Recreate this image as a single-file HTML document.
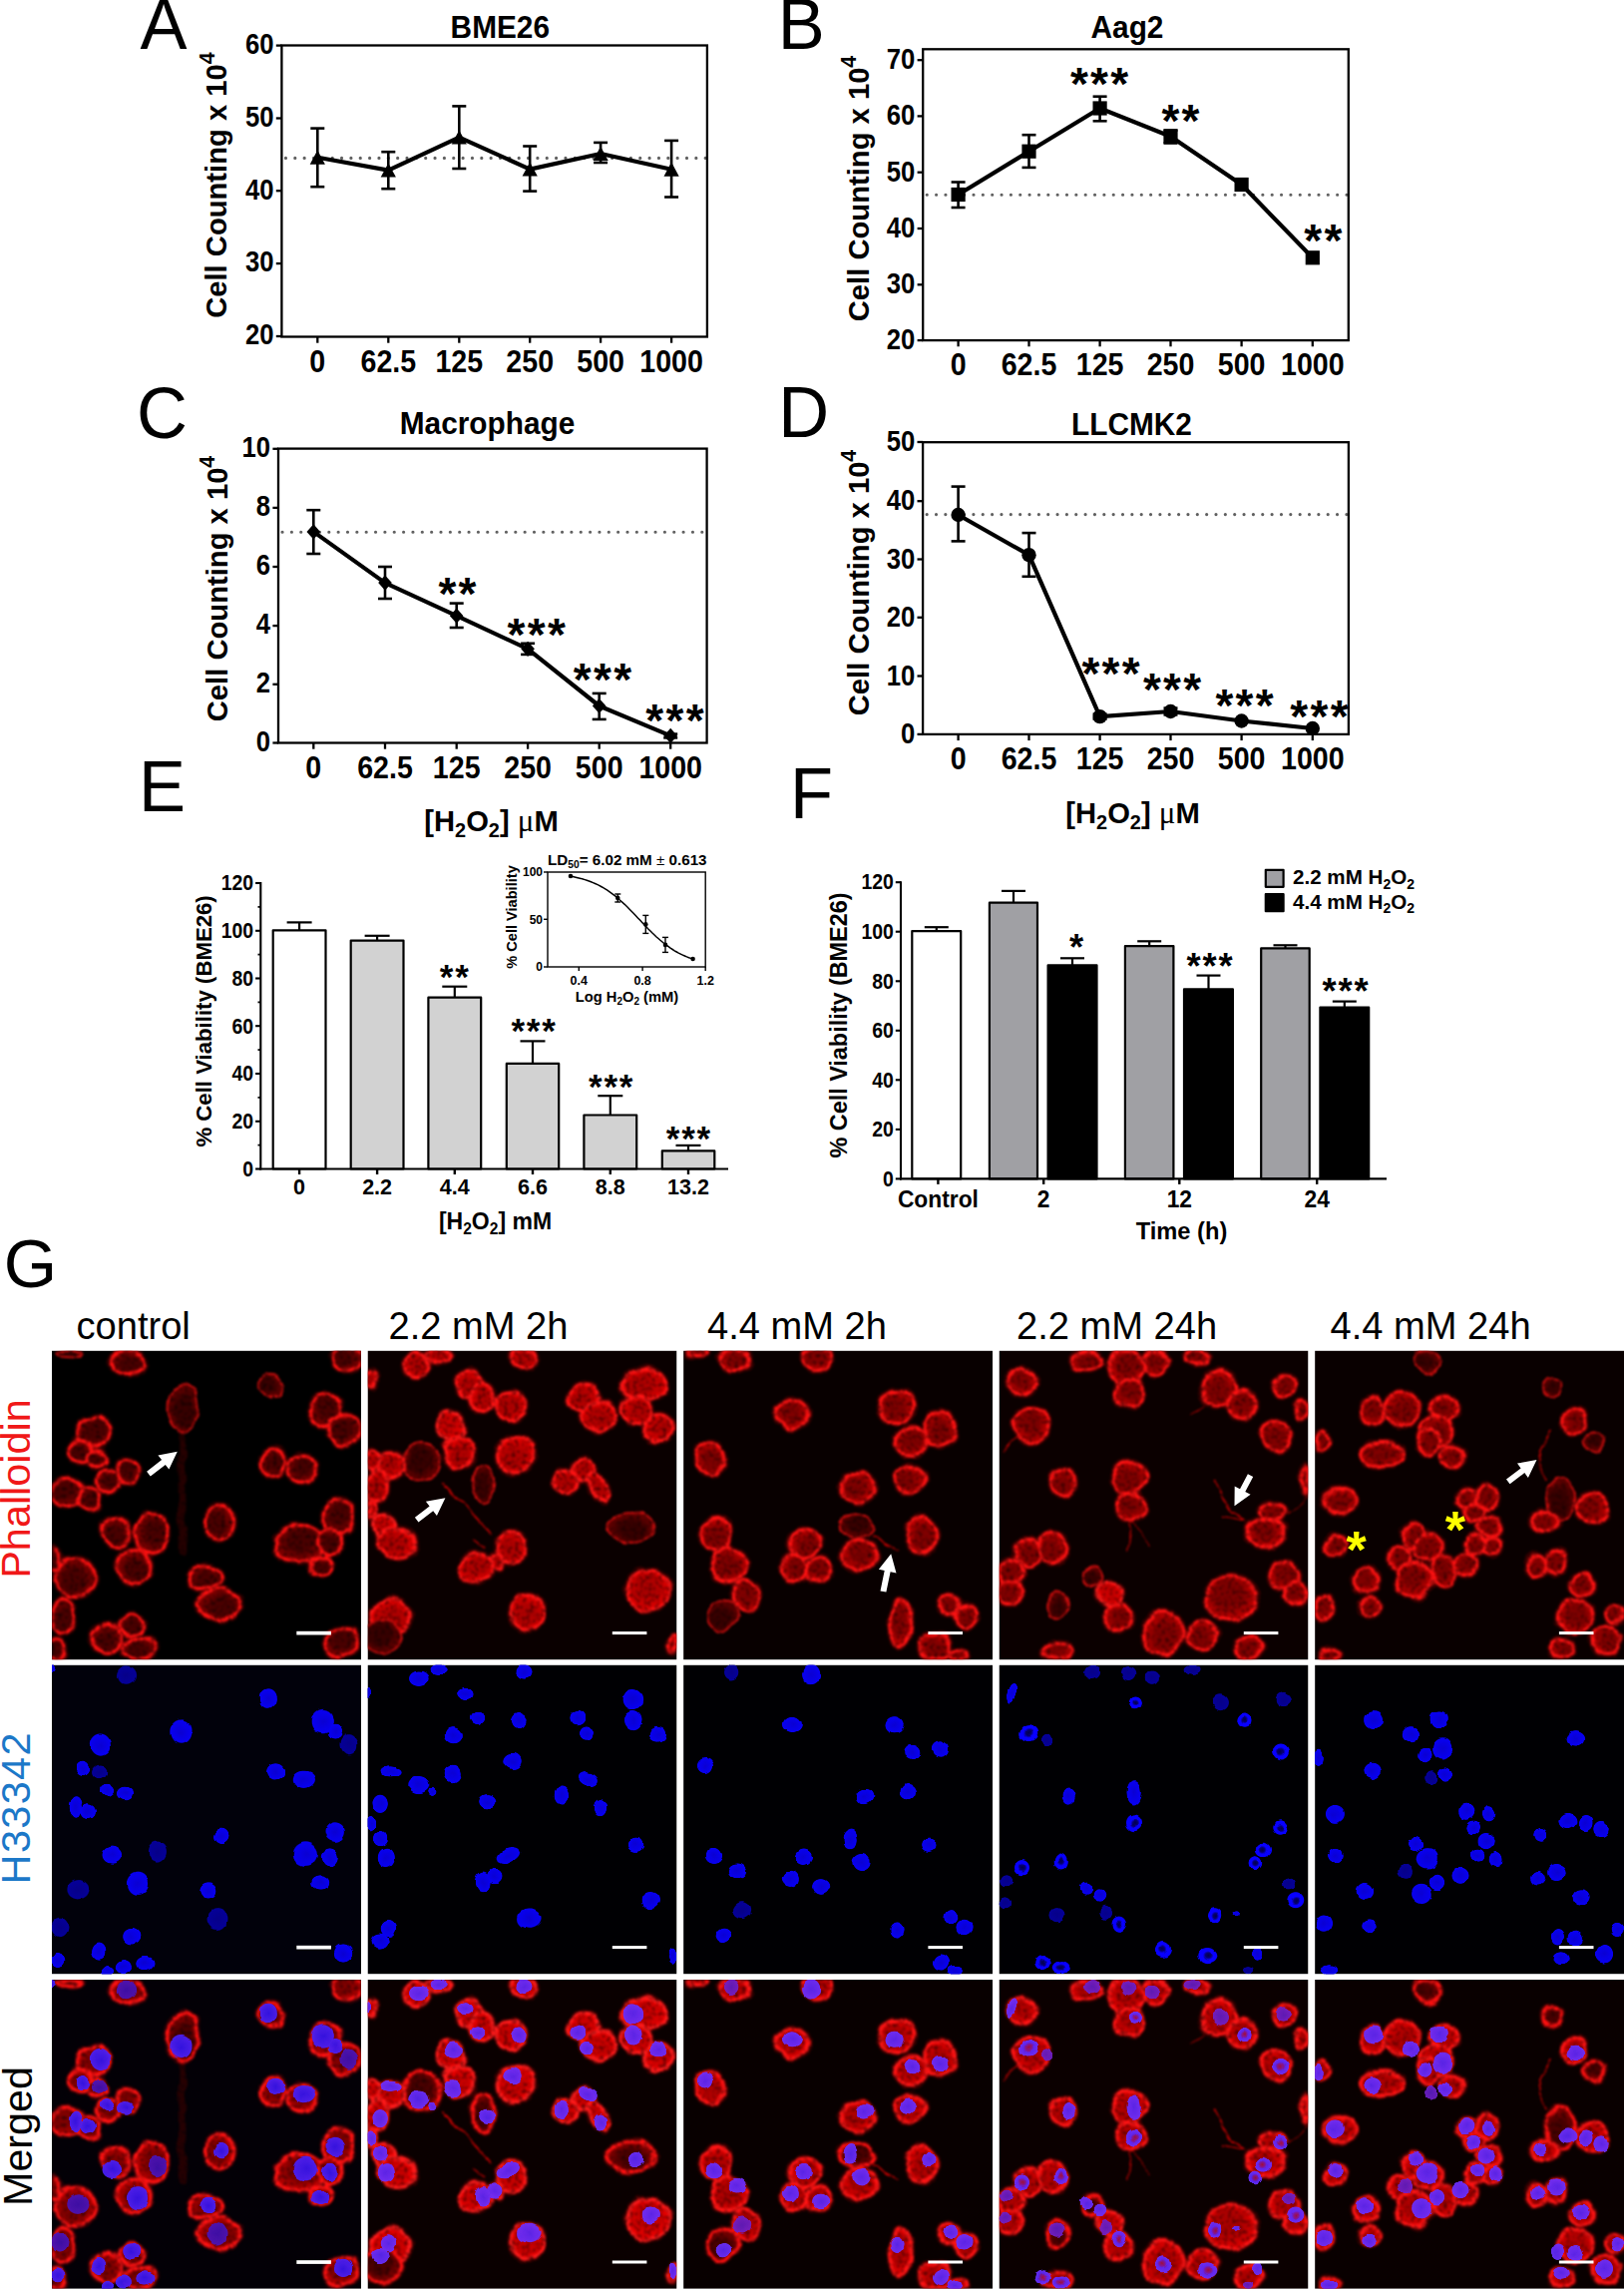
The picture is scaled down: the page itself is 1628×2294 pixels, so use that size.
<!DOCTYPE html>
<html lang="en"><head><meta charset="utf-8"><title>Figure</title>
<style>html,body{margin:0;padding:0;background:#fff}svg{display:block}text{font-family:"Liberation Sans", sans-serif}</style></head><body>
<svg width="1628" height="2294" viewBox="0 0 1628 2294">
<rect width="1628" height="2294" fill="#fff"/>
<defs>
<radialGradient id="gn00" cx="0.5" cy="0.5" r="0.5" fx="0.72" fy="0.50"><stop offset="0" stop-color="#4a0000"/><stop offset="0.55" stop-color="#4a0000"/><stop offset="1" stop-color="#900000"/></radialGradient>
<radialGradient id="gn01" cx="0.5" cy="0.5" r="0.5" fx="0.61" fy="0.69"><stop offset="0" stop-color="#4a0000"/><stop offset="0.55" stop-color="#4a0000"/><stop offset="1" stop-color="#900000"/></radialGradient>
<radialGradient id="gn02" cx="0.5" cy="0.5" r="0.5" fx="0.39" fy="0.69"><stop offset="0" stop-color="#4a0000"/><stop offset="0.55" stop-color="#4a0000"/><stop offset="1" stop-color="#900000"/></radialGradient>
<radialGradient id="gn03" cx="0.5" cy="0.5" r="0.5" fx="0.28" fy="0.50"><stop offset="0" stop-color="#4a0000"/><stop offset="0.55" stop-color="#4a0000"/><stop offset="1" stop-color="#900000"/></radialGradient>
<radialGradient id="gn04" cx="0.5" cy="0.5" r="0.5" fx="0.39" fy="0.31"><stop offset="0" stop-color="#4a0000"/><stop offset="0.55" stop-color="#4a0000"/><stop offset="1" stop-color="#900000"/></radialGradient>
<radialGradient id="gn05" cx="0.5" cy="0.5" r="0.5" fx="0.61" fy="0.31"><stop offset="0" stop-color="#4a0000"/><stop offset="0.55" stop-color="#4a0000"/><stop offset="1" stop-color="#900000"/></radialGradient>
<radialGradient id="gn10" cx="0.5" cy="0.5" r="0.5" fx="0.72" fy="0.50"><stop offset="0" stop-color="#b00000"/><stop offset="0.55" stop-color="#b00000"/><stop offset="1" stop-color="#e60000"/></radialGradient>
<radialGradient id="gn11" cx="0.5" cy="0.5" r="0.5" fx="0.61" fy="0.69"><stop offset="0" stop-color="#b00000"/><stop offset="0.55" stop-color="#b00000"/><stop offset="1" stop-color="#e60000"/></radialGradient>
<radialGradient id="gn12" cx="0.5" cy="0.5" r="0.5" fx="0.39" fy="0.69"><stop offset="0" stop-color="#b00000"/><stop offset="0.55" stop-color="#b00000"/><stop offset="1" stop-color="#e60000"/></radialGradient>
<radialGradient id="gn13" cx="0.5" cy="0.5" r="0.5" fx="0.28" fy="0.50"><stop offset="0" stop-color="#b00000"/><stop offset="0.55" stop-color="#b00000"/><stop offset="1" stop-color="#e60000"/></radialGradient>
<radialGradient id="gn14" cx="0.5" cy="0.5" r="0.5" fx="0.39" fy="0.31"><stop offset="0" stop-color="#b00000"/><stop offset="0.55" stop-color="#b00000"/><stop offset="1" stop-color="#e60000"/></radialGradient>
<radialGradient id="gn15" cx="0.5" cy="0.5" r="0.5" fx="0.61" fy="0.31"><stop offset="0" stop-color="#b00000"/><stop offset="0.55" stop-color="#b00000"/><stop offset="1" stop-color="#e60000"/></radialGradient>
<radialGradient id="gn20" cx="0.5" cy="0.5" r="0.5" fx="0.72" fy="0.50"><stop offset="0" stop-color="#800000"/><stop offset="0.55" stop-color="#800000"/><stop offset="1" stop-color="#c40000"/></radialGradient>
<radialGradient id="gn21" cx="0.5" cy="0.5" r="0.5" fx="0.61" fy="0.69"><stop offset="0" stop-color="#800000"/><stop offset="0.55" stop-color="#800000"/><stop offset="1" stop-color="#c40000"/></radialGradient>
<radialGradient id="gn22" cx="0.5" cy="0.5" r="0.5" fx="0.39" fy="0.69"><stop offset="0" stop-color="#800000"/><stop offset="0.55" stop-color="#800000"/><stop offset="1" stop-color="#c40000"/></radialGradient>
<radialGradient id="gn23" cx="0.5" cy="0.5" r="0.5" fx="0.28" fy="0.50"><stop offset="0" stop-color="#800000"/><stop offset="0.55" stop-color="#800000"/><stop offset="1" stop-color="#c40000"/></radialGradient>
<radialGradient id="gn24" cx="0.5" cy="0.5" r="0.5" fx="0.39" fy="0.31"><stop offset="0" stop-color="#800000"/><stop offset="0.55" stop-color="#800000"/><stop offset="1" stop-color="#c40000"/></radialGradient>
<radialGradient id="gn25" cx="0.5" cy="0.5" r="0.5" fx="0.61" fy="0.31"><stop offset="0" stop-color="#800000"/><stop offset="0.55" stop-color="#800000"/><stop offset="1" stop-color="#c40000"/></radialGradient>
<radialGradient id="gd0" cx="0.5" cy="0.5" r="0.5" fx="0.72" fy="0.50"><stop offset="0" stop-color="#380000"/><stop offset="0.55" stop-color="#380000"/><stop offset="1" stop-color="#6c0000"/></radialGradient>
<radialGradient id="gd1" cx="0.5" cy="0.5" r="0.5" fx="0.61" fy="0.69"><stop offset="0" stop-color="#380000"/><stop offset="0.55" stop-color="#380000"/><stop offset="1" stop-color="#6c0000"/></radialGradient>
<radialGradient id="gd2" cx="0.5" cy="0.5" r="0.5" fx="0.39" fy="0.69"><stop offset="0" stop-color="#380000"/><stop offset="0.55" stop-color="#380000"/><stop offset="1" stop-color="#6c0000"/></radialGradient>
<radialGradient id="gd3" cx="0.5" cy="0.5" r="0.5" fx="0.28" fy="0.50"><stop offset="0" stop-color="#380000"/><stop offset="0.55" stop-color="#380000"/><stop offset="1" stop-color="#6c0000"/></radialGradient>
<radialGradient id="gd4" cx="0.5" cy="0.5" r="0.5" fx="0.39" fy="0.31"><stop offset="0" stop-color="#380000"/><stop offset="0.55" stop-color="#380000"/><stop offset="1" stop-color="#6c0000"/></radialGradient>
<radialGradient id="gd5" cx="0.5" cy="0.5" r="0.5" fx="0.61" fy="0.31"><stop offset="0" stop-color="#380000"/><stop offset="0.55" stop-color="#380000"/><stop offset="1" stop-color="#6c0000"/></radialGradient>
<radialGradient id="gb0" cx="0.5" cy="0.5" r="0.5" fx="0.72" fy="0.50"><stop offset="0" stop-color="#c80000"/><stop offset="0.55" stop-color="#c80000"/><stop offset="1" stop-color="#f00000"/></radialGradient>
<radialGradient id="gb1" cx="0.5" cy="0.5" r="0.5" fx="0.61" fy="0.69"><stop offset="0" stop-color="#c80000"/><stop offset="0.55" stop-color="#c80000"/><stop offset="1" stop-color="#f00000"/></radialGradient>
<radialGradient id="gb2" cx="0.5" cy="0.5" r="0.5" fx="0.39" fy="0.69"><stop offset="0" stop-color="#c80000"/><stop offset="0.55" stop-color="#c80000"/><stop offset="1" stop-color="#f00000"/></radialGradient>
<radialGradient id="gb3" cx="0.5" cy="0.5" r="0.5" fx="0.28" fy="0.50"><stop offset="0" stop-color="#c80000"/><stop offset="0.55" stop-color="#c80000"/><stop offset="1" stop-color="#f00000"/></radialGradient>
<radialGradient id="gb4" cx="0.5" cy="0.5" r="0.5" fx="0.39" fy="0.31"><stop offset="0" stop-color="#c80000"/><stop offset="0.55" stop-color="#c80000"/><stop offset="1" stop-color="#f00000"/></radialGradient>
<radialGradient id="gb5" cx="0.5" cy="0.5" r="0.5" fx="0.61" fy="0.31"><stop offset="0" stop-color="#c80000"/><stop offset="0.55" stop-color="#c80000"/><stop offset="1" stop-color="#f00000"/></radialGradient>
<radialGradient id="gb" cx="50%" cy="50%" r="50%"><stop offset="0" stop-color="#0a00d2"/><stop offset="0.9" stop-color="#0800f0"/><stop offset="1" stop-color="#0000ff" stop-opacity="0"/></radialGradient>
<radialGradient id="gbd" cx="50%" cy="50%" r="50%"><stop offset="0" stop-color="#060088"/><stop offset="0.88" stop-color="#050098"/><stop offset="1" stop-color="#0000a0" stop-opacity="0"/></radialGradient>
<radialGradient id="gbr" cx="50%" cy="50%" r="50%"><stop offset="0" stop-color="#02004a"/><stop offset="0.3" stop-color="#050070"/><stop offset="0.55" stop-color="#0800ff"/><stop offset="0.88" stop-color="#0800ff"/><stop offset="1" stop-color="#0000ff" stop-opacity="0"/></radialGradient>
<radialGradient id="gm" cx="50%" cy="50%" r="50%"><stop offset="0" stop-color="#5626f6"/><stop offset="0.9" stop-color="#6a30ff"/><stop offset="1" stop-color="#6a30ff" stop-opacity="0"/></radialGradient>
<radialGradient id="gm0" cx="50%" cy="50%" r="50%"><stop offset="0" stop-color="#3214ee"/><stop offset="0.9" stop-color="#4a20f8"/><stop offset="1" stop-color="#4a20f8" stop-opacity="0"/></radialGradient>
<radialGradient id="gmd" cx="50%" cy="50%" r="50%"><stop offset="0" stop-color="#5a1cc0"/><stop offset="0.9" stop-color="#7020c8"/><stop offset="1" stop-color="#7020c8" stop-opacity="0"/></radialGradient>
<radialGradient id="gm0d" cx="50%" cy="50%" r="50%"><stop offset="0" stop-color="#3a10b0"/><stop offset="0.9" stop-color="#4a14b8"/><stop offset="1" stop-color="#4a14b8" stop-opacity="0"/></radialGradient>
<radialGradient id="gmr" cx="50%" cy="50%" r="50%"><stop offset="0" stop-color="#a01040"/><stop offset="0.35" stop-color="#8018a0"/><stop offset="0.55" stop-color="#5a28ff"/><stop offset="0.9" stop-color="#6a30ff"/><stop offset="1" stop-color="#6a30ff" stop-opacity="0"/></radialGradient>
<filter id="fr0" filterUnits="userSpaceOnUse" x="0" y="0" width="310.0" height="309.8" color-interpolation-filters="sRGB"><feTurbulence type="fractalNoise" baseFrequency="0.045" numOctaves="2" seed="3" result="n"/><feDisplacementMap in="SourceGraphic" in2="n" scale="9" xChannelSelector="R" yChannelSelector="G" result="d"/><feTurbulence type="fractalNoise" baseFrequency="0.27" numOctaves="2" seed="11" result="n2"/><feColorMatrix in="n2" type="matrix" values="0 0 0 0 1  0 0 0 0 1  0 0 0 0 1  1.7 0 0 0 0.08" result="a"/><feComposite in="d" in2="a" operator="in" result="t"/><feGaussianBlur in="t" stdDeviation="0.95"/></filter>
<filter id="fb0" filterUnits="userSpaceOnUse" x="0" y="0" width="310.0" height="309.8" color-interpolation-filters="sRGB"><feTurbulence type="fractalNoise" baseFrequency="0.07" numOctaves="2" seed="5" result="n"/><feDisplacementMap in="SourceGraphic" in2="n" scale="5" xChannelSelector="R" yChannelSelector="G" result="d"/><feGaussianBlur in="d" stdDeviation="0.5"/></filter>
<clipPath id="clip0"><rect x="0" y="0" width="310.0" height="309.8"/></clipPath>
<filter id="fr1" filterUnits="userSpaceOnUse" x="0" y="0" width="310.0" height="309.8" color-interpolation-filters="sRGB"><feTurbulence type="fractalNoise" baseFrequency="0.045" numOctaves="2" seed="10" result="n"/><feDisplacementMap in="SourceGraphic" in2="n" scale="9" xChannelSelector="R" yChannelSelector="G" result="d"/><feTurbulence type="fractalNoise" baseFrequency="0.27" numOctaves="2" seed="16" result="n2"/><feColorMatrix in="n2" type="matrix" values="0 0 0 0 1  0 0 0 0 1  0 0 0 0 1  1.7 0 0 0 0.08" result="a"/><feComposite in="d" in2="a" operator="in" result="t"/><feGaussianBlur in="t" stdDeviation="0.95"/></filter>
<filter id="fb1" filterUnits="userSpaceOnUse" x="0" y="0" width="310.0" height="309.8" color-interpolation-filters="sRGB"><feTurbulence type="fractalNoise" baseFrequency="0.07" numOctaves="2" seed="8" result="n"/><feDisplacementMap in="SourceGraphic" in2="n" scale="5" xChannelSelector="R" yChannelSelector="G" result="d"/><feGaussianBlur in="d" stdDeviation="0.5"/></filter>
<clipPath id="clip1"><rect x="0" y="0" width="310.0" height="309.8"/></clipPath>
<filter id="fr2" filterUnits="userSpaceOnUse" x="0" y="0" width="310.0" height="309.8" color-interpolation-filters="sRGB"><feTurbulence type="fractalNoise" baseFrequency="0.045" numOctaves="2" seed="17" result="n"/><feDisplacementMap in="SourceGraphic" in2="n" scale="9" xChannelSelector="R" yChannelSelector="G" result="d"/><feTurbulence type="fractalNoise" baseFrequency="0.27" numOctaves="2" seed="21" result="n2"/><feColorMatrix in="n2" type="matrix" values="0 0 0 0 1  0 0 0 0 1  0 0 0 0 1  1.7 0 0 0 0.08" result="a"/><feComposite in="d" in2="a" operator="in" result="t"/><feGaussianBlur in="t" stdDeviation="0.95"/></filter>
<filter id="fb2" filterUnits="userSpaceOnUse" x="0" y="0" width="310.0" height="309.8" color-interpolation-filters="sRGB"><feTurbulence type="fractalNoise" baseFrequency="0.07" numOctaves="2" seed="11" result="n"/><feDisplacementMap in="SourceGraphic" in2="n" scale="5" xChannelSelector="R" yChannelSelector="G" result="d"/><feGaussianBlur in="d" stdDeviation="0.5"/></filter>
<clipPath id="clip2"><rect x="0" y="0" width="310.0" height="309.8"/></clipPath>
<filter id="fr3" filterUnits="userSpaceOnUse" x="0" y="0" width="310.0" height="309.8" color-interpolation-filters="sRGB"><feTurbulence type="fractalNoise" baseFrequency="0.045" numOctaves="2" seed="24" result="n"/><feDisplacementMap in="SourceGraphic" in2="n" scale="9" xChannelSelector="R" yChannelSelector="G" result="d"/><feTurbulence type="fractalNoise" baseFrequency="0.27" numOctaves="2" seed="26" result="n2"/><feColorMatrix in="n2" type="matrix" values="0 0 0 0 1  0 0 0 0 1  0 0 0 0 1  1.7 0 0 0 0.08" result="a"/><feComposite in="d" in2="a" operator="in" result="t"/><feGaussianBlur in="t" stdDeviation="0.95"/></filter>
<filter id="fb3" filterUnits="userSpaceOnUse" x="0" y="0" width="310.0" height="309.8" color-interpolation-filters="sRGB"><feTurbulence type="fractalNoise" baseFrequency="0.07" numOctaves="2" seed="14" result="n"/><feDisplacementMap in="SourceGraphic" in2="n" scale="5" xChannelSelector="R" yChannelSelector="G" result="d"/><feGaussianBlur in="d" stdDeviation="0.5"/></filter>
<clipPath id="clip3"><rect x="0" y="0" width="310.0" height="309.8"/></clipPath>
<filter id="fr4" filterUnits="userSpaceOnUse" x="0" y="0" width="310.0" height="309.8" color-interpolation-filters="sRGB"><feTurbulence type="fractalNoise" baseFrequency="0.045" numOctaves="2" seed="31" result="n"/><feDisplacementMap in="SourceGraphic" in2="n" scale="9" xChannelSelector="R" yChannelSelector="G" result="d"/><feTurbulence type="fractalNoise" baseFrequency="0.27" numOctaves="2" seed="31" result="n2"/><feColorMatrix in="n2" type="matrix" values="0 0 0 0 1  0 0 0 0 1  0 0 0 0 1  1.7 0 0 0 0.08" result="a"/><feComposite in="d" in2="a" operator="in" result="t"/><feGaussianBlur in="t" stdDeviation="0.95"/></filter>
<filter id="fb4" filterUnits="userSpaceOnUse" x="0" y="0" width="310.0" height="309.8" color-interpolation-filters="sRGB"><feTurbulence type="fractalNoise" baseFrequency="0.07" numOctaves="2" seed="17" result="n"/><feDisplacementMap in="SourceGraphic" in2="n" scale="5" xChannelSelector="R" yChannelSelector="G" result="d"/><feGaussianBlur in="d" stdDeviation="0.5"/></filter>
<clipPath id="clip4"><rect x="0" y="0" width="310.0" height="309.8"/></clipPath>
</defs>
<text transform="translate(140.5 49) scale(1 1.025)" font-size="70.5" fill="#000">A</text>
<text transform="translate(779.8 48.5) scale(1 1.025)" font-size="70.5" fill="#000">B</text>
<text transform="translate(137 439.2) scale(1 1.025)" font-size="70.5" fill="#000">C</text>
<text transform="translate(780.2 437.5) scale(1 1.025)" font-size="70.5" fill="#000">D</text>
<text transform="translate(139.1 812.6) scale(1 1.025)" font-size="70.5" fill="#000">E</text>
<text transform="translate(792 819.9) scale(1 1.025)" font-size="70.5" fill="#000">F</text>
<text transform="translate(3.7 1290.4) scale(1 1.0)" font-size="68.6" fill="#000">G</text>
<line x1="286.4" y1="158.4" x2="707.9" y2="158.4" stroke="#606060" stroke-width="3.1" stroke-linecap="round" stroke-dasharray="0.1 9.25"/>
<rect x="282.4" y="45.5" width="426.5" height="292.0" fill="none" stroke="#000" stroke-width="2.3"/>
<line x1="276.8" y1="45.6" x2="282.4" y2="45.6" stroke="#000" stroke-width="2.3"/>
<text transform="translate(274.5 53.9) scale(0.95 1.06)" font-size="27" font-weight="bold" text-anchor="end" fill="#000">60</text>
<line x1="276.8" y1="118.5" x2="282.4" y2="118.5" stroke="#000" stroke-width="2.3"/>
<text transform="translate(274.5 126.8) scale(0.95 1.06)" font-size="27" font-weight="bold" text-anchor="end" fill="#000">50</text>
<line x1="276.8" y1="191.2" x2="282.4" y2="191.2" stroke="#000" stroke-width="2.3"/>
<text transform="translate(274.5 199.5) scale(0.95 1.06)" font-size="27" font-weight="bold" text-anchor="end" fill="#000">40</text>
<line x1="276.8" y1="264.1" x2="282.4" y2="264.1" stroke="#000" stroke-width="2.3"/>
<text transform="translate(274.5 272.4) scale(0.95 1.06)" font-size="27" font-weight="bold" text-anchor="end" fill="#000">30</text>
<line x1="276.8" y1="337.0" x2="282.4" y2="337.0" stroke="#000" stroke-width="2.3"/>
<text transform="translate(274.5 345.3) scale(0.95 1.06)" font-size="27" font-weight="bold" text-anchor="end" fill="#000">20</text>
<line x1="318.3" y1="337.5" x2="318.3" y2="343.7" stroke="#000" stroke-width="2.3"/>
<text transform="translate(318.3 372.5) scale(1 1.08)" font-size="28.6" font-weight="bold" text-anchor="middle" fill="#000">0</text>
<line x1="389.3" y1="337.5" x2="389.3" y2="343.7" stroke="#000" stroke-width="2.3"/>
<text transform="translate(389.3 372.5) scale(1 1.08)" font-size="28.6" font-weight="bold" text-anchor="middle" fill="#000">62.5</text>
<line x1="460.3" y1="337.5" x2="460.3" y2="343.7" stroke="#000" stroke-width="2.3"/>
<text transform="translate(460.3 372.5) scale(1 1.08)" font-size="28.6" font-weight="bold" text-anchor="middle" fill="#000">125</text>
<line x1="531.2" y1="337.5" x2="531.2" y2="343.7" stroke="#000" stroke-width="2.3"/>
<text transform="translate(531.2 372.5) scale(1 1.08)" font-size="28.6" font-weight="bold" text-anchor="middle" fill="#000">250</text>
<line x1="602.1" y1="337.5" x2="602.1" y2="343.7" stroke="#000" stroke-width="2.3"/>
<text transform="translate(602.1 372.5) scale(1 1.08)" font-size="28.6" font-weight="bold" text-anchor="middle" fill="#000">500</text>
<line x1="673.1" y1="337.5" x2="673.1" y2="343.7" stroke="#000" stroke-width="2.3"/>
<text transform="translate(673.1 372.5) scale(1 1.08)" font-size="28.6" font-weight="bold" text-anchor="middle" fill="#000">1000</text>
<line x1="318.3" y1="128.6" x2="318.3" y2="187.2" stroke="#000" stroke-width="2.6"/>
<line x1="311.3" y1="128.6" x2="325.3" y2="128.6" stroke="#000" stroke-width="2.6"/>
<line x1="311.3" y1="187.2" x2="325.3" y2="187.2" stroke="#000" stroke-width="2.6"/>
<line x1="389.3" y1="152.2" x2="389.3" y2="189.2" stroke="#000" stroke-width="2.6"/>
<line x1="382.3" y1="152.2" x2="396.3" y2="152.2" stroke="#000" stroke-width="2.6"/>
<line x1="382.3" y1="189.2" x2="396.3" y2="189.2" stroke="#000" stroke-width="2.6"/>
<line x1="460.3" y1="106.4" x2="460.3" y2="169.0" stroke="#000" stroke-width="2.6"/>
<line x1="453.3" y1="106.4" x2="467.3" y2="106.4" stroke="#000" stroke-width="2.6"/>
<line x1="453.3" y1="169.0" x2="467.3" y2="169.0" stroke="#000" stroke-width="2.6"/>
<line x1="531.2" y1="146.5" x2="531.2" y2="191.6" stroke="#000" stroke-width="2.6"/>
<line x1="524.2" y1="146.5" x2="538.2" y2="146.5" stroke="#000" stroke-width="2.6"/>
<line x1="524.2" y1="191.6" x2="538.2" y2="191.6" stroke="#000" stroke-width="2.6"/>
<line x1="602.1" y1="142.9" x2="602.1" y2="163.0" stroke="#000" stroke-width="2.6"/>
<line x1="595.1" y1="142.9" x2="609.1" y2="142.9" stroke="#000" stroke-width="2.6"/>
<line x1="595.1" y1="163.0" x2="609.1" y2="163.0" stroke="#000" stroke-width="2.6"/>
<line x1="673.1" y1="140.9" x2="673.1" y2="197.5" stroke="#000" stroke-width="2.6"/>
<line x1="666.1" y1="140.9" x2="680.1" y2="140.9" stroke="#000" stroke-width="2.6"/>
<line x1="666.1" y1="197.5" x2="680.1" y2="197.5" stroke="#000" stroke-width="2.6"/>
<polyline points="318.3,157.8 389.3,170.6 460.3,137.6 531.2,169.6 602.1,154.0 673.1,169.8" fill="none" stroke="#000" stroke-width="4.2" stroke-linejoin="round"/>
<polygon points="318.3,150.6 310.7,164.7 325.9,164.7" fill="#000"/>
<polygon points="389.3,163.4 381.7,177.5 396.9,177.5" fill="#000"/>
<polygon points="460.3,130.4 452.7,144.5 467.9,144.5" fill="#000"/>
<polygon points="531.2,162.4 523.6,176.5 538.8,176.5" fill="#000"/>
<polygon points="602.1,146.8 594.5,160.9 609.7,160.9" fill="#000"/>
<polygon points="673.1,162.6 665.5,176.7 680.7,176.7" fill="#000"/>
<text transform="translate(501.3 37.9) scale(1 1.03)" font-size="29.8" font-weight="bold" text-anchor="middle" fill="#000">BME26</text>
<text x="227.5" y="185.6" font-size="29.2" font-weight="bold" text-anchor="middle" fill="#000" transform="rotate(-90 227.5 185.6)">Cell Counting x 10<tspan font-size="21.3" dy="-12.8">4</tspan></text>
<line x1="929.2" y1="195.2" x2="1350.8" y2="195.2" stroke="#606060" stroke-width="3.1" stroke-linecap="round" stroke-dasharray="0.1 9.25"/>
<rect x="925.2" y="49.3" width="426.6" height="291.8" fill="none" stroke="#000" stroke-width="2.3"/>
<line x1="919.6" y1="60.2" x2="925.2" y2="60.2" stroke="#000" stroke-width="2.3"/>
<text transform="translate(917.3 69.0) scale(0.95 1.06)" font-size="27" font-weight="bold" text-anchor="end" fill="#000">70</text>
<line x1="919.6" y1="116.4" x2="925.2" y2="116.4" stroke="#000" stroke-width="2.3"/>
<text transform="translate(917.3 125.2) scale(0.95 1.06)" font-size="27" font-weight="bold" text-anchor="end" fill="#000">60</text>
<line x1="919.6" y1="172.7" x2="925.2" y2="172.7" stroke="#000" stroke-width="2.3"/>
<text transform="translate(917.3 181.5) scale(0.95 1.06)" font-size="27" font-weight="bold" text-anchor="end" fill="#000">50</text>
<line x1="919.6" y1="229.0" x2="925.2" y2="229.0" stroke="#000" stroke-width="2.3"/>
<text transform="translate(917.3 237.8) scale(0.95 1.06)" font-size="27" font-weight="bold" text-anchor="end" fill="#000">40</text>
<line x1="919.6" y1="285.3" x2="925.2" y2="285.3" stroke="#000" stroke-width="2.3"/>
<text transform="translate(917.3 294.1) scale(0.95 1.06)" font-size="27" font-weight="bold" text-anchor="end" fill="#000">30</text>
<line x1="919.6" y1="341.1" x2="925.2" y2="341.1" stroke="#000" stroke-width="2.3"/>
<text transform="translate(917.3 349.9) scale(0.95 1.06)" font-size="27" font-weight="bold" text-anchor="end" fill="#000">20</text>
<line x1="960.6" y1="341.1" x2="960.6" y2="347.3" stroke="#000" stroke-width="2.3"/>
<text transform="translate(960.6 376.1) scale(1 1.08)" font-size="28.6" font-weight="bold" text-anchor="middle" fill="#000">0</text>
<line x1="1031.5" y1="341.1" x2="1031.5" y2="347.3" stroke="#000" stroke-width="2.3"/>
<text transform="translate(1031.5 376.1) scale(1 1.08)" font-size="28.6" font-weight="bold" text-anchor="middle" fill="#000">62.5</text>
<line x1="1102.6" y1="341.1" x2="1102.6" y2="347.3" stroke="#000" stroke-width="2.3"/>
<text transform="translate(1102.6 376.1) scale(1 1.08)" font-size="28.6" font-weight="bold" text-anchor="middle" fill="#000">125</text>
<line x1="1173.5" y1="341.1" x2="1173.5" y2="347.3" stroke="#000" stroke-width="2.3"/>
<text transform="translate(1173.5 376.1) scale(1 1.08)" font-size="28.6" font-weight="bold" text-anchor="middle" fill="#000">250</text>
<line x1="1244.6" y1="341.1" x2="1244.6" y2="347.3" stroke="#000" stroke-width="2.3"/>
<text transform="translate(1244.6 376.1) scale(1 1.08)" font-size="28.6" font-weight="bold" text-anchor="middle" fill="#000">500</text>
<line x1="1315.8" y1="341.1" x2="1315.8" y2="347.3" stroke="#000" stroke-width="2.3"/>
<text transform="translate(1315.8 376.1) scale(1 1.08)" font-size="28.6" font-weight="bold" text-anchor="middle" fill="#000">1000</text>
<line x1="960.6" y1="182.5" x2="960.6" y2="208.0" stroke="#000" stroke-width="2.6"/>
<line x1="953.6" y1="182.5" x2="967.6" y2="182.5" stroke="#000" stroke-width="2.6"/>
<line x1="953.6" y1="208.0" x2="967.6" y2="208.0" stroke="#000" stroke-width="2.6"/>
<line x1="1031.5" y1="135.2" x2="1031.5" y2="167.9" stroke="#000" stroke-width="2.6"/>
<line x1="1024.5" y1="135.2" x2="1038.5" y2="135.2" stroke="#000" stroke-width="2.6"/>
<line x1="1024.5" y1="167.9" x2="1038.5" y2="167.9" stroke="#000" stroke-width="2.6"/>
<line x1="1102.6" y1="96.7" x2="1102.6" y2="121.3" stroke="#000" stroke-width="2.6"/>
<line x1="1095.6" y1="96.7" x2="1109.6" y2="96.7" stroke="#000" stroke-width="2.6"/>
<line x1="1095.6" y1="121.3" x2="1109.6" y2="121.3" stroke="#000" stroke-width="2.6"/>
<line x1="1173.5" y1="130.5" x2="1173.5" y2="143.5" stroke="#000" stroke-width="2.6"/>
<line x1="1166.5" y1="130.5" x2="1180.5" y2="130.5" stroke="#000" stroke-width="2.6"/>
<line x1="1166.5" y1="143.5" x2="1180.5" y2="143.5" stroke="#000" stroke-width="2.6"/>
<polyline points="960.6,195.0 1031.5,151.7 1102.6,108.5 1173.5,136.7 1244.6,185.0 1315.8,258.3" fill="none" stroke="#000" stroke-width="4.2" stroke-linejoin="round"/>
<rect x="953.5" y="187.9" width="14.2" height="14.2" fill="#000"/>
<rect x="1024.4" y="144.6" width="14.2" height="14.2" fill="#000"/>
<rect x="1095.5" y="101.4" width="14.2" height="14.2" fill="#000"/>
<rect x="1166.4" y="129.6" width="14.2" height="14.2" fill="#000"/>
<rect x="1237.5" y="177.9" width="14.2" height="14.2" fill="#000"/>
<rect x="1308.7" y="251.2" width="14.2" height="14.2" fill="#000"/>
<text transform="translate(1130.0 37.8) scale(1 1.03)" font-size="29.8" font-weight="bold" text-anchor="middle" fill="#000">Aag2</text>
<text x="870.5" y="189.0" font-size="29.2" font-weight="bold" text-anchor="middle" fill="#000" transform="rotate(-90 870.5 189.0)">Cell Counting x 10<tspan font-size="21.3" dy="-12.8">4</tspan></text>
<text x="1103.2" y="100.3" font-size="46" font-weight="bold" text-anchor="middle" fill="#000" letter-spacing="2.3">***</text>
<text x="1184.6" y="137.3" font-size="46" font-weight="bold" text-anchor="middle" fill="#000" letter-spacing="2.3">**</text>
<text x="1327.4" y="257.0" font-size="46" font-weight="bold" text-anchor="middle" fill="#000" letter-spacing="2.3">**</text>
<line x1="283.0" y1="533.3" x2="707.6" y2="533.3" stroke="#606060" stroke-width="3.1" stroke-linecap="round" stroke-dasharray="0.1 9.25"/>
<rect x="279.0" y="449.6" width="429.6" height="294.9" fill="none" stroke="#000" stroke-width="2.3"/>
<line x1="273.4" y1="449.8" x2="279.0" y2="449.8" stroke="#000" stroke-width="2.3"/>
<text transform="translate(271.1 458.1) scale(0.95 1.06)" font-size="27" font-weight="bold" text-anchor="end" fill="#000">10</text>
<line x1="273.4" y1="508.9" x2="279.0" y2="508.9" stroke="#000" stroke-width="2.3"/>
<text transform="translate(271.1 517.2) scale(0.95 1.06)" font-size="27" font-weight="bold" text-anchor="end" fill="#000">8</text>
<line x1="273.4" y1="568.0" x2="279.0" y2="568.0" stroke="#000" stroke-width="2.3"/>
<text transform="translate(271.1 576.3) scale(0.95 1.06)" font-size="27" font-weight="bold" text-anchor="end" fill="#000">6</text>
<line x1="273.4" y1="627.1" x2="279.0" y2="627.1" stroke="#000" stroke-width="2.3"/>
<text transform="translate(271.1 635.4) scale(0.95 1.06)" font-size="27" font-weight="bold" text-anchor="end" fill="#000">4</text>
<line x1="273.4" y1="685.8" x2="279.0" y2="685.8" stroke="#000" stroke-width="2.3"/>
<text transform="translate(271.1 694.1) scale(0.95 1.06)" font-size="27" font-weight="bold" text-anchor="end" fill="#000">2</text>
<line x1="273.4" y1="744.5" x2="279.0" y2="744.5" stroke="#000" stroke-width="2.3"/>
<text transform="translate(271.1 752.8) scale(0.95 1.06)" font-size="27" font-weight="bold" text-anchor="end" fill="#000">0</text>
<line x1="314.3" y1="744.5" x2="314.3" y2="750.7" stroke="#000" stroke-width="2.3"/>
<text transform="translate(314.3 779.5) scale(1 1.08)" font-size="28.6" font-weight="bold" text-anchor="middle" fill="#000">0</text>
<line x1="386.0" y1="744.5" x2="386.0" y2="750.7" stroke="#000" stroke-width="2.3"/>
<text transform="translate(386.0 779.5) scale(1 1.08)" font-size="28.6" font-weight="bold" text-anchor="middle" fill="#000">62.5</text>
<line x1="457.7" y1="744.5" x2="457.7" y2="750.7" stroke="#000" stroke-width="2.3"/>
<text transform="translate(457.7 779.5) scale(1 1.08)" font-size="28.6" font-weight="bold" text-anchor="middle" fill="#000">125</text>
<line x1="529.1" y1="744.5" x2="529.1" y2="750.7" stroke="#000" stroke-width="2.3"/>
<text transform="translate(529.1 779.5) scale(1 1.08)" font-size="28.6" font-weight="bold" text-anchor="middle" fill="#000">250</text>
<line x1="600.7" y1="744.5" x2="600.7" y2="750.7" stroke="#000" stroke-width="2.3"/>
<text transform="translate(600.7 779.5) scale(1 1.08)" font-size="28.6" font-weight="bold" text-anchor="middle" fill="#000">500</text>
<line x1="672.2" y1="744.5" x2="672.2" y2="750.7" stroke="#000" stroke-width="2.3"/>
<text transform="translate(672.2 779.5) scale(1 1.08)" font-size="28.6" font-weight="bold" text-anchor="middle" fill="#000">1000</text>
<line x1="314.3" y1="511.2" x2="314.3" y2="555.0" stroke="#000" stroke-width="2.6"/>
<line x1="307.3" y1="511.2" x2="321.3" y2="511.2" stroke="#000" stroke-width="2.6"/>
<line x1="307.3" y1="555.0" x2="321.3" y2="555.0" stroke="#000" stroke-width="2.6"/>
<line x1="386.0" y1="568.0" x2="386.0" y2="600.0" stroke="#000" stroke-width="2.6"/>
<line x1="379.0" y1="568.0" x2="393.0" y2="568.0" stroke="#000" stroke-width="2.6"/>
<line x1="379.0" y1="600.0" x2="393.0" y2="600.0" stroke="#000" stroke-width="2.6"/>
<line x1="457.7" y1="604.6" x2="457.7" y2="629.0" stroke="#000" stroke-width="2.6"/>
<line x1="450.7" y1="604.6" x2="464.7" y2="604.6" stroke="#000" stroke-width="2.6"/>
<line x1="450.7" y1="629.0" x2="464.7" y2="629.0" stroke="#000" stroke-width="2.6"/>
<line x1="529.1" y1="644.8" x2="529.1" y2="655.9" stroke="#000" stroke-width="2.6"/>
<line x1="522.1" y1="644.8" x2="536.1" y2="644.8" stroke="#000" stroke-width="2.6"/>
<line x1="522.1" y1="655.9" x2="536.1" y2="655.9" stroke="#000" stroke-width="2.6"/>
<line x1="600.7" y1="694.9" x2="600.7" y2="720.9" stroke="#000" stroke-width="2.6"/>
<line x1="593.7" y1="694.9" x2="607.7" y2="694.9" stroke="#000" stroke-width="2.6"/>
<line x1="593.7" y1="720.9" x2="607.7" y2="720.9" stroke="#000" stroke-width="2.6"/>
<line x1="672.2" y1="735.6" x2="672.2" y2="739.4" stroke="#000" stroke-width="2.6"/>
<line x1="665.2" y1="735.6" x2="679.2" y2="735.6" stroke="#000" stroke-width="2.6"/>
<line x1="665.2" y1="739.4" x2="679.2" y2="739.4" stroke="#000" stroke-width="2.6"/>
<polyline points="314.3,532.9 386.0,584.1 457.7,617.2 529.1,650.3 600.7,707.5 672.2,737.4" fill="none" stroke="#000" stroke-width="4.2" stroke-linejoin="round"/>
<polygon points="314.3,525.3 307.5,532.9 314.3,540.5 321.1,532.9" fill="#000"/>
<polygon points="386.0,576.5 379.2,584.1 386.0,591.7 392.8,584.1" fill="#000"/>
<polygon points="457.7,609.6 450.9,617.2 457.7,624.8 464.5,617.2" fill="#000"/>
<polygon points="529.1,642.7 522.3,650.3 529.1,657.9 535.9,650.3" fill="#000"/>
<polygon points="600.7,699.9 593.9,707.5 600.7,715.1 607.5,707.5" fill="#000"/>
<polygon points="672.2,729.8 665.4,737.4 672.2,745.0 679.0,737.4" fill="#000"/>
<text transform="translate(488.5 434.5) scale(1 1.03)" font-size="29.8" font-weight="bold" text-anchor="middle" fill="#000">Macrophage</text>
<text x="227.5" y="590.0" font-size="29.2" font-weight="bold" text-anchor="middle" fill="#000" transform="rotate(-90 227.5 590.0)">Cell Counting x 10<tspan font-size="21.3" dy="-12.8">4</tspan></text>
<text x="459.6" y="611.3" font-size="46" font-weight="bold" text-anchor="middle" fill="#000" letter-spacing="2.3">**</text>
<text x="538.9" y="651.5" font-size="46" font-weight="bold" text-anchor="middle" fill="#000" letter-spacing="2.3">***</text>
<text x="605.1" y="696.9" font-size="46" font-weight="bold" text-anchor="middle" fill="#000" letter-spacing="2.3">***</text>
<text x="677.6" y="737.5" font-size="46" font-weight="bold" text-anchor="middle" fill="#000" letter-spacing="2.3">***</text>
<text x="492.5" y="832.5" font-size="29.2" font-weight="bold" text-anchor="middle" fill="#000">[H<tspan font-size="19.9" dy="6.4">2</tspan><tspan dy="-6.4">O</tspan><tspan font-size="19.9" dy="6.4">2</tspan><tspan dy="-6.4" font-size="29.2">]</tspan> <tspan font-family="Liberation Serif, DejaVu Serif, serif" font-weight="normal" font-size="31">μ</tspan>M</text>
<line x1="929.1" y1="515.6" x2="1350.9" y2="515.6" stroke="#606060" stroke-width="3.1" stroke-linecap="round" stroke-dasharray="0.1 9.25"/>
<rect x="925.1" y="443.2" width="426.8" height="292.7" fill="none" stroke="#000" stroke-width="2.3"/>
<line x1="919.5" y1="443.0" x2="925.1" y2="443.0" stroke="#000" stroke-width="2.3"/>
<text transform="translate(917.2 452.1) scale(0.95 1.06)" font-size="27" font-weight="bold" text-anchor="end" fill="#000">50</text>
<line x1="919.5" y1="502.2" x2="925.1" y2="502.2" stroke="#000" stroke-width="2.3"/>
<text transform="translate(917.2 511.3) scale(0.95 1.06)" font-size="27" font-weight="bold" text-anchor="end" fill="#000">40</text>
<line x1="919.5" y1="560.5" x2="925.1" y2="560.5" stroke="#000" stroke-width="2.3"/>
<text transform="translate(917.2 569.6) scale(0.95 1.06)" font-size="27" font-weight="bold" text-anchor="end" fill="#000">30</text>
<line x1="919.5" y1="618.8" x2="925.1" y2="618.8" stroke="#000" stroke-width="2.3"/>
<text transform="translate(917.2 627.9) scale(0.95 1.06)" font-size="27" font-weight="bold" text-anchor="end" fill="#000">20</text>
<line x1="919.5" y1="677.5" x2="925.1" y2="677.5" stroke="#000" stroke-width="2.3"/>
<text transform="translate(917.2 686.6) scale(0.95 1.06)" font-size="27" font-weight="bold" text-anchor="end" fill="#000">10</text>
<line x1="919.5" y1="735.9" x2="925.1" y2="735.9" stroke="#000" stroke-width="2.3"/>
<text transform="translate(917.2 745.0) scale(0.95 1.06)" font-size="27" font-weight="bold" text-anchor="end" fill="#000">0</text>
<line x1="960.6" y1="735.9" x2="960.6" y2="742.1" stroke="#000" stroke-width="2.3"/>
<text transform="translate(960.6 770.9) scale(1 1.08)" font-size="28.6" font-weight="bold" text-anchor="middle" fill="#000">0</text>
<line x1="1031.5" y1="735.9" x2="1031.5" y2="742.1" stroke="#000" stroke-width="2.3"/>
<text transform="translate(1031.5 770.9) scale(1 1.08)" font-size="28.6" font-weight="bold" text-anchor="middle" fill="#000">62.5</text>
<line x1="1102.6" y1="735.9" x2="1102.6" y2="742.1" stroke="#000" stroke-width="2.3"/>
<text transform="translate(1102.6 770.9) scale(1 1.08)" font-size="28.6" font-weight="bold" text-anchor="middle" fill="#000">125</text>
<line x1="1173.5" y1="735.9" x2="1173.5" y2="742.1" stroke="#000" stroke-width="2.3"/>
<text transform="translate(1173.5 770.9) scale(1 1.08)" font-size="28.6" font-weight="bold" text-anchor="middle" fill="#000">250</text>
<line x1="1244.6" y1="735.9" x2="1244.6" y2="742.1" stroke="#000" stroke-width="2.3"/>
<text transform="translate(1244.6 770.9) scale(1 1.08)" font-size="28.6" font-weight="bold" text-anchor="middle" fill="#000">500</text>
<line x1="1315.8" y1="735.9" x2="1315.8" y2="742.1" stroke="#000" stroke-width="2.3"/>
<text transform="translate(1315.8 770.9) scale(1 1.08)" font-size="28.6" font-weight="bold" text-anchor="middle" fill="#000">1000</text>
<line x1="960.6" y1="487.6" x2="960.6" y2="542.4" stroke="#000" stroke-width="2.6"/>
<line x1="953.6" y1="487.6" x2="967.6" y2="487.6" stroke="#000" stroke-width="2.6"/>
<line x1="953.6" y1="542.4" x2="967.6" y2="542.4" stroke="#000" stroke-width="2.6"/>
<line x1="1031.5" y1="534.1" x2="1031.5" y2="577.8" stroke="#000" stroke-width="2.6"/>
<line x1="1024.5" y1="534.1" x2="1038.5" y2="534.1" stroke="#000" stroke-width="2.6"/>
<line x1="1024.5" y1="577.8" x2="1038.5" y2="577.8" stroke="#000" stroke-width="2.6"/>
<line x1="1102.6" y1="715.6" x2="1102.6" y2="720.6" stroke="#000" stroke-width="2.6"/>
<line x1="1095.6" y1="715.6" x2="1109.6" y2="715.6" stroke="#000" stroke-width="2.6"/>
<line x1="1095.6" y1="720.6" x2="1109.6" y2="720.6" stroke="#000" stroke-width="2.6"/>
<line x1="1173.5" y1="709.6" x2="1173.5" y2="716.4" stroke="#000" stroke-width="2.6"/>
<line x1="1166.5" y1="709.6" x2="1180.5" y2="709.6" stroke="#000" stroke-width="2.6"/>
<line x1="1166.5" y1="716.4" x2="1180.5" y2="716.4" stroke="#000" stroke-width="2.6"/>
<polyline points="960.6,516.0 1031.5,556.2 1102.6,718.1 1173.5,713.0 1244.6,722.5 1315.8,730.0" fill="none" stroke="#000" stroke-width="4.2" stroke-linejoin="round"/>
<circle cx="960.6" cy="516.0" r="7.2" fill="#000"/>
<circle cx="1031.5" cy="556.2" r="7.2" fill="#000"/>
<circle cx="1102.6" cy="718.1" r="7.2" fill="#000"/>
<circle cx="1173.5" cy="713.0" r="7.2" fill="#000"/>
<circle cx="1244.6" cy="722.5" r="7.2" fill="#000"/>
<circle cx="1315.8" cy="730.0" r="7.2" fill="#000"/>
<text transform="translate(1134.5 436.0) scale(1 1.03)" font-size="29.8" font-weight="bold" text-anchor="middle" fill="#000">LLCMK2</text>
<text x="870.5" y="584.0" font-size="29.2" font-weight="bold" text-anchor="middle" fill="#000" transform="rotate(-90 870.5 584.0)">Cell Counting x 10<tspan font-size="21.3" dy="-12.8">4</tspan></text>
<text x="1114.7" y="691.0" font-size="46" font-weight="bold" text-anchor="middle" fill="#000" letter-spacing="2.3">***</text>
<text x="1176.2" y="706.7" font-size="46" font-weight="bold" text-anchor="middle" fill="#000" letter-spacing="2.3">***</text>
<text x="1248.7" y="722.5" font-size="46" font-weight="bold" text-anchor="middle" fill="#000" letter-spacing="2.3">***</text>
<text x="1323.6" y="734.3" font-size="46" font-weight="bold" text-anchor="middle" fill="#000" letter-spacing="2.3">***</text>
<text x="1135.5" y="824.5" font-size="29.2" font-weight="bold" text-anchor="middle" fill="#000">[H<tspan font-size="19.9" dy="6.4">2</tspan><tspan dy="-6.4">O</tspan><tspan font-size="19.9" dy="6.4">2</tspan><tspan dy="-6.4" font-size="29.2">]</tspan> <tspan font-family="Liberation Serif, DejaVu Serif, serif" font-weight="normal" font-size="31">μ</tspan>M</text>
<line x1="300.1" y1="924.4" x2="300.1" y2="932.3" stroke="#000" stroke-width="2.2"/>
<line x1="287.6" y1="924.4" x2="312.6" y2="924.4" stroke="#000" stroke-width="2.2"/>
<rect x="273.7" y="932.3" width="52.8" height="239.2" fill="#fff" stroke="#000" stroke-width="2.2" stroke-linejoin="round"/>
<line x1="378.1" y1="937.8" x2="378.1" y2="942.6" stroke="#000" stroke-width="2.2"/>
<line x1="365.6" y1="937.8" x2="390.6" y2="937.8" stroke="#000" stroke-width="2.2"/>
<rect x="351.7" y="942.6" width="52.8" height="228.9" fill="#d2d2d2" stroke="#000" stroke-width="2.2" stroke-linejoin="round"/>
<line x1="455.8" y1="988.7" x2="455.8" y2="999.7" stroke="#000" stroke-width="2.2"/>
<line x1="443.3" y1="988.7" x2="468.3" y2="988.7" stroke="#000" stroke-width="2.2"/>
<rect x="429.4" y="999.7" width="52.8" height="171.8" fill="#d2d2d2" stroke="#000" stroke-width="2.2" stroke-linejoin="round"/>
<line x1="534.0" y1="1043.4" x2="534.0" y2="1065.9" stroke="#000" stroke-width="2.2"/>
<line x1="521.5" y1="1043.4" x2="546.5" y2="1043.4" stroke="#000" stroke-width="2.2"/>
<rect x="507.8" y="1065.9" width="52.4" height="105.6" fill="#d2d2d2" stroke="#000" stroke-width="2.2" stroke-linejoin="round"/>
<line x1="611.8" y1="1098.2" x2="611.8" y2="1117.5" stroke="#000" stroke-width="2.2"/>
<line x1="599.3" y1="1098.2" x2="624.3" y2="1098.2" stroke="#000" stroke-width="2.2"/>
<rect x="585.4" y="1117.5" width="52.8" height="54.0" fill="#d2d2d2" stroke="#000" stroke-width="2.2" stroke-linejoin="round"/>
<line x1="690.0" y1="1147.9" x2="690.0" y2="1153.4" stroke="#000" stroke-width="2.2"/>
<line x1="677.5" y1="1147.9" x2="702.5" y2="1147.9" stroke="#000" stroke-width="2.2"/>
<rect x="663.8" y="1153.4" width="52.5" height="18.1" fill="#d2d2d2" stroke="#000" stroke-width="2.2" stroke-linejoin="round"/>
<line x1="261.3" y1="884.0" x2="261.3" y2="1172.5" stroke="#000" stroke-width="2.1"/>
<line x1="260.3" y1="1171.5" x2="730.0" y2="1171.5" stroke="#000" stroke-width="2.1"/>
<line x1="256.1" y1="1171.5" x2="261.3" y2="1171.5" stroke="#000" stroke-width="2.1"/>
<text transform="translate(254.1 1178.7) scale(1 1.1)" font-size="19.4" font-weight="bold" text-anchor="end" fill="#000">0</text>
<line x1="258.5" y1="1147.6" x2="261.3" y2="1147.6" stroke="#000" stroke-width="1.8"/>
<line x1="256.1" y1="1123.8" x2="261.3" y2="1123.8" stroke="#000" stroke-width="2.1"/>
<text transform="translate(254.1 1131.0) scale(1 1.1)" font-size="19.4" font-weight="bold" text-anchor="end" fill="#000">20</text>
<line x1="258.5" y1="1099.9" x2="261.3" y2="1099.9" stroke="#000" stroke-width="1.8"/>
<line x1="256.1" y1="1076.0" x2="261.3" y2="1076.0" stroke="#000" stroke-width="2.1"/>
<text transform="translate(254.1 1083.2) scale(1 1.1)" font-size="19.4" font-weight="bold" text-anchor="end" fill="#000">40</text>
<line x1="258.5" y1="1052.1" x2="261.3" y2="1052.1" stroke="#000" stroke-width="1.8"/>
<line x1="256.1" y1="1028.2" x2="261.3" y2="1028.2" stroke="#000" stroke-width="2.1"/>
<text transform="translate(254.1 1035.5) scale(1 1.1)" font-size="19.4" font-weight="bold" text-anchor="end" fill="#000">60</text>
<line x1="258.5" y1="1004.4" x2="261.3" y2="1004.4" stroke="#000" stroke-width="1.8"/>
<line x1="256.1" y1="980.5" x2="261.3" y2="980.5" stroke="#000" stroke-width="2.1"/>
<text transform="translate(254.1 987.7) scale(1 1.1)" font-size="19.4" font-weight="bold" text-anchor="end" fill="#000">80</text>
<line x1="258.5" y1="956.6" x2="261.3" y2="956.6" stroke="#000" stroke-width="1.8"/>
<line x1="256.1" y1="932.8" x2="261.3" y2="932.8" stroke="#000" stroke-width="2.1"/>
<text transform="translate(254.1 940.0) scale(1 1.1)" font-size="19.4" font-weight="bold" text-anchor="end" fill="#000">100</text>
<line x1="258.5" y1="908.9" x2="261.3" y2="908.9" stroke="#000" stroke-width="1.8"/>
<line x1="256.1" y1="885.0" x2="261.3" y2="885.0" stroke="#000" stroke-width="2.1"/>
<text transform="translate(254.1 892.2) scale(1 1.1)" font-size="19.4" font-weight="bold" text-anchor="end" fill="#000">120</text>
<line x1="300.1" y1="1171.5" x2="300.1" y2="1177.0" stroke="#000" stroke-width="2.4"/>
<text x="300.1" y="1196.8" font-size="21.5" font-weight="bold" text-anchor="middle" fill="#000">0</text>
<line x1="378.1" y1="1171.5" x2="378.1" y2="1177.0" stroke="#000" stroke-width="2.4"/>
<text x="378.1" y="1196.8" font-size="21.5" font-weight="bold" text-anchor="middle" fill="#000">2.2</text>
<line x1="455.8" y1="1171.5" x2="455.8" y2="1177.0" stroke="#000" stroke-width="2.4"/>
<text x="455.8" y="1196.8" font-size="21.5" font-weight="bold" text-anchor="middle" fill="#000">4.4</text>
<line x1="534.0" y1="1171.5" x2="534.0" y2="1177.0" stroke="#000" stroke-width="2.4"/>
<text x="534.0" y="1196.8" font-size="21.5" font-weight="bold" text-anchor="middle" fill="#000">6.6</text>
<line x1="611.8" y1="1171.5" x2="611.8" y2="1177.0" stroke="#000" stroke-width="2.4"/>
<text x="611.8" y="1196.8" font-size="21.5" font-weight="bold" text-anchor="middle" fill="#000">8.8</text>
<line x1="690.0" y1="1171.5" x2="690.0" y2="1177.0" stroke="#000" stroke-width="2.4"/>
<text x="690.0" y="1196.8" font-size="21.5" font-weight="bold" text-anchor="middle" fill="#000">13.2</text>
<text x="496.5" y="1232.0" font-size="23" font-weight="bold" text-anchor="middle" fill="#000">[H<tspan font-size="15.6" dy="5.1">2</tspan><tspan dy="-5.1">O</tspan><tspan font-size="15.6" dy="5.1">2</tspan><tspan dy="-5.1" font-size="23">]</tspan> mM</text>
<text x="211.8" y="1023.4" font-size="22.2" font-weight="bold" text-anchor="middle" fill="#000" transform="rotate(-90 211.8 1023.4)">% Cell Viability (BME26)</text>
<text x="456.2" y="991.1" font-size="35" font-weight="bold" text-anchor="middle" fill="#000" letter-spacing="1.7">**</text>
<text x="535.5" y="1045.4" font-size="35" font-weight="bold" text-anchor="middle" fill="#000" letter-spacing="1.7">***</text>
<text x="613.1" y="1100.7" font-size="35" font-weight="bold" text-anchor="middle" fill="#000" letter-spacing="1.7">***</text>
<text x="690.8" y="1152.7" font-size="35" font-weight="bold" text-anchor="middle" fill="#000" letter-spacing="1.7">***</text>
<rect x="549.0" y="874" width="158.2" height="95.0" fill="none" stroke="#000" stroke-width="1.4"/>
<line x1="545.0" y1="874.0" x2="549.0" y2="874.0" stroke="#000" stroke-width="1.4"/>
<text x="544.0" y="878.4" font-size="12.0" font-weight="bold" text-anchor="end" fill="#000">100</text>
<line x1="545.0" y1="921.3" x2="549.0" y2="921.3" stroke="#000" stroke-width="1.4"/>
<text x="544.0" y="925.7" font-size="12.0" font-weight="bold" text-anchor="end" fill="#000">50</text>
<line x1="545.0" y1="969.0" x2="549.0" y2="969.0" stroke="#000" stroke-width="1.4"/>
<text x="544.0" y="973.4" font-size="12.0" font-weight="bold" text-anchor="end" fill="#000">0</text>
<line x1="580.3" y1="969.0" x2="580.3" y2="973.0" stroke="#000" stroke-width="1.4"/>
<text x="580.3" y="986.5" font-size="12.5" font-weight="bold" text-anchor="middle" fill="#000">0.4</text>
<line x1="644.1" y1="969.0" x2="644.1" y2="973.0" stroke="#000" stroke-width="1.4"/>
<text x="644.1" y="986.5" font-size="12.5" font-weight="bold" text-anchor="middle" fill="#000">0.8</text>
<line x1="707.2" y1="969.0" x2="707.2" y2="973.0" stroke="#000" stroke-width="1.4"/>
<text x="707.2" y="986.5" font-size="12.5" font-weight="bold" text-anchor="middle" fill="#000">1.2</text>
<text x="628.8" y="866.5" font-size="15.2" font-weight="bold" text-anchor="middle" fill="#000">LD<tspan font-size="10.3" dy="3">50</tspan><tspan dy="-3">= 6.02 mM </tspan><tspan font-weight="normal">±</tspan> 0.613</text>
<text x="628.5" y="1003.5" font-size="14.7" font-weight="bold" text-anchor="middle" fill="#000">Log H<tspan font-size="10.0" dy="3.2">2</tspan><tspan dy="-3.2">O</tspan><tspan font-size="10.0" dy="3.2">2</tspan><tspan dy="-3.2" font-size="14.7"> (mM)</tspan></text>
<text x="517.5" y="919.0" font-size="14.6" font-weight="bold" text-anchor="middle" fill="#000" transform="rotate(-90 517.5 919.0)">% Cell Viability</text>
<polyline points="572.0,878.2 574.0,878.5 576.1,878.9 578.1,879.4 580.2,879.9 582.2,880.4 584.3,881.0 586.3,881.6 588.3,882.3 590.4,883.0 592.4,883.7 594.5,884.6 596.5,885.5 598.6,886.4 600.6,887.4 602.6,888.5 604.7,889.7 606.7,890.9 608.8,892.2 610.8,893.6 612.9,895.1 614.9,896.6 617.0,898.2 619.0,899.9 621.0,901.7 623.1,903.5 625.1,905.4 627.2,907.3 629.2,909.3 631.3,911.4 633.3,913.5 635.3,915.6 637.4,917.8 639.4,919.9 641.5,922.1 643.5,924.3 645.6,926.4 647.6,928.6 649.6,930.7 651.7,932.7 653.7,934.8 655.8,936.7 657.8,938.7 659.9,940.5 661.9,942.3 664.0,944.0 666.0,945.7 668.0,947.2 670.1,948.7 672.1,950.2 674.2,951.5 676.2,952.8 678.3,954.0 680.3,955.1 682.3,956.1 684.4,957.1 686.4,958.0 688.5,958.9 690.5,959.7 692.6,960.4 694.6,961.1" fill="none" stroke="#000" stroke-width="1.5"/>
<circle cx="572" cy="878" r="2.3" fill="#000"/>
<line x1="619.3" y1="896.0" x2="619.3" y2="904.0" stroke="#000" stroke-width="1.4"/>
<line x1="616.3" y1="896.0" x2="622.3" y2="896.0" stroke="#000" stroke-width="1.4"/>
<line x1="616.3" y1="904.0" x2="622.3" y2="904.0" stroke="#000" stroke-width="1.4"/>
<circle cx="619.3" cy="900" r="2.3" fill="#000"/>
<line x1="647.3" y1="917.4" x2="647.3" y2="935.4" stroke="#000" stroke-width="1.4"/>
<line x1="644.3" y1="917.4" x2="650.3" y2="917.4" stroke="#000" stroke-width="1.4"/>
<line x1="644.3" y1="935.4" x2="650.3" y2="935.4" stroke="#000" stroke-width="1.4"/>
<circle cx="647.3" cy="926.4" r="2.3" fill="#000"/>
<line x1="667.0" y1="939.4" x2="667.0" y2="954.4" stroke="#000" stroke-width="1.4"/>
<line x1="664.0" y1="939.4" x2="670.0" y2="939.4" stroke="#000" stroke-width="1.4"/>
<line x1="664.0" y1="954.4" x2="670.0" y2="954.4" stroke="#000" stroke-width="1.4"/>
<circle cx="667" cy="946.9" r="2.3" fill="#000"/>
<circle cx="694.6" cy="961" r="2.3" fill="#000"/>
<line x1="938.8" y1="929.2" x2="938.8" y2="933.1" stroke="#000" stroke-width="2.2"/>
<line x1="926.8" y1="929.2" x2="950.8" y2="929.2" stroke="#000" stroke-width="2.2"/>
<rect x="914.3" y="933.1" width="48.9" height="248.3" fill="#fff" stroke="#000" stroke-width="2.2" stroke-linejoin="round"/>
<line x1="1016.0" y1="892.9" x2="1016.0" y2="904.7" stroke="#000" stroke-width="2.2"/>
<line x1="1004.0" y1="892.9" x2="1028.0" y2="892.9" stroke="#000" stroke-width="2.2"/>
<rect x="991.9" y="904.7" width="48.1" height="276.7" fill="#a0a0a4" stroke="#000" stroke-width="2.2" stroke-linejoin="round"/>
<line x1="1075.0" y1="960.3" x2="1075.0" y2="967.4" stroke="#000" stroke-width="2.2"/>
<line x1="1063.0" y1="960.3" x2="1087.0" y2="960.3" stroke="#000" stroke-width="2.2"/>
<rect x="1050.6" y="967.4" width="48.9" height="214.0" fill="#000" stroke="#000" stroke-width="2.2" stroke-linejoin="round"/>
<line x1="1152.2" y1="943.3" x2="1152.2" y2="948.1" stroke="#000" stroke-width="2.2"/>
<line x1="1140.2" y1="943.3" x2="1164.2" y2="943.3" stroke="#000" stroke-width="2.2"/>
<rect x="1127.9" y="948.1" width="48.5" height="233.3" fill="#a0a0a4" stroke="#000" stroke-width="2.2" stroke-linejoin="round"/>
<line x1="1211.5" y1="977.6" x2="1211.5" y2="991.4" stroke="#000" stroke-width="2.2"/>
<line x1="1199.5" y1="977.6" x2="1223.5" y2="977.6" stroke="#000" stroke-width="2.2"/>
<rect x="1187.0" y="991.4" width="48.9" height="190.0" fill="#000" stroke="#000" stroke-width="2.2" stroke-linejoin="round"/>
<line x1="1288.5" y1="947.3" x2="1288.5" y2="950.4" stroke="#000" stroke-width="2.2"/>
<line x1="1276.5" y1="947.3" x2="1300.5" y2="947.3" stroke="#000" stroke-width="2.2"/>
<rect x="1264.2" y="950.4" width="48.5" height="231.0" fill="#a0a0a4" stroke="#000" stroke-width="2.2" stroke-linejoin="round"/>
<line x1="1347.8" y1="1003.6" x2="1347.8" y2="1009.6" stroke="#000" stroke-width="2.2"/>
<line x1="1335.8" y1="1003.6" x2="1359.8" y2="1003.6" stroke="#000" stroke-width="2.2"/>
<rect x="1323.4" y="1009.6" width="48.8" height="171.8" fill="#000" stroke="#000" stroke-width="2.2" stroke-linejoin="round"/>
<line x1="903.0" y1="883.2" x2="903.0" y2="1182.4" stroke="#000" stroke-width="2.1"/>
<line x1="902.0" y1="1181.4" x2="1390.0" y2="1181.4" stroke="#000" stroke-width="2.1"/>
<line x1="897.8" y1="1181.4" x2="903.0" y2="1181.4" stroke="#000" stroke-width="2.1"/>
<text transform="translate(895.8 1188.6) scale(1 1.1)" font-size="19.4" font-weight="bold" text-anchor="end" fill="#000">0</text>
<line x1="897.8" y1="1131.9" x2="903.0" y2="1131.9" stroke="#000" stroke-width="2.1"/>
<text transform="translate(895.8 1139.1) scale(1 1.1)" font-size="19.4" font-weight="bold" text-anchor="end" fill="#000">20</text>
<line x1="897.8" y1="1082.3" x2="903.0" y2="1082.3" stroke="#000" stroke-width="2.1"/>
<text transform="translate(895.8 1089.5) scale(1 1.1)" font-size="19.4" font-weight="bold" text-anchor="end" fill="#000">40</text>
<line x1="897.8" y1="1032.8" x2="903.0" y2="1032.8" stroke="#000" stroke-width="2.1"/>
<text transform="translate(895.8 1040.0) scale(1 1.1)" font-size="19.4" font-weight="bold" text-anchor="end" fill="#000">60</text>
<line x1="897.8" y1="983.3" x2="903.0" y2="983.3" stroke="#000" stroke-width="2.1"/>
<text transform="translate(895.8 990.5) scale(1 1.1)" font-size="19.4" font-weight="bold" text-anchor="end" fill="#000">80</text>
<line x1="897.8" y1="933.7" x2="903.0" y2="933.7" stroke="#000" stroke-width="2.1"/>
<text transform="translate(895.8 940.9) scale(1 1.1)" font-size="19.4" font-weight="bold" text-anchor="end" fill="#000">100</text>
<line x1="897.8" y1="884.2" x2="903.0" y2="884.2" stroke="#000" stroke-width="2.1"/>
<text transform="translate(895.8 891.4) scale(1 1.1)" font-size="19.4" font-weight="bold" text-anchor="end" fill="#000">120</text>
<line x1="940.4" y1="1181.4" x2="940.4" y2="1186.9" stroke="#000" stroke-width="2.4"/>
<text transform="translate(940.4 1209.8) scale(1 1.05)" font-size="22.8" font-weight="bold" text-anchor="middle" fill="#000">Control</text>
<line x1="1046.2" y1="1181.4" x2="1046.2" y2="1186.9" stroke="#000" stroke-width="2.4"/>
<text transform="translate(1046.2 1209.8) scale(1 1.05)" font-size="22.8" font-weight="bold" text-anchor="middle" fill="#000">2</text>
<line x1="1182.3" y1="1181.4" x2="1182.3" y2="1186.9" stroke="#000" stroke-width="2.4"/>
<text transform="translate(1182.3 1209.8) scale(1 1.05)" font-size="22.8" font-weight="bold" text-anchor="middle" fill="#000">12</text>
<line x1="1320.2" y1="1181.4" x2="1320.2" y2="1186.9" stroke="#000" stroke-width="2.4"/>
<text transform="translate(1320.2 1209.8) scale(1 1.05)" font-size="22.8" font-weight="bold" text-anchor="middle" fill="#000">24</text>
<text x="1184.5" y="1241.7" font-size="23.7" font-weight="bold" text-anchor="middle" fill="#000">Time (h)</text>
<text x="849.2" y="1027.5" font-size="23.4" font-weight="bold" text-anchor="middle" fill="#000" transform="rotate(-90 849.2 1027.5)">% Cell Viability (BME26)</text>
<text x="1079.9" y="962.1" font-size="36.3" font-weight="bold" text-anchor="middle" fill="#000" letter-spacing="1.8">*</text>
<text x="1213.5" y="981.0" font-size="36.3" font-weight="bold" text-anchor="middle" fill="#000" letter-spacing="1.8">***</text>
<text x="1349.5" y="1006.3" font-size="36.3" font-weight="bold" text-anchor="middle" fill="#000" letter-spacing="1.8">***</text>
<rect x="1268.8" y="871.8" width="17.8" height="17" fill="#a0a0a4" stroke="#000" stroke-width="2.2" stroke-linejoin="round"/>
<rect x="1268.8" y="896.2" width="17.8" height="17" fill="#000" stroke="#000" stroke-width="2.2" stroke-linejoin="round"/>
<text x="1296.0" y="886.2" font-size="20.6" font-weight="bold" text-anchor="start" fill="#000">2.2 mM H<tspan font-size="14.0" dy="4.5">2</tspan><tspan dy="-4.5">O</tspan><tspan font-size="14.0" dy="4.5">2</tspan><tspan dy="-4.5" font-size="20.6"></tspan></text>
<text x="1296.0" y="910.6" font-size="20.6" font-weight="bold" text-anchor="start" fill="#000">4.4 mM H<tspan font-size="14.0" dy="4.5">2</tspan><tspan dy="-4.5">O</tspan><tspan font-size="14.0" dy="4.5">2</tspan><tspan dy="-4.5" font-size="20.6"></tspan></text>
<g transform="translate(52.0,1353.6)" clip-path="url(#clip0)">
<rect x="0" y="0" width="310.0" height="309.8" fill="#000000"/>
<g filter="url(#fr0)">
<polyline points="130.0,82.7 130.4,133.0 131.5,202.1" fill="none" stroke="#360000" stroke-width="7.5" stroke-linecap="round" opacity="0.7"/>
<g fill="none" stroke="#ff0000" stroke-opacity="0.2" stroke-width="2.4"><ellipse cx="76.0" cy="11.5" rx="19.3" ry="15.1"/><ellipse cx="295.9" cy="7.3" rx="18.3" ry="15.1"/><ellipse cx="273.9" cy="59.7" rx="18.3" ry="19.3"/><ellipse cx="292.7" cy="79.6" rx="19.3" ry="17.2"/><ellipse cx="42.5" cy="81.7" rx="19.3" ry="17.2"/><ellipse cx="28.9" cy="100.5" rx="14.1" ry="14.1"/><ellipse cx="44.6" cy="108.9" rx="12.0" ry="10.9"/><ellipse cx="75.0" cy="120.4" rx="13.0" ry="14.1"/><ellipse cx="56.1" cy="131.9" rx="14.1" ry="14.1"/><ellipse cx="15.3" cy="142.4" rx="17.2" ry="16.2"/><ellipse cx="37.3" cy="149.7" rx="14.1" ry="13.0"/><ellipse cx="221.5" cy="112.0" rx="14.1" ry="16.2"/><ellipse cx="250.8" cy="118.3" rx="17.2" ry="16.2"/><ellipse cx="168.1" cy="172.7" rx="17.2" ry="20.3"/><ellipse cx="63.4" cy="182.2" rx="16.2" ry="18.3"/><ellipse cx="100.1" cy="183.2" rx="20.3" ry="22.4"/><ellipse cx="287.5" cy="166.5" rx="17.2" ry="20.3"/><ellipse cx="247.7" cy="193.7" rx="26.6" ry="21.4"/><ellipse cx="279.1" cy="191.6" rx="14.1" ry="16.2"/><ellipse cx="269.7" cy="215.7" rx="13.0" ry="12.0"/><ellipse cx="83.3" cy="216.7" rx="20.3" ry="20.3"/><ellipse cx="23.7" cy="227.2" rx="22.4" ry="22.4"/><ellipse cx="153.5" cy="227.2" rx="18.3" ry="14.1"/><ellipse cx="168.1" cy="254.4" rx="23.5" ry="17.2"/><ellipse cx="11.1" cy="264.9" rx="13.0" ry="19.3"/><ellipse cx="80.2" cy="275.3" rx="13.0" ry="13.0"/><ellipse cx="55.1" cy="287.9" rx="17.2" ry="16.2"/><ellipse cx="88.6" cy="298.4" rx="20.3" ry="12.0"/><ellipse cx="290.6" cy="292.1" rx="18.3" ry="17.2"/><ellipse cx="5.9" cy="298.4" rx="10.9" ry="14.1"/><ellipse cx="0.6" cy="208.3" rx="9.9" ry="14.1"/></g><ellipse cx="76.0" cy="11.5" rx="16.7" ry="12.5" fill="url(#gn01)" stroke="#ff1010" stroke-width="3.2"/><ellipse cx="295.9" cy="7.3" rx="15.7" ry="12.5" fill="url(#gn03)" stroke="#ff1010" stroke-width="3.2"/><ellipse cx="219.4" cy="34.5" rx="12.5" ry="11.5" fill="url(#gd3)" stroke="#dc0e0e" stroke-width="1.7"/><ellipse cx="131.5" cy="57.6" rx="16.1" ry="24.4" fill="url(#gd1)" stroke="#dc0e0e" stroke-width="1.7"/><ellipse cx="273.9" cy="59.7" rx="15.7" ry="16.7" fill="url(#gn05)" stroke="#ff1010" stroke-width="3.2"/><ellipse cx="292.7" cy="79.6" rx="16.7" ry="14.6" fill="url(#gn03)" stroke="#ff1010" stroke-width="3.2"/><ellipse cx="42.5" cy="81.7" rx="16.7" ry="14.6" fill="url(#gn05)" stroke="#ff1010" stroke-width="3.2"/><ellipse cx="28.9" cy="100.5" rx="11.5" ry="11.5" fill="url(#gn02)" stroke="#ff1010" stroke-width="3.2"/><ellipse cx="44.6" cy="108.9" rx="9.4" ry="8.3" fill="url(#gn03)" stroke="#ff1010" stroke-width="3.2"/><ellipse cx="75.0" cy="120.4" rx="10.4" ry="11.5" fill="url(#gn04)" stroke="#ff1010" stroke-width="3.2"/><ellipse cx="56.1" cy="131.9" rx="11.5" ry="11.5" fill="url(#gn00)" stroke="#ff1010" stroke-width="3.2"/><ellipse cx="15.3" cy="142.4" rx="14.6" ry="13.6" fill="url(#gn04)" stroke="#ff1010" stroke-width="3.2"/><ellipse cx="37.3" cy="149.7" rx="11.5" ry="10.4" fill="url(#gn00)" stroke="#ff1010" stroke-width="3.2"/><ellipse cx="221.5" cy="112.0" rx="11.5" ry="13.6" fill="url(#gn00)" stroke="#ff1010" stroke-width="3.2"/><ellipse cx="250.8" cy="118.3" rx="14.6" ry="13.6" fill="url(#gn05)" stroke="#ff1010" stroke-width="3.2"/><ellipse cx="168.1" cy="172.7" rx="14.6" ry="17.7" fill="url(#gn03)" stroke="#ff1010" stroke-width="3.2"/><ellipse cx="63.4" cy="182.2" rx="13.6" ry="15.7" fill="url(#gn02)" stroke="#ff1010" stroke-width="3.2"/><ellipse cx="100.1" cy="183.2" rx="17.7" ry="19.8" fill="url(#gn00)" stroke="#ff1010" stroke-width="3.2"/><ellipse cx="287.5" cy="166.5" rx="14.6" ry="17.7" fill="url(#gn05)" stroke="#ff1010" stroke-width="3.2"/><ellipse cx="247.7" cy="193.7" rx="24.0" ry="18.8" fill="url(#gn05)" stroke="#ff1010" stroke-width="3.2"/><ellipse cx="279.1" cy="191.6" rx="11.5" ry="13.6" fill="url(#gn01)" stroke="#ff1010" stroke-width="3.2"/><ellipse cx="269.7" cy="215.7" rx="10.4" ry="9.4" fill="url(#gn02)" stroke="#ff1010" stroke-width="3.2"/><ellipse cx="83.3" cy="216.7" rx="17.7" ry="17.7" fill="url(#gn01)" stroke="#ff1010" stroke-width="3.2"/><ellipse cx="23.7" cy="227.2" rx="19.8" ry="19.8" fill="url(#gn02)" stroke="#ff1010" stroke-width="3.2"/><ellipse cx="153.5" cy="227.2" rx="15.7" ry="11.5" fill="url(#gn01)" stroke="#ff1010" stroke-width="3.2"/><ellipse cx="168.1" cy="254.4" rx="20.9" ry="14.6" fill="url(#gn01)" stroke="#ff1010" stroke-width="3.2"/><ellipse cx="11.1" cy="264.9" rx="10.4" ry="16.7" fill="url(#gn01)" stroke="#ff1010" stroke-width="3.2"/><ellipse cx="80.2" cy="275.3" rx="10.4" ry="10.4" fill="url(#gn01)" stroke="#ff1010" stroke-width="3.2"/><ellipse cx="55.1" cy="287.9" rx="14.6" ry="13.6" fill="url(#gn02)" stroke="#ff1010" stroke-width="3.2"/><ellipse cx="88.6" cy="298.4" rx="17.7" ry="9.4" fill="url(#gn02)" stroke="#ff1010" stroke-width="3.2"/><ellipse cx="290.6" cy="292.1" rx="15.7" ry="14.6" fill="url(#gn05)" stroke="#ff1010" stroke-width="3.2"/><ellipse cx="5.9" cy="298.4" rx="8.3" ry="11.5" fill="url(#gn03)" stroke="#ff1010" stroke-width="3.2"/><ellipse cx="0.6" cy="208.3" rx="7.3" ry="11.5" fill="url(#gn01)" stroke="#ff1010" stroke-width="3.2"/><ellipse cx="17.4" cy="2.1" rx="13.6" ry="2.7" fill="url(#gd3)" stroke="#dc0e0e" stroke-width="1.7"/>
</g>
<rect x="245.3" y="281.2" width="34.6" height="3.7" fill="#fff"/>
<polygon points="98.8,125.9 113.8,114.3 117.4,119.0 125.8,101.1 106.4,104.8 110.1,109.5 95.1,121.2" fill="#fff"/>
</g>
<g transform="translate(368.5,1353.6)" clip-path="url(#clip1)">
<rect x="0" y="0" width="310.0" height="309.8" fill="#0a0000"/>
<g filter="url(#fr1)">
<polyline points="73.3,130.9 96.3,153.9 123.5,183.2" fill="none" stroke="#e00000" stroke-width="1.6" stroke-linecap="round" opacity="1"/>
<polyline points="106.8,190.5 117.3,197.9" fill="none" stroke="#d00000" stroke-width="1.2" stroke-linecap="round" opacity="1"/>
<g fill="none" stroke="#ff0000" stroke-opacity="0.2" stroke-width="2.4"><ellipse cx="49.2" cy="14.7" rx="14.1" ry="15.1"/><ellipse cx="71.2" cy="4.2" rx="14.1" ry="8.8"/><ellipse cx="156.0" cy="7.3" rx="15.1" ry="12.0"/><ellipse cx="101.5" cy="33.5" rx="15.1" ry="16.2"/><ellipse cx="115.2" cy="47.1" rx="14.1" ry="17.2"/><ellipse cx="143.4" cy="55.5" rx="18.3" ry="16.2"/><ellipse cx="83.8" cy="75.4" rx="15.7" ry="15.7"/><ellipse cx="216.7" cy="47.1" rx="17.2" ry="16.2"/><ellipse cx="231.4" cy="64.9" rx="20.3" ry="17.2"/><ellipse cx="277.4" cy="34.5" rx="23.5" ry="18.3"/><ellipse cx="270.1" cy="59.7" rx="17.2" ry="16.2"/><ellipse cx="292.1" cy="77.5" rx="17.2" ry="16.2"/><ellipse cx="148.7" cy="104.7" rx="21.4" ry="21.4"/><ellipse cx="92.1" cy="103.6" rx="17.8" ry="18.3"/><ellipse cx="23.0" cy="115.2" rx="16.2" ry="16.2"/><ellipse cx="5.2" cy="109.9" rx="9.9" ry="12.0"/><ellipse cx="9.4" cy="136.1" rx="13.0" ry="18.3"/><ellipse cx="217.8" cy="119.3" rx="14.1" ry="13.0"/><ellipse cx="198.9" cy="130.9" rx="14.1" ry="13.0"/><ellipse cx="231.4" cy="137.1" rx="9.9" ry="17.2" transform="rotate(-25 231.4 137.1)"/><ellipse cx="16.8" cy="175.9" rx="13.0" ry="13.0"/><ellipse cx="29.3" cy="192.6" rx="21.4" ry="18.3"/><ellipse cx="144.5" cy="196.8" rx="17.2" ry="16.2"/><ellipse cx="108.9" cy="217.8" rx="19.3" ry="17.2"/><ellipse cx="129.8" cy="211.5" rx="8.8" ry="10.9"/><ellipse cx="281.6" cy="239.7" rx="24.5" ry="22.4"/><ellipse cx="160.2" cy="262.8" rx="19.3" ry="21.4"/><ellipse cx="23.0" cy="264.9" rx="22.4" ry="19.3"/><ellipse cx="306.7" cy="294.2" rx="6.7" ry="13.0"/><ellipse cx="3.1" cy="28.3" rx="7.8" ry="9.9"/><ellipse cx="4.2" cy="160.2" rx="5.7" ry="12.0"/></g><ellipse cx="49.2" cy="14.7" rx="11.5" ry="12.5" fill="url(#gn10)" stroke="#ff1414" stroke-width="3.2"/><ellipse cx="71.2" cy="4.2" rx="11.5" ry="6.2" fill="url(#gn15)" stroke="#ff1414" stroke-width="3.2"/><ellipse cx="156.0" cy="7.3" rx="12.5" ry="9.4" fill="url(#gn15)" stroke="#ff1414" stroke-width="3.2"/><ellipse cx="101.5" cy="33.5" rx="12.5" ry="13.6" fill="url(#gn12)" stroke="#ff1414" stroke-width="3.2"/><ellipse cx="115.2" cy="47.1" rx="11.5" ry="14.6" fill="url(#gn10)" stroke="#ff1414" stroke-width="3.2"/><ellipse cx="143.4" cy="55.5" rx="15.7" ry="13.6" fill="url(#gn13)" stroke="#ff1414" stroke-width="3.2"/><ellipse cx="83.8" cy="75.4" rx="13.1" ry="13.1" fill="url(#gb4)" stroke="#ff1a1a" stroke-width="3.2"/><ellipse cx="216.7" cy="47.1" rx="14.6" ry="13.6" fill="url(#gn12)" stroke="#ff1414" stroke-width="3.2"/><ellipse cx="231.4" cy="64.9" rx="17.7" ry="14.6" fill="url(#gn11)" stroke="#ff1414" stroke-width="3.2"/><ellipse cx="277.4" cy="34.5" rx="20.9" ry="15.7" fill="url(#gn13)" stroke="#ff1414" stroke-width="3.2"/><ellipse cx="270.1" cy="59.7" rx="14.6" ry="13.6" fill="url(#gn10)" stroke="#ff1414" stroke-width="3.2"/><ellipse cx="292.1" cy="77.5" rx="14.6" ry="13.6" fill="url(#gn10)" stroke="#ff1414" stroke-width="3.2"/><ellipse cx="148.7" cy="104.7" rx="18.8" ry="18.8" fill="url(#gn12)" stroke="#ff1414" stroke-width="3.2"/><ellipse cx="92.1" cy="103.6" rx="15.2" ry="15.7" fill="url(#gn11)" stroke="#ff1414" stroke-width="3.2"/><ellipse cx="54.4" cy="112.0" rx="17.7" ry="19.8" fill="url(#gd4)" stroke="#dc0e0e" stroke-width="1.7"/><ellipse cx="116.2" cy="133.0" rx="11.5" ry="18.8" fill="url(#gd2)" stroke="#dc0e0e" stroke-width="1.7"/><ellipse cx="23.0" cy="115.2" rx="13.6" ry="13.6" fill="url(#gn13)" stroke="#ff1414" stroke-width="3.2"/><ellipse cx="5.2" cy="109.9" rx="7.3" ry="9.4" fill="url(#gn12)" stroke="#ff1414" stroke-width="3.2"/><ellipse cx="9.4" cy="136.1" rx="10.4" ry="15.7" fill="url(#gn12)" stroke="#ff1414" stroke-width="3.2"/><ellipse cx="217.8" cy="119.3" rx="11.5" ry="10.4" fill="url(#gn13)" stroke="#ff1414" stroke-width="3.2"/><ellipse cx="198.9" cy="130.9" rx="11.5" ry="10.4" fill="url(#gn12)" stroke="#ff1414" stroke-width="3.2"/><ellipse cx="231.4" cy="137.1" rx="7.3" ry="14.6" fill="url(#gn13)" stroke="#ff1414" stroke-width="3.2" transform="rotate(-25 231.4 137.1)"/><ellipse cx="263.8" cy="176.9" rx="24.0" ry="15.7" fill="url(#gd1)" stroke="#dc0e0e" stroke-width="1.7"/><ellipse cx="16.8" cy="175.9" rx="10.4" ry="10.4" fill="url(#gb3)" stroke="#ff1a1a" stroke-width="3.2"/><ellipse cx="29.3" cy="192.6" rx="18.8" ry="15.7" fill="url(#gn13)" stroke="#ff1414" stroke-width="3.2"/><ellipse cx="144.5" cy="196.8" rx="14.6" ry="13.6" fill="url(#gn12)" stroke="#ff1414" stroke-width="3.2"/><ellipse cx="108.9" cy="217.8" rx="16.7" ry="14.6" fill="url(#gn15)" stroke="#ff1414" stroke-width="3.2"/><ellipse cx="129.8" cy="211.5" rx="6.2" ry="8.3" fill="url(#gn10)" stroke="#ff1414" stroke-width="3.2"/><ellipse cx="281.6" cy="239.7" rx="21.9" ry="19.8" fill="url(#gn14)" stroke="#ff1414" stroke-width="3.2"/><ellipse cx="160.2" cy="262.8" rx="16.7" ry="18.8" fill="url(#gn12)" stroke="#ff1414" stroke-width="3.2"/><ellipse cx="23.0" cy="264.9" rx="19.8" ry="16.7" fill="url(#gn11)" stroke="#ff1414" stroke-width="3.2"/><ellipse cx="14.7" cy="287.9" rx="17.7" ry="17.7" fill="url(#gd4)" stroke="#dc0e0e" stroke-width="1.7"/><ellipse cx="306.7" cy="294.2" rx="4.1" ry="10.4" fill="url(#gn11)" stroke="#ff1414" stroke-width="3.2"/><ellipse cx="3.1" cy="28.3" rx="5.2" ry="7.3" fill="url(#gn14)" stroke="#ff1414" stroke-width="3.2"/><ellipse cx="4.2" cy="160.2" rx="3.1" ry="9.4" fill="url(#gn12)" stroke="#ff1414" stroke-width="3.2"/>
</g>
<rect x="245.3" y="281.5" width="34.6" height="3.0" fill="#fff"/>
<polygon points="51.0,172.0 65.7,160.7 69.4,165.5 77.9,147.6 58.4,151.2 62.1,155.9 47.4,167.2" fill="#fff"/>
</g>
<g transform="translate(685.1,1353.6)" clip-path="url(#clip2)">
<rect x="0" y="0" width="310.0" height="309.8" fill="#080000"/>
<g filter="url(#fr2)">
<polyline points="188.9,185.3 203.5,194.7 216.1,201.0" fill="none" stroke="#d00000" stroke-width="1.5" stroke-linecap="round" opacity="1"/>
<g fill="none" stroke="#ff0000" stroke-opacity="0.2" stroke-width="2.4"><ellipse cx="15.1" cy="2.1" rx="13.0" ry="6.7"/><ellipse cx="51.7" cy="9.4" rx="18.3" ry="14.1"/><ellipse cx="133.4" cy="8.4" rx="17.2" ry="14.1"/><ellipse cx="109.3" cy="63.9" rx="19.3" ry="17.2"/><ellipse cx="214.0" cy="56.5" rx="20.3" ry="19.3"/><ellipse cx="256.9" cy="78.5" rx="18.3" ry="20.3"/><ellipse cx="228.6" cy="92.1" rx="18.3" ry="17.2"/><ellipse cx="27.6" cy="107.8" rx="16.6" ry="17.8"/><ellipse cx="226.5" cy="128.8" rx="18.7" ry="15.7"/><ellipse cx="175.3" cy="137.1" rx="19.9" ry="18.7"/><ellipse cx="32.9" cy="183.2" rx="18.3" ry="18.7"/><ellipse cx="239.1" cy="184.3" rx="18.3" ry="19.9"/><ellipse cx="121.9" cy="193.7" rx="17.2" ry="16.2"/><ellipse cx="176.3" cy="204.1" rx="19.3" ry="18.3"/><ellipse cx="46.1" cy="214.2" rx="19.3" ry="19.9"/><ellipse cx="111.4" cy="217.8" rx="14.1" ry="14.1"/><ellipse cx="135.5" cy="219.8" rx="15.1" ry="14.5"/><ellipse cx="62.2" cy="245.6" rx="15.1" ry="17.2" transform="rotate(-25 62.2 245.6)"/><ellipse cx="217.1" cy="273.2" rx="12.0" ry="24.5"/><ellipse cx="265.3" cy="254.4" rx="12.4" ry="12.4"/><ellipse cx="283.1" cy="267.0" rx="14.1" ry="14.1"/><ellipse cx="251.7" cy="296.3" rx="18.3" ry="16.2"/><ellipse cx="276.8" cy="304.6" rx="12.0" ry="7.8"/></g><ellipse cx="15.1" cy="2.1" rx="10.4" ry="4.1" fill="url(#gn24)" stroke="#ff1212" stroke-width="3.2"/><ellipse cx="51.7" cy="9.4" rx="15.7" ry="11.5" fill="url(#gn20)" stroke="#ff1212" stroke-width="3.2"/><ellipse cx="133.4" cy="8.4" rx="14.6" ry="11.5" fill="url(#gn24)" stroke="#ff1212" stroke-width="3.2"/><ellipse cx="109.3" cy="63.9" rx="16.7" ry="14.6" fill="url(#gn24)" stroke="#ff1212" stroke-width="3.2"/><ellipse cx="214.0" cy="56.5" rx="17.7" ry="16.7" fill="url(#gn23)" stroke="#ff1212" stroke-width="3.2"/><ellipse cx="256.9" cy="78.5" rx="15.7" ry="17.7" fill="url(#gn21)" stroke="#ff1212" stroke-width="3.2"/><ellipse cx="228.6" cy="92.1" rx="15.7" ry="14.6" fill="url(#gn25)" stroke="#ff1212" stroke-width="3.2"/><ellipse cx="27.6" cy="107.8" rx="14.0" ry="15.2" fill="url(#gn21)" stroke="#ff1212" stroke-width="3.2"/><ellipse cx="226.5" cy="128.8" rx="16.1" ry="13.1" fill="url(#gn23)" stroke="#ff1212" stroke-width="3.2"/><ellipse cx="175.3" cy="137.1" rx="17.3" ry="16.1" fill="url(#gn23)" stroke="#ff1212" stroke-width="3.2"/><ellipse cx="32.9" cy="183.2" rx="15.7" ry="16.1" fill="url(#gn21)" stroke="#ff1212" stroke-width="3.2"/><ellipse cx="239.1" cy="184.3" rx="15.7" ry="17.3" fill="url(#gn21)" stroke="#ff1212" stroke-width="3.2"/><ellipse cx="173.2" cy="175.9" rx="16.7" ry="10.4" fill="url(#gd5)" stroke="#dc0e0e" stroke-width="1.7"/><ellipse cx="121.9" cy="193.7" rx="14.6" ry="13.6" fill="url(#gn21)" stroke="#ff1212" stroke-width="3.2"/><ellipse cx="176.3" cy="204.1" rx="16.7" ry="15.7" fill="url(#gn25)" stroke="#ff1212" stroke-width="3.2"/><ellipse cx="46.1" cy="214.2" rx="16.7" ry="17.3" fill="url(#gn23)" stroke="#ff1212" stroke-width="3.2"/><ellipse cx="111.4" cy="217.8" rx="11.5" ry="11.5" fill="url(#gn20)" stroke="#ff1212" stroke-width="3.2"/><ellipse cx="135.5" cy="219.8" rx="12.5" ry="11.9" fill="url(#gn25)" stroke="#ff1212" stroke-width="3.2"/><ellipse cx="62.2" cy="245.6" rx="12.5" ry="14.6" fill="url(#gn25)" stroke="#ff1212" stroke-width="3.2" transform="rotate(-25 62.2 245.6)"/><ellipse cx="39.2" cy="264.9" rx="14.6" ry="15.2" fill="url(#gd2)" stroke="#dc0e0e" stroke-width="1.7"/><ellipse cx="217.1" cy="273.2" rx="9.4" ry="21.9" fill="url(#gn24)" stroke="#ff1212" stroke-width="3.2"/><ellipse cx="265.3" cy="254.4" rx="9.8" ry="9.8" fill="url(#gn21)" stroke="#ff1212" stroke-width="3.2"/><ellipse cx="283.1" cy="267.0" rx="11.5" ry="11.5" fill="url(#gn22)" stroke="#ff1212" stroke-width="3.2"/><ellipse cx="251.7" cy="296.3" rx="15.7" ry="13.6" fill="url(#gn21)" stroke="#ff1212" stroke-width="3.2"/><ellipse cx="276.8" cy="304.6" rx="9.4" ry="5.2" fill="url(#gn23)" stroke="#ff1212" stroke-width="3.2"/>
</g>
<rect x="245.3" y="281.5" width="34.6" height="3.0" fill="#fff"/>
<polygon points="203.3,242.0 207.5,221.6 213.4,222.8 208.1,203.7 195.8,219.2 201.6,220.4 197.4,240.8" fill="#fff"/>
</g>
<g transform="translate(1001.5,1353.6)" clip-path="url(#clip3)">
<rect x="0" y="0" width="310.0" height="309.8" fill="#0b0000"/>
<g filter="url(#fr3)">
<polyline points="216.1,133.0 228.6,156.0 246.4,170.6" fill="none" stroke="#e00000" stroke-width="1.6" stroke-linecap="round" opacity="1"/>
<polyline points="224.5,165.4 246.4,170.6" fill="none" stroke="#d00000" stroke-width="1.2" stroke-linecap="round" opacity="1"/>
<polyline points="289.4,164.4 309.3,145.5" fill="none" stroke="#c00000" stroke-width="1.0" stroke-linecap="round" opacity="1"/>
<polyline points="132.3,170.6 128.1,200.0" fill="none" stroke="#d00000" stroke-width="1.2" stroke-linecap="round" opacity="1"/>
<polyline points="134.4,170.6 151.2,195.8" fill="none" stroke="#c00000" stroke-width="1.0" stroke-linecap="round" opacity="1"/>
<polyline points="17.2,86.9 6.7,101.5" fill="none" stroke="#d00000" stroke-width="1.2" stroke-linecap="round" opacity="1"/>
<polyline points="207.7,55.5 194.1,62.8" fill="none" stroke="#c00000" stroke-width="1.0" stroke-linecap="round" opacity="1"/>
<g fill="none" stroke="#ff0000" stroke-opacity="0.2" stroke-width="2.4"><ellipse cx="87.3" cy="9.4" rx="19.3" ry="12.0"/><ellipse cx="127.1" cy="15.7" rx="19.3" ry="19.3"/><ellipse cx="156.4" cy="12.6" rx="15.1" ry="15.1"/><ellipse cx="199.3" cy="6.3" rx="16.2" ry="9.9"/><ellipse cx="22.4" cy="31.4" rx="18.3" ry="15.1" transform="rotate(15 22.4 31.4)"/><ellipse cx="130.2" cy="42.9" rx="15.1" ry="17.2"/><ellipse cx="220.3" cy="37.7" rx="20.3" ry="20.3"/><ellipse cx="243.3" cy="54.4" rx="17.2" ry="16.2"/><ellipse cx="286.2" cy="35.6" rx="13.6" ry="13.0"/><ellipse cx="304.0" cy="59.7" rx="7.8" ry="12.0"/><ellipse cx="32.9" cy="74.3" rx="21.4" ry="19.3"/><ellipse cx="277.8" cy="84.8" rx="17.2" ry="16.6"/><ellipse cx="64.3" cy="133.0" rx="14.5" ry="15.7"/><ellipse cx="130.2" cy="127.7" rx="18.7" ry="18.3"/><ellipse cx="132.3" cy="157.0" rx="16.2" ry="16.2"/><ellipse cx="273.7" cy="161.2" rx="16.2" ry="10.3"/><ellipse cx="267.4" cy="182.2" rx="22.4" ry="17.2"/><ellipse cx="53.8" cy="198.9" rx="17.2" ry="17.8"/><ellipse cx="28.7" cy="202.1" rx="15.1" ry="15.7"/><ellipse cx="11.9" cy="223.0" rx="15.1" ry="15.7"/><ellipse cx="10.9" cy="242.9" rx="15.1" ry="13.6"/><ellipse cx="286.2" cy="225.1" rx="17.2" ry="15.1"/><ellipse cx="297.7" cy="242.9" rx="14.1" ry="15.7"/><ellipse cx="111.4" cy="243.9" rx="14.1" ry="14.1"/><ellipse cx="119.8" cy="267.0" rx="16.2" ry="17.2"/><ellipse cx="232.8" cy="248.1" rx="28.7" ry="24.5"/><ellipse cx="164.8" cy="283.7" rx="22.4" ry="23.5"/><ellipse cx="203.5" cy="285.8" rx="17.2" ry="16.6"/><ellipse cx="59.0" cy="301.5" rx="18.3" ry="10.9"/><ellipse cx="250.6" cy="298.4" rx="16.2" ry="14.1"/><ellipse cx="307.2" cy="128.8" rx="5.7" ry="16.2"/></g><ellipse cx="87.3" cy="9.4" rx="16.7" ry="9.4" fill="url(#gn20)" stroke="#ff1212" stroke-width="3.2"/><ellipse cx="127.1" cy="15.7" rx="16.7" ry="16.7" fill="url(#gn25)" stroke="#ff1212" stroke-width="3.2"/><ellipse cx="156.4" cy="12.6" rx="12.5" ry="12.5" fill="url(#gn24)" stroke="#ff1212" stroke-width="3.2"/><ellipse cx="199.3" cy="6.3" rx="13.6" ry="7.3" fill="url(#gn24)" stroke="#ff1212" stroke-width="3.2"/><ellipse cx="22.4" cy="31.4" rx="15.7" ry="12.5" fill="url(#gn24)" stroke="#ff1212" stroke-width="3.2" transform="rotate(15 22.4 31.4)"/><ellipse cx="130.2" cy="42.9" rx="12.5" ry="14.6" fill="url(#gn25)" stroke="#ff1212" stroke-width="3.2"/><ellipse cx="220.3" cy="37.7" rx="17.7" ry="17.7" fill="url(#gn22)" stroke="#ff1212" stroke-width="3.2"/><ellipse cx="243.3" cy="54.4" rx="14.6" ry="13.6" fill="url(#gn25)" stroke="#ff1212" stroke-width="3.2"/><ellipse cx="286.2" cy="35.6" rx="11.0" ry="10.4" fill="url(#gn24)" stroke="#ff1212" stroke-width="3.2"/><ellipse cx="304.0" cy="59.7" rx="5.2" ry="9.4" fill="url(#gn20)" stroke="#ff1212" stroke-width="3.2"/><ellipse cx="32.9" cy="74.3" rx="18.8" ry="16.7" fill="url(#gn24)" stroke="#ff1212" stroke-width="3.2"/><ellipse cx="277.8" cy="84.8" rx="14.6" ry="14.0" fill="url(#gn22)" stroke="#ff1212" stroke-width="3.2"/><ellipse cx="64.3" cy="133.0" rx="11.9" ry="13.1" fill="url(#gn22)" stroke="#ff1212" stroke-width="3.2"/><ellipse cx="130.2" cy="127.7" rx="16.1" ry="15.7" fill="url(#gn22)" stroke="#ff1212" stroke-width="3.2"/><ellipse cx="132.3" cy="157.0" rx="13.6" ry="13.6" fill="url(#gn24)" stroke="#ff1212" stroke-width="3.2"/><ellipse cx="273.7" cy="161.2" rx="13.6" ry="7.7" fill="url(#gn21)" stroke="#ff1212" stroke-width="3.2"/><ellipse cx="267.4" cy="182.2" rx="19.8" ry="14.6" fill="url(#gn24)" stroke="#ff1212" stroke-width="3.2"/><ellipse cx="53.8" cy="198.9" rx="14.6" ry="15.2" fill="url(#gn22)" stroke="#ff1212" stroke-width="3.2"/><ellipse cx="28.7" cy="202.1" rx="12.5" ry="13.1" fill="url(#gn21)" stroke="#ff1212" stroke-width="3.2"/><ellipse cx="11.9" cy="223.0" rx="12.5" ry="13.1" fill="url(#gn24)" stroke="#ff1212" stroke-width="3.2"/><ellipse cx="10.9" cy="242.9" rx="12.5" ry="11.0" fill="url(#gn22)" stroke="#ff1212" stroke-width="3.2"/><ellipse cx="286.2" cy="225.1" rx="14.6" ry="12.5" fill="url(#gn25)" stroke="#ff1212" stroke-width="3.2"/><ellipse cx="297.7" cy="242.9" rx="11.5" ry="13.1" fill="url(#gn23)" stroke="#ff1212" stroke-width="3.2"/><ellipse cx="58.0" cy="254.4" rx="10.4" ry="13.6" fill="url(#gd1)" stroke="#dc0e0e" stroke-width="1.7"/><ellipse cx="94.6" cy="227.2" rx="9.4" ry="10.4" fill="url(#gd2)" stroke="#dc0e0e" stroke-width="1.7"/><ellipse cx="111.4" cy="243.9" rx="11.5" ry="11.5" fill="url(#gb4)" stroke="#ff1a1a" stroke-width="3.2"/><ellipse cx="119.8" cy="267.0" rx="13.6" ry="14.6" fill="url(#gn20)" stroke="#ff1212" stroke-width="3.2"/><ellipse cx="232.8" cy="248.1" rx="26.1" ry="21.9" fill="url(#gn24)" stroke="#ff1212" stroke-width="3.2"/><ellipse cx="164.8" cy="283.7" rx="19.8" ry="20.9" fill="url(#gn21)" stroke="#ff1212" stroke-width="3.2"/><ellipse cx="203.5" cy="285.8" rx="14.6" ry="14.0" fill="url(#gn22)" stroke="#ff1212" stroke-width="3.2"/><ellipse cx="59.0" cy="301.5" rx="15.7" ry="8.3" fill="url(#gn24)" stroke="#ff1212" stroke-width="3.2"/><ellipse cx="250.6" cy="298.4" rx="13.6" ry="11.5" fill="url(#gn22)" stroke="#ff1212" stroke-width="3.2"/><ellipse cx="307.2" cy="128.8" rx="3.1" ry="13.6" fill="url(#gn20)" stroke="#ff1212" stroke-width="3.2"/>
</g>
<rect x="245.3" y="281.5" width="34.6" height="3.0" fill="#fff"/>
<polygon points="249.4,123.6 241.5,138.6 236.2,135.8 236.0,155.6 252.1,144.2 246.8,141.4 254.7,126.4" fill="#fff"/>
</g>
<g transform="translate(1318.1,1353.6)" clip-path="url(#clip4)">
<rect x="0" y="0" width="310.0" height="309.8" fill="#090000"/>
<g filter="url(#fr4)">
<polyline points="234.9,80.6 224.5,99.5 226.5,114.1 233.9,128.8" fill="none" stroke="#c80000" stroke-width="1.5" stroke-linecap="round" opacity="1"/>
<g fill="none" stroke="#ff0000" stroke-opacity="0.2" stroke-width="2.4"><ellipse cx="58.0" cy="60.7" rx="14.1" ry="16.2"/><ellipse cx="87.3" cy="58.6" rx="19.3" ry="20.3"/><ellipse cx="130.2" cy="57.6" rx="17.2" ry="14.5"/><ellipse cx="121.9" cy="81.7" rx="19.3" ry="18.3"/><ellipse cx="113.5" cy="91.1" rx="13.0" ry="15.1"/><ellipse cx="68.5" cy="103.6" rx="24.5" ry="15.1"/><ellipse cx="137.6" cy="106.8" rx="14.1" ry="14.1"/><ellipse cx="260.1" cy="70.1" rx="14.1" ry="14.1"/><ellipse cx="7.7" cy="91.1" rx="8.8" ry="13.0"/><ellipse cx="24.5" cy="150.8" rx="19.3" ry="15.7"/><ellipse cx="153.3" cy="149.7" rx="12.0" ry="13.0"/><ellipse cx="173.2" cy="147.6" rx="14.1" ry="14.1"/><ellipse cx="159.5" cy="162.3" rx="12.0" ry="10.9"/><ellipse cx="175.3" cy="175.9" rx="14.1" ry="12.0"/><ellipse cx="177.3" cy="195.8" rx="12.0" ry="11.6"/><ellipse cx="160.6" cy="194.7" rx="12.0" ry="13.0"/><ellipse cx="20.3" cy="195.8" rx="12.4" ry="13.0"/><ellipse cx="98.8" cy="186.3" rx="13.0" ry="15.1"/><ellipse cx="114.5" cy="195.8" rx="16.2" ry="17.2"/><ellipse cx="86.3" cy="209.4" rx="14.1" ry="15.1"/><ellipse cx="98.8" cy="229.3" rx="20.3" ry="20.3"/><ellipse cx="129.2" cy="220.9" rx="15.1" ry="17.2"/><ellipse cx="151.2" cy="214.6" rx="13.0" ry="13.0"/><ellipse cx="51.7" cy="230.3" rx="15.1" ry="15.1"/><ellipse cx="54.9" cy="257.5" rx="11.6" ry="12.0"/><ellipse cx="8.8" cy="257.5" rx="12.0" ry="14.1"/><ellipse cx="277.8" cy="158.1" rx="18.3" ry="17.2"/><ellipse cx="230.7" cy="170.6" rx="16.2" ry="13.0"/><ellipse cx="221.3" cy="215.7" rx="13.0" ry="14.1"/><ellipse cx="242.3" cy="211.5" rx="14.1" ry="13.6"/><ellipse cx="268.4" cy="235.6" rx="14.1" ry="14.1"/><ellipse cx="260.1" cy="267.0" rx="19.3" ry="18.3"/><ellipse cx="300.9" cy="264.9" rx="10.9" ry="10.9"/><ellipse cx="292.5" cy="290.0" rx="16.2" ry="16.2"/><ellipse cx="247.5" cy="298.4" rx="13.0" ry="12.0"/><ellipse cx="15.1" cy="304.6" rx="12.0" ry="7.8"/></g><ellipse cx="112.4" cy="11.5" rx="12.5" ry="11.5" fill="url(#gd3)" stroke="#dc0e0e" stroke-width="1.7"/><ellipse cx="58.0" cy="60.7" rx="11.5" ry="13.6" fill="url(#gn25)" stroke="#ff1212" stroke-width="3.2"/><ellipse cx="87.3" cy="58.6" rx="16.7" ry="17.7" fill="url(#gn21)" stroke="#ff1212" stroke-width="3.2"/><ellipse cx="130.2" cy="57.6" rx="14.6" ry="11.9" fill="url(#gn23)" stroke="#ff1212" stroke-width="3.2"/><ellipse cx="121.9" cy="81.7" rx="16.7" ry="15.7" fill="url(#gn21)" stroke="#ff1212" stroke-width="3.2"/><ellipse cx="113.5" cy="91.1" rx="10.4" ry="12.5" fill="url(#gn20)" stroke="#ff1212" stroke-width="3.2"/><ellipse cx="68.5" cy="103.6" rx="21.9" ry="12.5" fill="url(#gn24)" stroke="#ff1212" stroke-width="3.2"/><ellipse cx="137.6" cy="106.8" rx="11.5" ry="11.5" fill="url(#gn20)" stroke="#ff1212" stroke-width="3.2"/><ellipse cx="260.1" cy="70.1" rx="11.5" ry="11.5" fill="url(#gn20)" stroke="#ff1212" stroke-width="3.2"/><ellipse cx="279.9" cy="91.1" rx="10.4" ry="10.4" fill="url(#gd5)" stroke="#dc0e0e" stroke-width="1.7"/><ellipse cx="239.1" cy="37.7" rx="9.4" ry="8.3" fill="url(#gd0)" stroke="#dc0e0e" stroke-width="1.7"/><ellipse cx="7.7" cy="91.1" rx="6.2" ry="10.4" fill="url(#gn20)" stroke="#ff1212" stroke-width="3.2"/><ellipse cx="24.5" cy="150.8" rx="16.7" ry="13.1" fill="url(#gn22)" stroke="#ff1212" stroke-width="3.2"/><ellipse cx="153.3" cy="149.7" rx="9.4" ry="10.4" fill="url(#gn23)" stroke="#ff1212" stroke-width="3.2"/><ellipse cx="173.2" cy="147.6" rx="11.5" ry="11.5" fill="url(#gn24)" stroke="#ff1212" stroke-width="3.2"/><ellipse cx="159.5" cy="162.3" rx="9.4" ry="8.3" fill="url(#gn21)" stroke="#ff1212" stroke-width="3.2"/><ellipse cx="175.3" cy="175.9" rx="11.5" ry="9.4" fill="url(#gn23)" stroke="#ff1212" stroke-width="3.2"/><ellipse cx="177.3" cy="195.8" rx="9.4" ry="9.0" fill="url(#gn21)" stroke="#ff1212" stroke-width="3.2"/><ellipse cx="160.6" cy="194.7" rx="9.4" ry="10.4" fill="url(#gn21)" stroke="#ff1212" stroke-width="3.2"/><ellipse cx="20.3" cy="195.8" rx="9.8" ry="10.4" fill="url(#gn25)" stroke="#ff1212" stroke-width="3.2"/><ellipse cx="98.8" cy="186.3" rx="10.4" ry="12.5" fill="url(#gn20)" stroke="#ff1212" stroke-width="3.2"/><ellipse cx="114.5" cy="195.8" rx="13.6" ry="14.6" fill="url(#gn22)" stroke="#ff1212" stroke-width="3.2"/><ellipse cx="86.3" cy="209.4" rx="11.5" ry="12.5" fill="url(#gn25)" stroke="#ff1212" stroke-width="3.2"/><ellipse cx="98.8" cy="229.3" rx="17.7" ry="17.7" fill="url(#gn24)" stroke="#ff1212" stroke-width="3.2"/><ellipse cx="129.2" cy="220.9" rx="12.5" ry="14.6" fill="url(#gn24)" stroke="#ff1212" stroke-width="3.2"/><ellipse cx="151.2" cy="214.6" rx="10.4" ry="10.4" fill="url(#gn20)" stroke="#ff1212" stroke-width="3.2"/><ellipse cx="51.7" cy="230.3" rx="12.5" ry="12.5" fill="url(#gn24)" stroke="#ff1212" stroke-width="3.2"/><ellipse cx="54.9" cy="257.5" rx="9.0" ry="9.4" fill="url(#gn22)" stroke="#ff1212" stroke-width="3.2"/><ellipse cx="8.8" cy="257.5" rx="9.4" ry="11.5" fill="url(#gn24)" stroke="#ff1212" stroke-width="3.2"/><ellipse cx="246.4" cy="148.7" rx="13.6" ry="19.8" fill="url(#gd2)" stroke="#dc0e0e" stroke-width="1.7"/><ellipse cx="277.8" cy="158.1" rx="15.7" ry="14.6" fill="url(#gn23)" stroke="#ff1212" stroke-width="3.2"/><ellipse cx="230.7" cy="170.6" rx="13.6" ry="10.4" fill="url(#gn22)" stroke="#ff1212" stroke-width="3.2"/><ellipse cx="221.3" cy="215.7" rx="10.4" ry="11.5" fill="url(#gn22)" stroke="#ff1212" stroke-width="3.2"/><ellipse cx="242.3" cy="211.5" rx="11.5" ry="11.0" fill="url(#gn21)" stroke="#ff1212" stroke-width="3.2"/><ellipse cx="268.4" cy="235.6" rx="11.5" ry="11.5" fill="url(#gn24)" stroke="#ff1212" stroke-width="3.2"/><ellipse cx="260.1" cy="267.0" rx="16.7" ry="15.7" fill="url(#gn25)" stroke="#ff1212" stroke-width="3.2"/><ellipse cx="300.9" cy="264.9" rx="8.3" ry="8.3" fill="url(#gn23)" stroke="#ff1212" stroke-width="3.2"/><ellipse cx="292.5" cy="290.0" rx="13.6" ry="13.6" fill="url(#gn20)" stroke="#ff1212" stroke-width="3.2"/><ellipse cx="247.5" cy="298.4" rx="10.4" ry="9.4" fill="url(#gn20)" stroke="#ff1212" stroke-width="3.2"/><ellipse cx="15.1" cy="304.6" rx="9.4" ry="5.2" fill="url(#gn20)" stroke="#ff1212" stroke-width="3.2"/>
</g>
<rect x="244.8" y="281.5" width="34.6" height="3.0" fill="#fff"/>
<polygon points="195.5,133.7 210.2,122.5 213.8,127.3 222.4,109.5 202.9,113.0 206.5,117.8 191.9,128.9" fill="#fff"/>
<text x="41.5" y="217.2" font-size="52" font-weight="bold" text-anchor="middle" fill="#ffff00">*</text>
<text x="140.7" y="197.4" font-size="52" font-weight="bold" text-anchor="middle" fill="#ffff00">*</text>
</g>
<g transform="translate(52.0,1668.6)" clip-path="url(#clip0)">
<rect x="0" y="0" width="310.0" height="309.8" fill="#01010b"/>
<g filter="url(#fb0)"><ellipse cx="75.0" cy="10.5" rx="10.7" ry="10.3" fill="url(#gbd)"/><ellipse cx="216.3" cy="33.5" rx="9.0" ry="10.3" fill="url(#gb)"/><ellipse cx="129.4" cy="67.0" rx="11.7" ry="12.8" fill="url(#gb)"/><ellipse cx="271.8" cy="56.5" rx="11.7" ry="12.8" fill="url(#gb)"/><ellipse cx="284.3" cy="67.0" rx="8.1" ry="7.3" fill="url(#gb)"/><ellipse cx="297.9" cy="79.6" rx="9.0" ry="10.7" fill="url(#gbd)"/><ellipse cx="48.4" cy="80.0" rx="11.1" ry="11.7" fill="url(#gb)"/><ellipse cx="31.0" cy="103.2" rx="7.5" ry="7.5" fill="url(#gb)"/><ellipse cx="47.7" cy="106.8" rx="8.1" ry="7.3" fill="url(#gbd)"/><ellipse cx="56.1" cy="125.6" rx="7.5" ry="6.8" fill="url(#gb)"/><ellipse cx="73.9" cy="128.4" rx="8.5" ry="7.7" fill="url(#gb)"/><ellipse cx="23.7" cy="142.4" rx="6.4" ry="10.3" fill="url(#gb)"/><ellipse cx="36.2" cy="146.6" rx="8.1" ry="7.3" fill="url(#gb)"/><ellipse cx="224.2" cy="106.8" rx="9.6" ry="8.5" fill="url(#gb)"/><ellipse cx="252.9" cy="115.2" rx="11.7" ry="9.6" fill="url(#gb)"/><ellipse cx="169.8" cy="171.7" rx="8.1" ry="8.1" fill="url(#gb)"/><ellipse cx="60.3" cy="190.5" rx="10.3" ry="9.0" fill="url(#gb)"/><ellipse cx="105.9" cy="187.0" rx="9.6" ry="10.7" fill="url(#gbd)"/><ellipse cx="283.7" cy="167.5" rx="10.7" ry="10.3" fill="url(#gb)"/><ellipse cx="254.4" cy="189.5" rx="13.2" ry="12.4" fill="url(#gb)"/><ellipse cx="278.7" cy="193.3" rx="8.5" ry="9.0" fill="url(#gb)"/><ellipse cx="269.7" cy="217.8" rx="10.0" ry="7.5" fill="url(#gb)"/><ellipse cx="86.5" cy="219.2" rx="11.1" ry="11.7" fill="url(#gb)"/><ellipse cx="26.4" cy="225.1" rx="11.7" ry="10.3" fill="url(#gbd)"/><ellipse cx="156.8" cy="226.8" rx="9.0" ry="8.5" fill="url(#gb)"/><ellipse cx="166.0" cy="254.4" rx="11.1" ry="11.7" fill="url(#gbd)"/><ellipse cx="8.0" cy="262.8" rx="9.0" ry="10.3" fill="url(#gbd)"/><ellipse cx="79.8" cy="271.6" rx="9.0" ry="7.7" fill="url(#gb)"/><ellipse cx="47.3" cy="287.5" rx="7.5" ry="9.0" fill="url(#gb)"/><ellipse cx="5.9" cy="295.9" rx="6.8" ry="6.8" fill="url(#gb)"/><ellipse cx="71.8" cy="302.6" rx="8.5" ry="7.5" fill="url(#gb)"/><ellipse cx="93.4" cy="299.4" rx="9.6" ry="7.5" fill="url(#gb)"/><ellipse cx="292.1" cy="288.9" rx="9.6" ry="9.6" fill="url(#gb)"/><ellipse cx="56.1" cy="306.7" rx="6.4" ry="4.3" fill="url(#gb)"/><ellipse cx="0.6" cy="3.1" rx="4.3" ry="4.3" fill="url(#gb)"/></g>
<rect x="245.3" y="281.2" width="34.6" height="3.7" fill="#fff"/>
</g>
<g transform="translate(368.5,1668.6)" clip-path="url(#clip1)">
<rect x="0" y="0" width="310.0" height="309.8" fill="#000003"/>
<g filter="url(#fb1)"><ellipse cx="51.3" cy="13.6" rx="10.3" ry="8.1" fill="url(#gb)"/><ellipse cx="71.2" cy="4.2" rx="9.6" ry="5.3" fill="url(#gb)"/><ellipse cx="157.0" cy="6.3" rx="8.5" ry="8.1" fill="url(#gb)"/><ellipse cx="98.4" cy="29.3" rx="8.1" ry="6.4" fill="url(#gb)"/><ellipse cx="110.6" cy="53.4" rx="7.5" ry="6.4" fill="url(#gb)"/><ellipse cx="151.8" cy="55.5" rx="7.7" ry="8.5" fill="url(#gb)"/><ellipse cx="85.8" cy="70.1" rx="9.0" ry="9.0" fill="url(#gb)"/><ellipse cx="210.4" cy="53.0" rx="9.0" ry="8.1" fill="url(#gb)"/><ellipse cx="219.4" cy="68.0" rx="7.3" ry="7.5" fill="url(#gb)"/><ellipse cx="265.9" cy="34.5" rx="10.3" ry="10.7" fill="url(#gb)"/><ellipse cx="266.3" cy="55.5" rx="9.2" ry="9.6" fill="url(#gb)"/><ellipse cx="291.0" cy="69.7" rx="9.0" ry="7.7" fill="url(#gb)"/><ellipse cx="145.5" cy="96.3" rx="9.2" ry="8.5" fill="url(#gb)"/><ellipse cx="22.6" cy="106.8" rx="11.1" ry="5.3" fill="url(#gb)"/><ellipse cx="85.2" cy="108.9" rx="8.5" ry="9.2" fill="url(#gb)"/><ellipse cx="51.3" cy="120.0" rx="11.1" ry="9.0" fill="url(#gb)"/><ellipse cx="64.9" cy="127.1" rx="4.3" ry="4.3" fill="url(#gb)"/><ellipse cx="12.6" cy="139.2" rx="8.1" ry="9.6" fill="url(#gb)"/><ellipse cx="119.8" cy="136.7" rx="8.5" ry="7.5" fill="url(#gb)"/><ellipse cx="220.9" cy="114.5" rx="10.3" ry="6.8" fill="url(#gb)" transform="rotate(20 220.9 114.5)"/><ellipse cx="194.3" cy="130.4" rx="7.5" ry="9.0" fill="url(#gb)"/><ellipse cx="233.5" cy="143.0" rx="6.4" ry="9.0" fill="url(#gb)"/><ellipse cx="3.1" cy="159.1" rx="4.7" ry="8.1" fill="url(#gb)"/><ellipse cx="12.6" cy="173.8" rx="7.5" ry="8.1" fill="url(#gb)"/><ellipse cx="18.8" cy="193.3" rx="9.0" ry="10.7" fill="url(#gb)"/><ellipse cx="140.9" cy="190.5" rx="12.8" ry="7.5" fill="url(#gb)" transform="rotate(-20 140.9 190.5)"/><ellipse cx="127.3" cy="211.5" rx="8.1" ry="7.5" fill="url(#gb)"/><ellipse cx="115.8" cy="217.8" rx="7.7" ry="10.3" fill="url(#gb)"/><ellipse cx="269.1" cy="180.1" rx="8.1" ry="7.5" fill="url(#gb)"/><ellipse cx="283.3" cy="236.0" rx="9.6" ry="9.0" fill="url(#gb)"/><ellipse cx="162.3" cy="254.0" rx="12.4" ry="10.7" fill="url(#gb)"/><ellipse cx="20.9" cy="263.8" rx="8.1" ry="9.0" fill="url(#gb)"/><ellipse cx="12.1" cy="277.0" rx="9.6" ry="8.5" fill="url(#gb)"/><ellipse cx="306.7" cy="292.1" rx="4.3" ry="8.5" fill="url(#gb)"/><ellipse cx="1.0" cy="28.3" rx="2.6" ry="5.3" fill="url(#gb)"/></g>
<rect x="245.3" y="281.5" width="34.6" height="3.0" fill="#fff"/>
</g>
<g transform="translate(685.1,1668.6)" clip-path="url(#clip2)">
<rect x="0" y="0" width="310.0" height="309.8" fill="#000003"/>
<g filter="url(#fb2)"><ellipse cx="48.6" cy="7.3" rx="8.1" ry="8.1" fill="url(#gbd)"/><ellipse cx="128.1" cy="9.4" rx="9.6" ry="10.7" fill="url(#gb)"/><ellipse cx="109.3" cy="59.3" rx="10.0" ry="8.5" fill="url(#gb)"/><ellipse cx="211.5" cy="59.7" rx="9.6" ry="8.5" fill="url(#gb)"/><ellipse cx="229.7" cy="87.3" rx="9.0" ry="8.5" fill="url(#gb)"/><ellipse cx="257.3" cy="84.4" rx="9.0" ry="8.1" fill="url(#gb)"/><ellipse cx="21.8" cy="101.5" rx="8.5" ry="8.5" fill="url(#gb)"/><ellipse cx="181.5" cy="131.9" rx="9.2" ry="8.1" fill="url(#gb)"/><ellipse cx="225.1" cy="127.1" rx="8.1" ry="8.1" fill="url(#gb)"/><ellipse cx="167.5" cy="174.8" rx="7.5" ry="10.3" fill="url(#gb)"/><ellipse cx="245.8" cy="180.1" rx="8.1" ry="7.5" fill="url(#gb)"/><ellipse cx="30.4" cy="191.2" rx="9.0" ry="8.5" fill="url(#gb)"/><ellipse cx="120.8" cy="192.6" rx="8.5" ry="8.1" fill="url(#gb)"/><ellipse cx="178.4" cy="197.9" rx="9.6" ry="9.0" fill="url(#gb)"/><ellipse cx="54.4" cy="206.2" rx="9.0" ry="7.7" fill="url(#gb)"/><ellipse cx="107.2" cy="214.2" rx="9.0" ry="8.5" fill="url(#gb)"/><ellipse cx="137.6" cy="221.9" rx="9.0" ry="7.7" fill="url(#gb)"/><ellipse cx="59.0" cy="246.0" rx="9.6" ry="9.0" fill="url(#gbd)"/><ellipse cx="40.2" cy="270.7" rx="8.1" ry="8.1" fill="url(#gb)"/><ellipse cx="214.4" cy="265.9" rx="7.5" ry="8.5" fill="url(#gb)"/><ellipse cx="268.8" cy="252.7" rx="6.8" ry="7.5" fill="url(#gb)"/><ellipse cx="281.4" cy="262.8" rx="8.5" ry="8.1" fill="url(#gb)"/><ellipse cx="258.4" cy="298.4" rx="9.0" ry="9.0" fill="url(#gb)"/><ellipse cx="272.6" cy="305.7" rx="7.5" ry="4.7" fill="url(#gb)"/></g>
<rect x="245.3" y="281.5" width="34.6" height="3.0" fill="#fff"/>
</g>
<g transform="translate(1001.5,1668.6)" clip-path="url(#clip3)">
<rect x="0" y="0" width="310.0" height="309.8" fill="#000003"/>
<g filter="url(#fb3)"><ellipse cx="93.6" cy="7.3" rx="8.5" ry="7.5" fill="url(#gbd)"/><ellipse cx="130.2" cy="8.4" rx="8.1" ry="7.5" fill="url(#gbd)"/><ellipse cx="153.3" cy="12.6" rx="7.5" ry="8.1" fill="url(#gbd)"/><ellipse cx="194.1" cy="5.2" rx="8.5" ry="5.3" fill="url(#gbd)"/><ellipse cx="12.6" cy="28.3" rx="4.7" ry="9.6" fill="url(#gb)" transform="rotate(15 12.6 28.3)"/><ellipse cx="136.9" cy="38.3" rx="6.8" ry="6.8" fill="url(#gbr)"/><ellipse cx="222.4" cy="37.7" rx="8.5" ry="8.5" fill="url(#gbd)"/><ellipse cx="246.4" cy="55.5" rx="8.1" ry="8.1" fill="url(#gbr)"/><ellipse cx="285.2" cy="34.5" rx="8.5" ry="7.5" fill="url(#gbd)"/><ellipse cx="29.7" cy="68.5" rx="9.6" ry="8.5" fill="url(#gbr)"/><ellipse cx="47.5" cy="75.4" rx="5.3" ry="6.4" fill="url(#gbd)"/><ellipse cx="282.5" cy="86.9" rx="8.5" ry="8.5" fill="url(#gbr)"/><ellipse cx="70.1" cy="131.5" rx="6.4" ry="9.0" fill="url(#gb)"/><ellipse cx="135.1" cy="127.7" rx="7.5" ry="12.8" fill="url(#gb)"/><ellipse cx="135.5" cy="158.1" rx="8.5" ry="9.0" fill="url(#gbr)"/><ellipse cx="282.0" cy="162.9" rx="7.7" ry="7.7" fill="url(#gbr)"/><ellipse cx="264.9" cy="185.3" rx="8.1" ry="7.7" fill="url(#gbr)"/><ellipse cx="256.9" cy="198.5" rx="7.3" ry="7.3" fill="url(#gbr)"/><ellipse cx="62.2" cy="197.4" rx="7.5" ry="9.0" fill="url(#gbr)"/><ellipse cx="23.0" cy="203.1" rx="7.9" ry="8.1" fill="url(#gbr)"/><ellipse cx="7.7" cy="216.7" rx="6.4" ry="6.4" fill="url(#gbd)"/><ellipse cx="6.3" cy="238.7" rx="6.8" ry="6.4" fill="url(#gbd)"/><ellipse cx="87.9" cy="224.0" rx="6.0" ry="6.4" fill="url(#gb)"/><ellipse cx="101.5" cy="230.9" rx="7.7" ry="7.5" fill="url(#gb)"/><ellipse cx="107.2" cy="248.1" rx="6.8" ry="7.5" fill="url(#gbd)"/><ellipse cx="120.2" cy="259.6" rx="7.7" ry="8.1" fill="url(#gbr)"/><ellipse cx="58.0" cy="250.6" rx="7.5" ry="7.5" fill="url(#gbd)"/><ellipse cx="291.0" cy="219.8" rx="6.8" ry="6.4" fill="url(#gbd)"/><ellipse cx="297.3" cy="235.6" rx="9.0" ry="8.5" fill="url(#gbr)"/><ellipse cx="216.1" cy="250.6" rx="8.1" ry="8.5" fill="url(#gbr)"/><ellipse cx="238.1" cy="249.2" rx="4.3" ry="2.6" fill="url(#gb)"/><ellipse cx="164.4" cy="284.8" rx="8.5" ry="9.0" fill="url(#gbr)"/><ellipse cx="208.8" cy="291.0" rx="9.6" ry="8.1" fill="url(#gbr)"/><ellipse cx="44.0" cy="298.4" rx="7.7" ry="7.5" fill="url(#gbr)"/><ellipse cx="62.2" cy="303.6" rx="9.6" ry="7.5" fill="url(#gbr)"/><ellipse cx="258.0" cy="290.0" rx="4.7" ry="6.4" fill="url(#gb)"/><ellipse cx="249.6" cy="305.7" rx="6.4" ry="4.3" fill="url(#gbd)"/></g>
<rect x="245.3" y="281.5" width="34.6" height="3.0" fill="#fff"/>
</g>
<g transform="translate(1318.1,1668.6)" clip-path="url(#clip4)">
<rect x="0" y="0" width="310.0" height="309.8" fill="#000003"/>
<g filter="url(#fb4)"><ellipse cx="59.0" cy="55.5" rx="9.4" ry="9.4" fill="url(#gb)"/><ellipse cx="124.6" cy="54.4" rx="9.6" ry="9.0" fill="url(#gb)"/><ellipse cx="96.3" cy="69.7" rx="9.2" ry="8.5" fill="url(#gb)"/><ellipse cx="128.1" cy="83.8" rx="9.6" ry="11.7" fill="url(#gb)"/><ellipse cx="110.8" cy="90.0" rx="8.1" ry="8.1" fill="url(#gb)"/><ellipse cx="58.0" cy="106.2" rx="9.2" ry="8.5" fill="url(#gb)"/><ellipse cx="130.9" cy="109.9" rx="7.5" ry="7.5" fill="url(#gb)"/><ellipse cx="116.2" cy="113.1" rx="6.4" ry="6.8" fill="url(#gbd)"/><ellipse cx="3.6" cy="93.2" rx="5.3" ry="8.5" fill="url(#gb)"/><ellipse cx="261.7" cy="74.3" rx="9.8" ry="8.1" fill="url(#gb)"/><ellipse cx="20.3" cy="149.3" rx="10.0" ry="9.4" fill="url(#gb)"/><ellipse cx="152.2" cy="146.6" rx="8.5" ry="9.0" fill="url(#gb)"/><ellipse cx="174.6" cy="148.7" rx="7.0" ry="8.5" fill="url(#gb)"/><ellipse cx="158.5" cy="163.3" rx="7.7" ry="7.7" fill="url(#gb)"/><ellipse cx="171.5" cy="176.5" rx="8.5" ry="8.5" fill="url(#gb)"/><ellipse cx="163.1" cy="190.5" rx="7.5" ry="6.8" fill="url(#gb)"/><ellipse cx="182.0" cy="194.3" rx="6.8" ry="8.5" fill="url(#gb)"/><ellipse cx="253.8" cy="156.4" rx="9.0" ry="8.5" fill="url(#gb)"/><ellipse cx="271.1" cy="158.5" rx="7.7" ry="8.5" fill="url(#gb)"/><ellipse cx="286.9" cy="164.4" rx="8.1" ry="8.5" fill="url(#gb)"/><ellipse cx="226.1" cy="170.2" rx="7.3" ry="7.3" fill="url(#gb)"/><ellipse cx="20.3" cy="190.5" rx="7.7" ry="7.7" fill="url(#gb)"/><ellipse cx="100.9" cy="179.4" rx="8.5" ry="7.5" fill="url(#gb)"/><ellipse cx="113.1" cy="193.7" rx="11.1" ry="10.7" fill="url(#gb)"/><ellipse cx="90.5" cy="206.9" rx="7.7" ry="7.7" fill="url(#gbd)"/><ellipse cx="145.9" cy="211.1" rx="9.0" ry="8.5" fill="url(#gb)"/><ellipse cx="122.3" cy="217.8" rx="8.1" ry="8.1" fill="url(#gb)"/><ellipse cx="106.8" cy="229.3" rx="10.3" ry="9.6" fill="url(#gb)"/><ellipse cx="50.3" cy="226.8" rx="9.2" ry="9.0" fill="url(#gb)"/><ellipse cx="223.4" cy="213.6" rx="7.7" ry="7.7" fill="url(#gb)"/><ellipse cx="242.3" cy="207.9" rx="9.8" ry="9.0" fill="url(#gb)"/><ellipse cx="267.0" cy="232.4" rx="9.0" ry="8.1" fill="url(#gb)"/><ellipse cx="9.8" cy="259.0" rx="8.5" ry="9.6" fill="url(#gb)"/><ellipse cx="54.9" cy="261.7" rx="8.1" ry="7.3" fill="url(#gb)"/><ellipse cx="243.3" cy="272.2" rx="6.8" ry="8.1" fill="url(#gb)"/><ellipse cx="261.1" cy="274.3" rx="8.1" ry="7.7" fill="url(#gb)"/><ellipse cx="303.0" cy="265.3" rx="6.8" ry="7.5" fill="url(#gb)"/><ellipse cx="290.4" cy="289.6" rx="9.0" ry="9.8" fill="url(#gb)"/><ellipse cx="247.5" cy="294.2" rx="8.5" ry="6.8" fill="url(#gb)"/><ellipse cx="14.4" cy="305.7" rx="8.1" ry="5.3" fill="url(#gb)"/></g>
<rect x="244.8" y="281.5" width="34.6" height="3.0" fill="#fff"/>
</g>
<g transform="translate(52.0,1984.0)" clip-path="url(#clip0)">
<rect x="0" y="0" width="310.0" height="309.8" fill="#030006"/>
<g filter="url(#fr0)">
<polyline points="130.0,82.7 130.4,133.0 131.5,202.1" fill="none" stroke="#360000" stroke-width="7.5" stroke-linecap="round" opacity="0.7"/>
<g fill="none" stroke="#ff0000" stroke-opacity="0.2" stroke-width="2.4"><ellipse cx="76.0" cy="11.5" rx="19.3" ry="15.1"/><ellipse cx="295.9" cy="7.3" rx="18.3" ry="15.1"/><ellipse cx="219.4" cy="34.5" rx="15.1" ry="14.1"/><ellipse cx="131.5" cy="57.6" rx="18.7" ry="27.0"/><ellipse cx="273.9" cy="59.7" rx="18.3" ry="19.3"/><ellipse cx="292.7" cy="79.6" rx="19.3" ry="17.2"/><ellipse cx="42.5" cy="81.7" rx="19.3" ry="17.2"/><ellipse cx="28.9" cy="100.5" rx="14.1" ry="14.1"/><ellipse cx="44.6" cy="108.9" rx="12.0" ry="10.9"/><ellipse cx="75.0" cy="120.4" rx="13.0" ry="14.1"/><ellipse cx="56.1" cy="131.9" rx="14.1" ry="14.1"/><ellipse cx="15.3" cy="142.4" rx="17.2" ry="16.2"/><ellipse cx="37.3" cy="149.7" rx="14.1" ry="13.0"/><ellipse cx="221.5" cy="112.0" rx="14.1" ry="16.2"/><ellipse cx="250.8" cy="118.3" rx="17.2" ry="16.2"/><ellipse cx="168.1" cy="172.7" rx="17.2" ry="20.3"/><ellipse cx="63.4" cy="182.2" rx="16.2" ry="18.3"/><ellipse cx="100.1" cy="183.2" rx="20.3" ry="22.4"/><ellipse cx="287.5" cy="166.5" rx="17.2" ry="20.3"/><ellipse cx="247.7" cy="193.7" rx="26.6" ry="21.4"/><ellipse cx="279.1" cy="191.6" rx="14.1" ry="16.2"/><ellipse cx="269.7" cy="215.7" rx="13.0" ry="12.0"/><ellipse cx="83.3" cy="216.7" rx="20.3" ry="20.3"/><ellipse cx="23.7" cy="227.2" rx="22.4" ry="22.4"/><ellipse cx="153.5" cy="227.2" rx="18.3" ry="14.1"/><ellipse cx="168.1" cy="254.4" rx="23.5" ry="17.2"/><ellipse cx="11.1" cy="264.9" rx="13.0" ry="19.3"/><ellipse cx="80.2" cy="275.3" rx="13.0" ry="13.0"/><ellipse cx="55.1" cy="287.9" rx="17.2" ry="16.2"/><ellipse cx="88.6" cy="298.4" rx="20.3" ry="12.0"/><ellipse cx="290.6" cy="292.1" rx="18.3" ry="17.2"/><ellipse cx="5.9" cy="298.4" rx="10.9" ry="14.1"/><ellipse cx="0.6" cy="208.3" rx="9.9" ry="14.1"/><ellipse cx="17.4" cy="2.1" rx="16.2" ry="5.3"/></g><ellipse cx="76.0" cy="11.5" rx="16.7" ry="12.5" fill="url(#gn21)" stroke="#ff1212" stroke-width="3.6"/><ellipse cx="295.9" cy="7.3" rx="15.7" ry="12.5" fill="url(#gn23)" stroke="#ff1212" stroke-width="3.6"/><ellipse cx="219.4" cy="34.5" rx="12.5" ry="11.5" fill="url(#gn03)" stroke="#ff1010" stroke-width="3.6"/><ellipse cx="131.5" cy="57.6" rx="16.1" ry="24.4" fill="url(#gn01)" stroke="#ff1010" stroke-width="3.6"/><ellipse cx="273.9" cy="59.7" rx="15.7" ry="16.7" fill="url(#gn25)" stroke="#ff1212" stroke-width="3.6"/><ellipse cx="292.7" cy="79.6" rx="16.7" ry="14.6" fill="url(#gn23)" stroke="#ff1212" stroke-width="3.6"/><ellipse cx="42.5" cy="81.7" rx="16.7" ry="14.6" fill="url(#gn25)" stroke="#ff1212" stroke-width="3.6"/><ellipse cx="28.9" cy="100.5" rx="11.5" ry="11.5" fill="url(#gn22)" stroke="#ff1212" stroke-width="3.6"/><ellipse cx="44.6" cy="108.9" rx="9.4" ry="8.3" fill="url(#gn23)" stroke="#ff1212" stroke-width="3.6"/><ellipse cx="75.0" cy="120.4" rx="10.4" ry="11.5" fill="url(#gn24)" stroke="#ff1212" stroke-width="3.6"/><ellipse cx="56.1" cy="131.9" rx="11.5" ry="11.5" fill="url(#gn20)" stroke="#ff1212" stroke-width="3.6"/><ellipse cx="15.3" cy="142.4" rx="14.6" ry="13.6" fill="url(#gn24)" stroke="#ff1212" stroke-width="3.6"/><ellipse cx="37.3" cy="149.7" rx="11.5" ry="10.4" fill="url(#gn20)" stroke="#ff1212" stroke-width="3.6"/><ellipse cx="221.5" cy="112.0" rx="11.5" ry="13.6" fill="url(#gn20)" stroke="#ff1212" stroke-width="3.6"/><ellipse cx="250.8" cy="118.3" rx="14.6" ry="13.6" fill="url(#gn25)" stroke="#ff1212" stroke-width="3.6"/><ellipse cx="168.1" cy="172.7" rx="14.6" ry="17.7" fill="url(#gn23)" stroke="#ff1212" stroke-width="3.6"/><ellipse cx="63.4" cy="182.2" rx="13.6" ry="15.7" fill="url(#gn22)" stroke="#ff1212" stroke-width="3.6"/><ellipse cx="100.1" cy="183.2" rx="17.7" ry="19.8" fill="url(#gn20)" stroke="#ff1212" stroke-width="3.6"/><ellipse cx="287.5" cy="166.5" rx="14.6" ry="17.7" fill="url(#gn25)" stroke="#ff1212" stroke-width="3.6"/><ellipse cx="247.7" cy="193.7" rx="24.0" ry="18.8" fill="url(#gn25)" stroke="#ff1212" stroke-width="3.6"/><ellipse cx="279.1" cy="191.6" rx="11.5" ry="13.6" fill="url(#gn21)" stroke="#ff1212" stroke-width="3.6"/><ellipse cx="269.7" cy="215.7" rx="10.4" ry="9.4" fill="url(#gn22)" stroke="#ff1212" stroke-width="3.6"/><ellipse cx="83.3" cy="216.7" rx="17.7" ry="17.7" fill="url(#gn21)" stroke="#ff1212" stroke-width="3.6"/><ellipse cx="23.7" cy="227.2" rx="19.8" ry="19.8" fill="url(#gn22)" stroke="#ff1212" stroke-width="3.6"/><ellipse cx="153.5" cy="227.2" rx="15.7" ry="11.5" fill="url(#gn21)" stroke="#ff1212" stroke-width="3.6"/><ellipse cx="168.1" cy="254.4" rx="20.9" ry="14.6" fill="url(#gn21)" stroke="#ff1212" stroke-width="3.6"/><ellipse cx="11.1" cy="264.9" rx="10.4" ry="16.7" fill="url(#gn21)" stroke="#ff1212" stroke-width="3.6"/><ellipse cx="80.2" cy="275.3" rx="10.4" ry="10.4" fill="url(#gn21)" stroke="#ff1212" stroke-width="3.6"/><ellipse cx="55.1" cy="287.9" rx="14.6" ry="13.6" fill="url(#gn22)" stroke="#ff1212" stroke-width="3.6"/><ellipse cx="88.6" cy="298.4" rx="17.7" ry="9.4" fill="url(#gn22)" stroke="#ff1212" stroke-width="3.6"/><ellipse cx="290.6" cy="292.1" rx="15.7" ry="14.6" fill="url(#gn25)" stroke="#ff1212" stroke-width="3.6"/><ellipse cx="5.9" cy="298.4" rx="8.3" ry="11.5" fill="url(#gn23)" stroke="#ff1212" stroke-width="3.6"/><ellipse cx="0.6" cy="208.3" rx="7.3" ry="11.5" fill="url(#gn21)" stroke="#ff1212" stroke-width="3.6"/><ellipse cx="17.4" cy="2.1" rx="13.6" ry="2.7" fill="url(#gn03)" stroke="#ff1010" stroke-width="3.6"/>
</g>
<g filter="url(#fb0)" opacity="0.93"><ellipse cx="75.0" cy="10.5" rx="10.7" ry="10.3" fill="url(#gm0d)"/><ellipse cx="216.3" cy="33.5" rx="9.0" ry="10.3" fill="url(#gm0)"/><ellipse cx="129.4" cy="67.0" rx="11.7" ry="12.8" fill="url(#gm0)"/><ellipse cx="271.8" cy="56.5" rx="11.7" ry="12.8" fill="url(#gm0)"/><ellipse cx="284.3" cy="67.0" rx="8.1" ry="7.3" fill="url(#gm0)"/><ellipse cx="297.9" cy="79.6" rx="9.0" ry="10.7" fill="url(#gm0d)"/><ellipse cx="48.4" cy="80.0" rx="11.1" ry="11.7" fill="url(#gm0)"/><ellipse cx="31.0" cy="103.2" rx="7.5" ry="7.5" fill="url(#gm0)"/><ellipse cx="47.7" cy="106.8" rx="8.1" ry="7.3" fill="url(#gm0d)"/><ellipse cx="56.1" cy="125.6" rx="7.5" ry="6.8" fill="url(#gm0)"/><ellipse cx="73.9" cy="128.4" rx="8.5" ry="7.7" fill="url(#gm0)"/><ellipse cx="23.7" cy="142.4" rx="6.4" ry="10.3" fill="url(#gm0)"/><ellipse cx="36.2" cy="146.6" rx="8.1" ry="7.3" fill="url(#gm0)"/><ellipse cx="224.2" cy="106.8" rx="9.6" ry="8.5" fill="url(#gm0)"/><ellipse cx="252.9" cy="115.2" rx="11.7" ry="9.6" fill="url(#gm0)"/><ellipse cx="169.8" cy="171.7" rx="8.1" ry="8.1" fill="url(#gm0)"/><ellipse cx="60.3" cy="190.5" rx="10.3" ry="9.0" fill="url(#gm0)"/><ellipse cx="105.9" cy="187.0" rx="9.6" ry="10.7" fill="url(#gm0d)"/><ellipse cx="283.7" cy="167.5" rx="10.7" ry="10.3" fill="url(#gm0)"/><ellipse cx="254.4" cy="189.5" rx="13.2" ry="12.4" fill="url(#gm0)"/><ellipse cx="278.7" cy="193.3" rx="8.5" ry="9.0" fill="url(#gm0)"/><ellipse cx="269.7" cy="217.8" rx="10.0" ry="7.5" fill="url(#gm0)"/><ellipse cx="86.5" cy="219.2" rx="11.1" ry="11.7" fill="url(#gm0)"/><ellipse cx="26.4" cy="225.1" rx="11.7" ry="10.3" fill="url(#gm0d)"/><ellipse cx="156.8" cy="226.8" rx="9.0" ry="8.5" fill="url(#gm0)"/><ellipse cx="166.0" cy="254.4" rx="11.1" ry="11.7" fill="url(#gm0d)"/><ellipse cx="8.0" cy="262.8" rx="9.0" ry="10.3" fill="url(#gm0d)"/><ellipse cx="79.8" cy="271.6" rx="9.0" ry="7.7" fill="url(#gm0)"/><ellipse cx="47.3" cy="287.5" rx="7.5" ry="9.0" fill="url(#gm0)"/><ellipse cx="5.9" cy="295.9" rx="6.8" ry="6.8" fill="url(#gm0)"/><ellipse cx="71.8" cy="302.6" rx="8.5" ry="7.5" fill="url(#gm0)"/><ellipse cx="93.4" cy="299.4" rx="9.6" ry="7.5" fill="url(#gm0)"/><ellipse cx="292.1" cy="288.9" rx="9.6" ry="9.6" fill="url(#gm0)"/><ellipse cx="56.1" cy="306.7" rx="6.4" ry="4.3" fill="url(#gm0)"/><ellipse cx="0.6" cy="3.1" rx="4.3" ry="4.3" fill="url(#gm0)"/></g>
<rect x="245.3" y="281.2" width="34.6" height="3.7" fill="#fff"/>
</g>
<g transform="translate(368.5,1984.0)" clip-path="url(#clip1)">
<rect x="0" y="0" width="310.0" height="309.8" fill="#0a0000"/>
<g filter="url(#fr1)">
<polyline points="73.3,130.9 96.3,153.9 123.5,183.2" fill="none" stroke="#e00000" stroke-width="1.6" stroke-linecap="round" opacity="1"/>
<polyline points="106.8,190.5 117.3,197.9" fill="none" stroke="#d00000" stroke-width="1.2" stroke-linecap="round" opacity="1"/>
<g fill="none" stroke="#ff0000" stroke-opacity="0.2" stroke-width="2.4"><ellipse cx="49.2" cy="14.7" rx="14.1" ry="15.1"/><ellipse cx="71.2" cy="4.2" rx="14.1" ry="8.8"/><ellipse cx="156.0" cy="7.3" rx="15.1" ry="12.0"/><ellipse cx="101.5" cy="33.5" rx="15.1" ry="16.2"/><ellipse cx="115.2" cy="47.1" rx="14.1" ry="17.2"/><ellipse cx="143.4" cy="55.5" rx="18.3" ry="16.2"/><ellipse cx="83.8" cy="75.4" rx="15.7" ry="15.7"/><ellipse cx="216.7" cy="47.1" rx="17.2" ry="16.2"/><ellipse cx="231.4" cy="64.9" rx="20.3" ry="17.2"/><ellipse cx="277.4" cy="34.5" rx="23.5" ry="18.3"/><ellipse cx="270.1" cy="59.7" rx="17.2" ry="16.2"/><ellipse cx="292.1" cy="77.5" rx="17.2" ry="16.2"/><ellipse cx="148.7" cy="104.7" rx="21.4" ry="21.4"/><ellipse cx="92.1" cy="103.6" rx="17.8" ry="18.3"/><ellipse cx="54.4" cy="112.0" rx="20.3" ry="22.4"/><ellipse cx="116.2" cy="133.0" rx="14.1" ry="21.4"/><ellipse cx="23.0" cy="115.2" rx="16.2" ry="16.2"/><ellipse cx="5.2" cy="109.9" rx="9.9" ry="12.0"/><ellipse cx="9.4" cy="136.1" rx="13.0" ry="18.3"/><ellipse cx="217.8" cy="119.3" rx="14.1" ry="13.0"/><ellipse cx="198.9" cy="130.9" rx="14.1" ry="13.0"/><ellipse cx="231.4" cy="137.1" rx="9.9" ry="17.2" transform="rotate(-25 231.4 137.1)"/><ellipse cx="263.8" cy="176.9" rx="26.6" ry="18.3"/><ellipse cx="16.8" cy="175.9" rx="13.0" ry="13.0"/><ellipse cx="29.3" cy="192.6" rx="21.4" ry="18.3"/><ellipse cx="144.5" cy="196.8" rx="17.2" ry="16.2"/><ellipse cx="108.9" cy="217.8" rx="19.3" ry="17.2"/><ellipse cx="129.8" cy="211.5" rx="8.8" ry="10.9"/><ellipse cx="281.6" cy="239.7" rx="24.5" ry="22.4"/><ellipse cx="160.2" cy="262.8" rx="19.3" ry="21.4"/><ellipse cx="23.0" cy="264.9" rx="22.4" ry="19.3"/><ellipse cx="14.7" cy="287.9" rx="20.3" ry="20.3"/><ellipse cx="306.7" cy="294.2" rx="6.7" ry="13.0"/><ellipse cx="3.1" cy="28.3" rx="7.8" ry="9.9"/><ellipse cx="4.2" cy="160.2" rx="5.7" ry="12.0"/></g><ellipse cx="49.2" cy="14.7" rx="11.5" ry="12.5" fill="url(#gb0)" stroke="#ff1a1a" stroke-width="3.6"/><ellipse cx="71.2" cy="4.2" rx="11.5" ry="6.2" fill="url(#gb5)" stroke="#ff1a1a" stroke-width="3.6"/><ellipse cx="156.0" cy="7.3" rx="12.5" ry="9.4" fill="url(#gb5)" stroke="#ff1a1a" stroke-width="3.6"/><ellipse cx="101.5" cy="33.5" rx="12.5" ry="13.6" fill="url(#gb2)" stroke="#ff1a1a" stroke-width="3.6"/><ellipse cx="115.2" cy="47.1" rx="11.5" ry="14.6" fill="url(#gb0)" stroke="#ff1a1a" stroke-width="3.6"/><ellipse cx="143.4" cy="55.5" rx="15.7" ry="13.6" fill="url(#gb3)" stroke="#ff1a1a" stroke-width="3.6"/><ellipse cx="83.8" cy="75.4" rx="13.1" ry="13.1" fill="url(#gb4)" stroke="#ff1a1a" stroke-width="3.6"/><ellipse cx="216.7" cy="47.1" rx="14.6" ry="13.6" fill="url(#gb2)" stroke="#ff1a1a" stroke-width="3.6"/><ellipse cx="231.4" cy="64.9" rx="17.7" ry="14.6" fill="url(#gb1)" stroke="#ff1a1a" stroke-width="3.6"/><ellipse cx="277.4" cy="34.5" rx="20.9" ry="15.7" fill="url(#gb3)" stroke="#ff1a1a" stroke-width="3.6"/><ellipse cx="270.1" cy="59.7" rx="14.6" ry="13.6" fill="url(#gb0)" stroke="#ff1a1a" stroke-width="3.6"/><ellipse cx="292.1" cy="77.5" rx="14.6" ry="13.6" fill="url(#gb0)" stroke="#ff1a1a" stroke-width="3.6"/><ellipse cx="148.7" cy="104.7" rx="18.8" ry="18.8" fill="url(#gb2)" stroke="#ff1a1a" stroke-width="3.6"/><ellipse cx="92.1" cy="103.6" rx="15.2" ry="15.7" fill="url(#gb1)" stroke="#ff1a1a" stroke-width="3.6"/><ellipse cx="54.4" cy="112.0" rx="17.7" ry="19.8" fill="url(#gn04)" stroke="#ff1010" stroke-width="3.6"/><ellipse cx="116.2" cy="133.0" rx="11.5" ry="18.8" fill="url(#gn02)" stroke="#ff1010" stroke-width="3.6"/><ellipse cx="23.0" cy="115.2" rx="13.6" ry="13.6" fill="url(#gb3)" stroke="#ff1a1a" stroke-width="3.6"/><ellipse cx="5.2" cy="109.9" rx="7.3" ry="9.4" fill="url(#gb2)" stroke="#ff1a1a" stroke-width="3.6"/><ellipse cx="9.4" cy="136.1" rx="10.4" ry="15.7" fill="url(#gb2)" stroke="#ff1a1a" stroke-width="3.6"/><ellipse cx="217.8" cy="119.3" rx="11.5" ry="10.4" fill="url(#gb3)" stroke="#ff1a1a" stroke-width="3.6"/><ellipse cx="198.9" cy="130.9" rx="11.5" ry="10.4" fill="url(#gb2)" stroke="#ff1a1a" stroke-width="3.6"/><ellipse cx="231.4" cy="137.1" rx="7.3" ry="14.6" fill="url(#gb3)" stroke="#ff1a1a" stroke-width="3.6" transform="rotate(-25 231.4 137.1)"/><ellipse cx="263.8" cy="176.9" rx="24.0" ry="15.7" fill="url(#gn01)" stroke="#ff1010" stroke-width="3.6"/><ellipse cx="16.8" cy="175.9" rx="10.4" ry="10.4" fill="url(#gb3)" stroke="#ff1a1a" stroke-width="3.6"/><ellipse cx="29.3" cy="192.6" rx="18.8" ry="15.7" fill="url(#gb3)" stroke="#ff1a1a" stroke-width="3.6"/><ellipse cx="144.5" cy="196.8" rx="14.6" ry="13.6" fill="url(#gb2)" stroke="#ff1a1a" stroke-width="3.6"/><ellipse cx="108.9" cy="217.8" rx="16.7" ry="14.6" fill="url(#gb5)" stroke="#ff1a1a" stroke-width="3.6"/><ellipse cx="129.8" cy="211.5" rx="6.2" ry="8.3" fill="url(#gb0)" stroke="#ff1a1a" stroke-width="3.6"/><ellipse cx="281.6" cy="239.7" rx="21.9" ry="19.8" fill="url(#gb4)" stroke="#ff1a1a" stroke-width="3.6"/><ellipse cx="160.2" cy="262.8" rx="16.7" ry="18.8" fill="url(#gb2)" stroke="#ff1a1a" stroke-width="3.6"/><ellipse cx="23.0" cy="264.9" rx="19.8" ry="16.7" fill="url(#gb1)" stroke="#ff1a1a" stroke-width="3.6"/><ellipse cx="14.7" cy="287.9" rx="17.7" ry="17.7" fill="url(#gn04)" stroke="#ff1010" stroke-width="3.6"/><ellipse cx="306.7" cy="294.2" rx="4.1" ry="10.4" fill="url(#gb1)" stroke="#ff1a1a" stroke-width="3.6"/><ellipse cx="3.1" cy="28.3" rx="5.2" ry="7.3" fill="url(#gb4)" stroke="#ff1a1a" stroke-width="3.6"/><ellipse cx="4.2" cy="160.2" rx="3.1" ry="9.4" fill="url(#gb2)" stroke="#ff1a1a" stroke-width="3.6"/>
</g>
<g filter="url(#fb1)" opacity="0.93"><ellipse cx="51.3" cy="13.6" rx="10.3" ry="8.1" fill="url(#gm)"/><ellipse cx="71.2" cy="4.2" rx="9.6" ry="5.3" fill="url(#gm)"/><ellipse cx="157.0" cy="6.3" rx="8.5" ry="8.1" fill="url(#gm)"/><ellipse cx="98.4" cy="29.3" rx="8.1" ry="6.4" fill="url(#gm)"/><ellipse cx="110.6" cy="53.4" rx="7.5" ry="6.4" fill="url(#gm)"/><ellipse cx="151.8" cy="55.5" rx="7.7" ry="8.5" fill="url(#gm)"/><ellipse cx="85.8" cy="70.1" rx="9.0" ry="9.0" fill="url(#gm)"/><ellipse cx="210.4" cy="53.0" rx="9.0" ry="8.1" fill="url(#gm)"/><ellipse cx="219.4" cy="68.0" rx="7.3" ry="7.5" fill="url(#gm)"/><ellipse cx="265.9" cy="34.5" rx="10.3" ry="10.7" fill="url(#gm)"/><ellipse cx="266.3" cy="55.5" rx="9.2" ry="9.6" fill="url(#gm)"/><ellipse cx="291.0" cy="69.7" rx="9.0" ry="7.7" fill="url(#gm)"/><ellipse cx="145.5" cy="96.3" rx="9.2" ry="8.5" fill="url(#gm)"/><ellipse cx="22.6" cy="106.8" rx="11.1" ry="5.3" fill="url(#gm)"/><ellipse cx="85.2" cy="108.9" rx="8.5" ry="9.2" fill="url(#gm)"/><ellipse cx="51.3" cy="120.0" rx="11.1" ry="9.0" fill="url(#gm)"/><ellipse cx="64.9" cy="127.1" rx="4.3" ry="4.3" fill="url(#gm)"/><ellipse cx="12.6" cy="139.2" rx="8.1" ry="9.6" fill="url(#gm)"/><ellipse cx="119.8" cy="136.7" rx="8.5" ry="7.5" fill="url(#gm)"/><ellipse cx="220.9" cy="114.5" rx="10.3" ry="6.8" fill="url(#gm)" transform="rotate(20 220.9 114.5)"/><ellipse cx="194.3" cy="130.4" rx="7.5" ry="9.0" fill="url(#gm)"/><ellipse cx="233.5" cy="143.0" rx="6.4" ry="9.0" fill="url(#gm)"/><ellipse cx="3.1" cy="159.1" rx="4.7" ry="8.1" fill="url(#gm)"/><ellipse cx="12.6" cy="173.8" rx="7.5" ry="8.1" fill="url(#gm)"/><ellipse cx="18.8" cy="193.3" rx="9.0" ry="10.7" fill="url(#gm)"/><ellipse cx="140.9" cy="190.5" rx="12.8" ry="7.5" fill="url(#gm)" transform="rotate(-20 140.9 190.5)"/><ellipse cx="127.3" cy="211.5" rx="8.1" ry="7.5" fill="url(#gm)"/><ellipse cx="115.8" cy="217.8" rx="7.7" ry="10.3" fill="url(#gm)"/><ellipse cx="269.1" cy="180.1" rx="8.1" ry="7.5" fill="url(#gm)"/><ellipse cx="283.3" cy="236.0" rx="9.6" ry="9.0" fill="url(#gm)"/><ellipse cx="162.3" cy="254.0" rx="12.4" ry="10.7" fill="url(#gm)"/><ellipse cx="20.9" cy="263.8" rx="8.1" ry="9.0" fill="url(#gm)"/><ellipse cx="12.1" cy="277.0" rx="9.6" ry="8.5" fill="url(#gm)"/><ellipse cx="306.7" cy="292.1" rx="4.3" ry="8.5" fill="url(#gm)"/><ellipse cx="1.0" cy="28.3" rx="2.6" ry="5.3" fill="url(#gm)"/></g>
<rect x="245.3" y="281.5" width="34.6" height="3.0" fill="#fff"/>
</g>
<g transform="translate(685.1,1984.0)" clip-path="url(#clip2)">
<rect x="0" y="0" width="310.0" height="309.8" fill="#080000"/>
<g filter="url(#fr2)">
<polyline points="188.9,185.3 203.5,194.7 216.1,201.0" fill="none" stroke="#d00000" stroke-width="1.5" stroke-linecap="round" opacity="1"/>
<g fill="none" stroke="#ff0000" stroke-opacity="0.2" stroke-width="2.4"><ellipse cx="15.1" cy="2.1" rx="13.0" ry="6.7"/><ellipse cx="51.7" cy="9.4" rx="18.3" ry="14.1"/><ellipse cx="133.4" cy="8.4" rx="17.2" ry="14.1"/><ellipse cx="109.3" cy="63.9" rx="19.3" ry="17.2"/><ellipse cx="214.0" cy="56.5" rx="20.3" ry="19.3"/><ellipse cx="256.9" cy="78.5" rx="18.3" ry="20.3"/><ellipse cx="228.6" cy="92.1" rx="18.3" ry="17.2"/><ellipse cx="27.6" cy="107.8" rx="16.6" ry="17.8"/><ellipse cx="226.5" cy="128.8" rx="18.7" ry="15.7"/><ellipse cx="175.3" cy="137.1" rx="19.9" ry="18.7"/><ellipse cx="32.9" cy="183.2" rx="18.3" ry="18.7"/><ellipse cx="239.1" cy="184.3" rx="18.3" ry="19.9"/><ellipse cx="173.2" cy="175.9" rx="19.3" ry="13.0"/><ellipse cx="121.9" cy="193.7" rx="17.2" ry="16.2"/><ellipse cx="176.3" cy="204.1" rx="19.3" ry="18.3"/><ellipse cx="46.1" cy="214.2" rx="19.3" ry="19.9"/><ellipse cx="111.4" cy="217.8" rx="14.1" ry="14.1"/><ellipse cx="135.5" cy="219.8" rx="15.1" ry="14.5"/><ellipse cx="62.2" cy="245.6" rx="15.1" ry="17.2" transform="rotate(-25 62.2 245.6)"/><ellipse cx="39.2" cy="264.9" rx="17.2" ry="17.8"/><ellipse cx="217.1" cy="273.2" rx="12.0" ry="24.5"/><ellipse cx="265.3" cy="254.4" rx="12.4" ry="12.4"/><ellipse cx="283.1" cy="267.0" rx="14.1" ry="14.1"/><ellipse cx="251.7" cy="296.3" rx="18.3" ry="16.2"/><ellipse cx="276.8" cy="304.6" rx="12.0" ry="7.8"/></g><ellipse cx="15.1" cy="2.1" rx="10.4" ry="4.1" fill="url(#gn14)" stroke="#ff1414" stroke-width="3.6"/><ellipse cx="51.7" cy="9.4" rx="15.7" ry="11.5" fill="url(#gn10)" stroke="#ff1414" stroke-width="3.6"/><ellipse cx="133.4" cy="8.4" rx="14.6" ry="11.5" fill="url(#gn14)" stroke="#ff1414" stroke-width="3.6"/><ellipse cx="109.3" cy="63.9" rx="16.7" ry="14.6" fill="url(#gn14)" stroke="#ff1414" stroke-width="3.6"/><ellipse cx="214.0" cy="56.5" rx="17.7" ry="16.7" fill="url(#gn13)" stroke="#ff1414" stroke-width="3.6"/><ellipse cx="256.9" cy="78.5" rx="15.7" ry="17.7" fill="url(#gn11)" stroke="#ff1414" stroke-width="3.6"/><ellipse cx="228.6" cy="92.1" rx="15.7" ry="14.6" fill="url(#gn15)" stroke="#ff1414" stroke-width="3.6"/><ellipse cx="27.6" cy="107.8" rx="14.0" ry="15.2" fill="url(#gn11)" stroke="#ff1414" stroke-width="3.6"/><ellipse cx="226.5" cy="128.8" rx="16.1" ry="13.1" fill="url(#gn13)" stroke="#ff1414" stroke-width="3.6"/><ellipse cx="175.3" cy="137.1" rx="17.3" ry="16.1" fill="url(#gn13)" stroke="#ff1414" stroke-width="3.6"/><ellipse cx="32.9" cy="183.2" rx="15.7" ry="16.1" fill="url(#gn11)" stroke="#ff1414" stroke-width="3.6"/><ellipse cx="239.1" cy="184.3" rx="15.7" ry="17.3" fill="url(#gn11)" stroke="#ff1414" stroke-width="3.6"/><ellipse cx="173.2" cy="175.9" rx="16.7" ry="10.4" fill="url(#gn05)" stroke="#ff1010" stroke-width="3.6"/><ellipse cx="121.9" cy="193.7" rx="14.6" ry="13.6" fill="url(#gn11)" stroke="#ff1414" stroke-width="3.6"/><ellipse cx="176.3" cy="204.1" rx="16.7" ry="15.7" fill="url(#gn15)" stroke="#ff1414" stroke-width="3.6"/><ellipse cx="46.1" cy="214.2" rx="16.7" ry="17.3" fill="url(#gn13)" stroke="#ff1414" stroke-width="3.6"/><ellipse cx="111.4" cy="217.8" rx="11.5" ry="11.5" fill="url(#gn10)" stroke="#ff1414" stroke-width="3.6"/><ellipse cx="135.5" cy="219.8" rx="12.5" ry="11.9" fill="url(#gn15)" stroke="#ff1414" stroke-width="3.6"/><ellipse cx="62.2" cy="245.6" rx="12.5" ry="14.6" fill="url(#gn15)" stroke="#ff1414" stroke-width="3.6" transform="rotate(-25 62.2 245.6)"/><ellipse cx="39.2" cy="264.9" rx="14.6" ry="15.2" fill="url(#gn02)" stroke="#ff1010" stroke-width="3.6"/><ellipse cx="217.1" cy="273.2" rx="9.4" ry="21.9" fill="url(#gn14)" stroke="#ff1414" stroke-width="3.6"/><ellipse cx="265.3" cy="254.4" rx="9.8" ry="9.8" fill="url(#gn11)" stroke="#ff1414" stroke-width="3.6"/><ellipse cx="283.1" cy="267.0" rx="11.5" ry="11.5" fill="url(#gn12)" stroke="#ff1414" stroke-width="3.6"/><ellipse cx="251.7" cy="296.3" rx="15.7" ry="13.6" fill="url(#gn11)" stroke="#ff1414" stroke-width="3.6"/><ellipse cx="276.8" cy="304.6" rx="9.4" ry="5.2" fill="url(#gn13)" stroke="#ff1414" stroke-width="3.6"/>
</g>
<g filter="url(#fb2)" opacity="0.93"><ellipse cx="48.6" cy="7.3" rx="8.1" ry="8.1" fill="url(#gmd)"/><ellipse cx="128.1" cy="9.4" rx="9.6" ry="10.7" fill="url(#gm)"/><ellipse cx="109.3" cy="59.3" rx="10.0" ry="8.5" fill="url(#gm)"/><ellipse cx="211.5" cy="59.7" rx="9.6" ry="8.5" fill="url(#gm)"/><ellipse cx="229.7" cy="87.3" rx="9.0" ry="8.5" fill="url(#gm)"/><ellipse cx="257.3" cy="84.4" rx="9.0" ry="8.1" fill="url(#gm)"/><ellipse cx="21.8" cy="101.5" rx="8.5" ry="8.5" fill="url(#gm)"/><ellipse cx="181.5" cy="131.9" rx="9.2" ry="8.1" fill="url(#gm)"/><ellipse cx="225.1" cy="127.1" rx="8.1" ry="8.1" fill="url(#gm)"/><ellipse cx="167.5" cy="174.8" rx="7.5" ry="10.3" fill="url(#gm)"/><ellipse cx="245.8" cy="180.1" rx="8.1" ry="7.5" fill="url(#gm)"/><ellipse cx="30.4" cy="191.2" rx="9.0" ry="8.5" fill="url(#gm)"/><ellipse cx="120.8" cy="192.6" rx="8.5" ry="8.1" fill="url(#gm)"/><ellipse cx="178.4" cy="197.9" rx="9.6" ry="9.0" fill="url(#gm)"/><ellipse cx="54.4" cy="206.2" rx="9.0" ry="7.7" fill="url(#gm)"/><ellipse cx="107.2" cy="214.2" rx="9.0" ry="8.5" fill="url(#gm)"/><ellipse cx="137.6" cy="221.9" rx="9.0" ry="7.7" fill="url(#gm)"/><ellipse cx="59.0" cy="246.0" rx="9.6" ry="9.0" fill="url(#gmd)"/><ellipse cx="40.2" cy="270.7" rx="8.1" ry="8.1" fill="url(#gm)"/><ellipse cx="214.4" cy="265.9" rx="7.5" ry="8.5" fill="url(#gm)"/><ellipse cx="268.8" cy="252.7" rx="6.8" ry="7.5" fill="url(#gm)"/><ellipse cx="281.4" cy="262.8" rx="8.5" ry="8.1" fill="url(#gm)"/><ellipse cx="258.4" cy="298.4" rx="9.0" ry="9.0" fill="url(#gm)"/><ellipse cx="272.6" cy="305.7" rx="7.5" ry="4.7" fill="url(#gm)"/></g>
<rect x="245.3" y="281.5" width="34.6" height="3.0" fill="#fff"/>
</g>
<g transform="translate(1001.5,1984.0)" clip-path="url(#clip3)">
<rect x="0" y="0" width="310.0" height="309.8" fill="#0b0000"/>
<g filter="url(#fr3)">
<polyline points="216.1,133.0 228.6,156.0 246.4,170.6" fill="none" stroke="#e00000" stroke-width="1.6" stroke-linecap="round" opacity="1"/>
<polyline points="224.5,165.4 246.4,170.6" fill="none" stroke="#d00000" stroke-width="1.2" stroke-linecap="round" opacity="1"/>
<polyline points="289.4,164.4 309.3,145.5" fill="none" stroke="#c00000" stroke-width="1.0" stroke-linecap="round" opacity="1"/>
<polyline points="132.3,170.6 128.1,200.0" fill="none" stroke="#d00000" stroke-width="1.2" stroke-linecap="round" opacity="1"/>
<polyline points="134.4,170.6 151.2,195.8" fill="none" stroke="#c00000" stroke-width="1.0" stroke-linecap="round" opacity="1"/>
<polyline points="17.2,86.9 6.7,101.5" fill="none" stroke="#d00000" stroke-width="1.2" stroke-linecap="round" opacity="1"/>
<polyline points="207.7,55.5 194.1,62.8" fill="none" stroke="#c00000" stroke-width="1.0" stroke-linecap="round" opacity="1"/>
<g fill="none" stroke="#ff0000" stroke-opacity="0.2" stroke-width="2.4"><ellipse cx="87.3" cy="9.4" rx="19.3" ry="12.0"/><ellipse cx="127.1" cy="15.7" rx="19.3" ry="19.3"/><ellipse cx="156.4" cy="12.6" rx="15.1" ry="15.1"/><ellipse cx="199.3" cy="6.3" rx="16.2" ry="9.9"/><ellipse cx="22.4" cy="31.4" rx="18.3" ry="15.1" transform="rotate(15 22.4 31.4)"/><ellipse cx="130.2" cy="42.9" rx="15.1" ry="17.2"/><ellipse cx="220.3" cy="37.7" rx="20.3" ry="20.3"/><ellipse cx="243.3" cy="54.4" rx="17.2" ry="16.2"/><ellipse cx="286.2" cy="35.6" rx="13.6" ry="13.0"/><ellipse cx="304.0" cy="59.7" rx="7.8" ry="12.0"/><ellipse cx="32.9" cy="74.3" rx="21.4" ry="19.3"/><ellipse cx="277.8" cy="84.8" rx="17.2" ry="16.6"/><ellipse cx="64.3" cy="133.0" rx="14.5" ry="15.7"/><ellipse cx="130.2" cy="127.7" rx="18.7" ry="18.3"/><ellipse cx="132.3" cy="157.0" rx="16.2" ry="16.2"/><ellipse cx="273.7" cy="161.2" rx="16.2" ry="10.3"/><ellipse cx="267.4" cy="182.2" rx="22.4" ry="17.2"/><ellipse cx="53.8" cy="198.9" rx="17.2" ry="17.8"/><ellipse cx="28.7" cy="202.1" rx="15.1" ry="15.7"/><ellipse cx="11.9" cy="223.0" rx="15.1" ry="15.7"/><ellipse cx="10.9" cy="242.9" rx="15.1" ry="13.6"/><ellipse cx="286.2" cy="225.1" rx="17.2" ry="15.1"/><ellipse cx="297.7" cy="242.9" rx="14.1" ry="15.7"/><ellipse cx="58.0" cy="254.4" rx="13.0" ry="16.2"/><ellipse cx="94.6" cy="227.2" rx="12.0" ry="13.0"/><ellipse cx="111.4" cy="243.9" rx="14.1" ry="14.1"/><ellipse cx="119.8" cy="267.0" rx="16.2" ry="17.2"/><ellipse cx="232.8" cy="248.1" rx="28.7" ry="24.5"/><ellipse cx="164.8" cy="283.7" rx="22.4" ry="23.5"/><ellipse cx="203.5" cy="285.8" rx="17.2" ry="16.6"/><ellipse cx="59.0" cy="301.5" rx="18.3" ry="10.9"/><ellipse cx="250.6" cy="298.4" rx="16.2" ry="14.1"/><ellipse cx="307.2" cy="128.8" rx="5.7" ry="16.2"/></g><ellipse cx="87.3" cy="9.4" rx="16.7" ry="9.4" fill="url(#gn10)" stroke="#ff1414" stroke-width="3.6"/><ellipse cx="127.1" cy="15.7" rx="16.7" ry="16.7" fill="url(#gn15)" stroke="#ff1414" stroke-width="3.6"/><ellipse cx="156.4" cy="12.6" rx="12.5" ry="12.5" fill="url(#gn14)" stroke="#ff1414" stroke-width="3.6"/><ellipse cx="199.3" cy="6.3" rx="13.6" ry="7.3" fill="url(#gn14)" stroke="#ff1414" stroke-width="3.6"/><ellipse cx="22.4" cy="31.4" rx="15.7" ry="12.5" fill="url(#gn14)" stroke="#ff1414" stroke-width="3.6" transform="rotate(15 22.4 31.4)"/><ellipse cx="130.2" cy="42.9" rx="12.5" ry="14.6" fill="url(#gn15)" stroke="#ff1414" stroke-width="3.6"/><ellipse cx="220.3" cy="37.7" rx="17.7" ry="17.7" fill="url(#gn12)" stroke="#ff1414" stroke-width="3.6"/><ellipse cx="243.3" cy="54.4" rx="14.6" ry="13.6" fill="url(#gn15)" stroke="#ff1414" stroke-width="3.6"/><ellipse cx="286.2" cy="35.6" rx="11.0" ry="10.4" fill="url(#gn14)" stroke="#ff1414" stroke-width="3.6"/><ellipse cx="304.0" cy="59.7" rx="5.2" ry="9.4" fill="url(#gn10)" stroke="#ff1414" stroke-width="3.6"/><ellipse cx="32.9" cy="74.3" rx="18.8" ry="16.7" fill="url(#gn14)" stroke="#ff1414" stroke-width="3.6"/><ellipse cx="277.8" cy="84.8" rx="14.6" ry="14.0" fill="url(#gn12)" stroke="#ff1414" stroke-width="3.6"/><ellipse cx="64.3" cy="133.0" rx="11.9" ry="13.1" fill="url(#gn12)" stroke="#ff1414" stroke-width="3.6"/><ellipse cx="130.2" cy="127.7" rx="16.1" ry="15.7" fill="url(#gn12)" stroke="#ff1414" stroke-width="3.6"/><ellipse cx="132.3" cy="157.0" rx="13.6" ry="13.6" fill="url(#gn14)" stroke="#ff1414" stroke-width="3.6"/><ellipse cx="273.7" cy="161.2" rx="13.6" ry="7.7" fill="url(#gn11)" stroke="#ff1414" stroke-width="3.6"/><ellipse cx="267.4" cy="182.2" rx="19.8" ry="14.6" fill="url(#gn14)" stroke="#ff1414" stroke-width="3.6"/><ellipse cx="53.8" cy="198.9" rx="14.6" ry="15.2" fill="url(#gn12)" stroke="#ff1414" stroke-width="3.6"/><ellipse cx="28.7" cy="202.1" rx="12.5" ry="13.1" fill="url(#gn11)" stroke="#ff1414" stroke-width="3.6"/><ellipse cx="11.9" cy="223.0" rx="12.5" ry="13.1" fill="url(#gn14)" stroke="#ff1414" stroke-width="3.6"/><ellipse cx="10.9" cy="242.9" rx="12.5" ry="11.0" fill="url(#gn12)" stroke="#ff1414" stroke-width="3.6"/><ellipse cx="286.2" cy="225.1" rx="14.6" ry="12.5" fill="url(#gn15)" stroke="#ff1414" stroke-width="3.6"/><ellipse cx="297.7" cy="242.9" rx="11.5" ry="13.1" fill="url(#gn13)" stroke="#ff1414" stroke-width="3.6"/><ellipse cx="58.0" cy="254.4" rx="10.4" ry="13.6" fill="url(#gn01)" stroke="#ff1010" stroke-width="3.6"/><ellipse cx="94.6" cy="227.2" rx="9.4" ry="10.4" fill="url(#gn02)" stroke="#ff1010" stroke-width="3.6"/><ellipse cx="111.4" cy="243.9" rx="11.5" ry="11.5" fill="url(#gb4)" stroke="#ff1a1a" stroke-width="3.6"/><ellipse cx="119.8" cy="267.0" rx="13.6" ry="14.6" fill="url(#gn10)" stroke="#ff1414" stroke-width="3.6"/><ellipse cx="232.8" cy="248.1" rx="26.1" ry="21.9" fill="url(#gn14)" stroke="#ff1414" stroke-width="3.6"/><ellipse cx="164.8" cy="283.7" rx="19.8" ry="20.9" fill="url(#gn11)" stroke="#ff1414" stroke-width="3.6"/><ellipse cx="203.5" cy="285.8" rx="14.6" ry="14.0" fill="url(#gn12)" stroke="#ff1414" stroke-width="3.6"/><ellipse cx="59.0" cy="301.5" rx="15.7" ry="8.3" fill="url(#gn14)" stroke="#ff1414" stroke-width="3.6"/><ellipse cx="250.6" cy="298.4" rx="13.6" ry="11.5" fill="url(#gn12)" stroke="#ff1414" stroke-width="3.6"/><ellipse cx="307.2" cy="128.8" rx="3.1" ry="13.6" fill="url(#gn10)" stroke="#ff1414" stroke-width="3.6"/>
</g>
<g filter="url(#fb3)" opacity="0.93"><ellipse cx="93.6" cy="7.3" rx="8.5" ry="7.5" fill="url(#gmd)"/><ellipse cx="130.2" cy="8.4" rx="8.1" ry="7.5" fill="url(#gmd)"/><ellipse cx="153.3" cy="12.6" rx="7.5" ry="8.1" fill="url(#gmd)"/><ellipse cx="194.1" cy="5.2" rx="8.5" ry="5.3" fill="url(#gmd)"/><ellipse cx="12.6" cy="28.3" rx="4.7" ry="9.6" fill="url(#gm)" transform="rotate(15 12.6 28.3)"/><ellipse cx="136.9" cy="38.3" rx="6.8" ry="6.8" fill="url(#gmr)"/><ellipse cx="222.4" cy="37.7" rx="8.5" ry="8.5" fill="url(#gmd)"/><ellipse cx="246.4" cy="55.5" rx="8.1" ry="8.1" fill="url(#gmr)"/><ellipse cx="285.2" cy="34.5" rx="8.5" ry="7.5" fill="url(#gmd)"/><ellipse cx="29.7" cy="68.5" rx="9.6" ry="8.5" fill="url(#gmr)"/><ellipse cx="47.5" cy="75.4" rx="5.3" ry="6.4" fill="url(#gmd)"/><ellipse cx="282.5" cy="86.9" rx="8.5" ry="8.5" fill="url(#gmr)"/><ellipse cx="70.1" cy="131.5" rx="6.4" ry="9.0" fill="url(#gm)"/><ellipse cx="135.1" cy="127.7" rx="7.5" ry="12.8" fill="url(#gm)"/><ellipse cx="135.5" cy="158.1" rx="8.5" ry="9.0" fill="url(#gmr)"/><ellipse cx="282.0" cy="162.9" rx="7.7" ry="7.7" fill="url(#gmr)"/><ellipse cx="264.9" cy="185.3" rx="8.1" ry="7.7" fill="url(#gmr)"/><ellipse cx="256.9" cy="198.5" rx="7.3" ry="7.3" fill="url(#gmr)"/><ellipse cx="62.2" cy="197.4" rx="7.5" ry="9.0" fill="url(#gmr)"/><ellipse cx="23.0" cy="203.1" rx="7.9" ry="8.1" fill="url(#gmr)"/><ellipse cx="7.7" cy="216.7" rx="6.4" ry="6.4" fill="url(#gmd)"/><ellipse cx="6.3" cy="238.7" rx="6.8" ry="6.4" fill="url(#gmd)"/><ellipse cx="87.9" cy="224.0" rx="6.0" ry="6.4" fill="url(#gm)"/><ellipse cx="101.5" cy="230.9" rx="7.7" ry="7.5" fill="url(#gm)"/><ellipse cx="107.2" cy="248.1" rx="6.8" ry="7.5" fill="url(#gmd)"/><ellipse cx="120.2" cy="259.6" rx="7.7" ry="8.1" fill="url(#gmr)"/><ellipse cx="58.0" cy="250.6" rx="7.5" ry="7.5" fill="url(#gmd)"/><ellipse cx="291.0" cy="219.8" rx="6.8" ry="6.4" fill="url(#gmd)"/><ellipse cx="297.3" cy="235.6" rx="9.0" ry="8.5" fill="url(#gmr)"/><ellipse cx="216.1" cy="250.6" rx="8.1" ry="8.5" fill="url(#gmr)"/><ellipse cx="238.1" cy="249.2" rx="4.3" ry="2.6" fill="url(#gm)"/><ellipse cx="164.4" cy="284.8" rx="8.5" ry="9.0" fill="url(#gmr)"/><ellipse cx="208.8" cy="291.0" rx="9.6" ry="8.1" fill="url(#gmr)"/><ellipse cx="44.0" cy="298.4" rx="7.7" ry="7.5" fill="url(#gmr)"/><ellipse cx="62.2" cy="303.6" rx="9.6" ry="7.5" fill="url(#gmr)"/><ellipse cx="258.0" cy="290.0" rx="4.7" ry="6.4" fill="url(#gm)"/><ellipse cx="249.6" cy="305.7" rx="6.4" ry="4.3" fill="url(#gmd)"/></g>
<rect x="245.3" y="281.5" width="34.6" height="3.0" fill="#fff"/>
</g>
<g transform="translate(1318.1,1984.0)" clip-path="url(#clip4)">
<rect x="0" y="0" width="310.0" height="309.8" fill="#090000"/>
<g filter="url(#fr4)">
<polyline points="234.9,80.6 224.5,99.5 226.5,114.1 233.9,128.8" fill="none" stroke="#c80000" stroke-width="1.5" stroke-linecap="round" opacity="1"/>
<g fill="none" stroke="#ff0000" stroke-opacity="0.2" stroke-width="2.4"><ellipse cx="112.4" cy="11.5" rx="15.1" ry="14.1"/><ellipse cx="58.0" cy="60.7" rx="14.1" ry="16.2"/><ellipse cx="87.3" cy="58.6" rx="19.3" ry="20.3"/><ellipse cx="130.2" cy="57.6" rx="17.2" ry="14.5"/><ellipse cx="121.9" cy="81.7" rx="19.3" ry="18.3"/><ellipse cx="113.5" cy="91.1" rx="13.0" ry="15.1"/><ellipse cx="68.5" cy="103.6" rx="24.5" ry="15.1"/><ellipse cx="137.6" cy="106.8" rx="14.1" ry="14.1"/><ellipse cx="260.1" cy="70.1" rx="14.1" ry="14.1"/><ellipse cx="279.9" cy="91.1" rx="13.0" ry="13.0"/><ellipse cx="239.1" cy="37.7" rx="12.0" ry="10.9"/><ellipse cx="7.7" cy="91.1" rx="8.8" ry="13.0"/><ellipse cx="24.5" cy="150.8" rx="19.3" ry="15.7"/><ellipse cx="153.3" cy="149.7" rx="12.0" ry="13.0"/><ellipse cx="173.2" cy="147.6" rx="14.1" ry="14.1"/><ellipse cx="159.5" cy="162.3" rx="12.0" ry="10.9"/><ellipse cx="175.3" cy="175.9" rx="14.1" ry="12.0"/><ellipse cx="177.3" cy="195.8" rx="12.0" ry="11.6"/><ellipse cx="160.6" cy="194.7" rx="12.0" ry="13.0"/><ellipse cx="20.3" cy="195.8" rx="12.4" ry="13.0"/><ellipse cx="98.8" cy="186.3" rx="13.0" ry="15.1"/><ellipse cx="114.5" cy="195.8" rx="16.2" ry="17.2"/><ellipse cx="86.3" cy="209.4" rx="14.1" ry="15.1"/><ellipse cx="98.8" cy="229.3" rx="20.3" ry="20.3"/><ellipse cx="129.2" cy="220.9" rx="15.1" ry="17.2"/><ellipse cx="151.2" cy="214.6" rx="13.0" ry="13.0"/><ellipse cx="51.7" cy="230.3" rx="15.1" ry="15.1"/><ellipse cx="54.9" cy="257.5" rx="11.6" ry="12.0"/><ellipse cx="8.8" cy="257.5" rx="12.0" ry="14.1"/><ellipse cx="246.4" cy="148.7" rx="16.2" ry="22.4"/><ellipse cx="277.8" cy="158.1" rx="18.3" ry="17.2"/><ellipse cx="230.7" cy="170.6" rx="16.2" ry="13.0"/><ellipse cx="221.3" cy="215.7" rx="13.0" ry="14.1"/><ellipse cx="242.3" cy="211.5" rx="14.1" ry="13.6"/><ellipse cx="268.4" cy="235.6" rx="14.1" ry="14.1"/><ellipse cx="260.1" cy="267.0" rx="19.3" ry="18.3"/><ellipse cx="300.9" cy="264.9" rx="10.9" ry="10.9"/><ellipse cx="292.5" cy="290.0" rx="16.2" ry="16.2"/><ellipse cx="247.5" cy="298.4" rx="13.0" ry="12.0"/><ellipse cx="15.1" cy="304.6" rx="12.0" ry="7.8"/></g><ellipse cx="112.4" cy="11.5" rx="12.5" ry="11.5" fill="url(#gn03)" stroke="#ff1010" stroke-width="3.6"/><ellipse cx="58.0" cy="60.7" rx="11.5" ry="13.6" fill="url(#gn15)" stroke="#ff1414" stroke-width="3.6"/><ellipse cx="87.3" cy="58.6" rx="16.7" ry="17.7" fill="url(#gn11)" stroke="#ff1414" stroke-width="3.6"/><ellipse cx="130.2" cy="57.6" rx="14.6" ry="11.9" fill="url(#gn13)" stroke="#ff1414" stroke-width="3.6"/><ellipse cx="121.9" cy="81.7" rx="16.7" ry="15.7" fill="url(#gn11)" stroke="#ff1414" stroke-width="3.6"/><ellipse cx="113.5" cy="91.1" rx="10.4" ry="12.5" fill="url(#gn10)" stroke="#ff1414" stroke-width="3.6"/><ellipse cx="68.5" cy="103.6" rx="21.9" ry="12.5" fill="url(#gn14)" stroke="#ff1414" stroke-width="3.6"/><ellipse cx="137.6" cy="106.8" rx="11.5" ry="11.5" fill="url(#gn10)" stroke="#ff1414" stroke-width="3.6"/><ellipse cx="260.1" cy="70.1" rx="11.5" ry="11.5" fill="url(#gn10)" stroke="#ff1414" stroke-width="3.6"/><ellipse cx="279.9" cy="91.1" rx="10.4" ry="10.4" fill="url(#gn05)" stroke="#ff1010" stroke-width="3.6"/><ellipse cx="239.1" cy="37.7" rx="9.4" ry="8.3" fill="url(#gn00)" stroke="#ff1010" stroke-width="3.6"/><ellipse cx="7.7" cy="91.1" rx="6.2" ry="10.4" fill="url(#gn10)" stroke="#ff1414" stroke-width="3.6"/><ellipse cx="24.5" cy="150.8" rx="16.7" ry="13.1" fill="url(#gn12)" stroke="#ff1414" stroke-width="3.6"/><ellipse cx="153.3" cy="149.7" rx="9.4" ry="10.4" fill="url(#gn13)" stroke="#ff1414" stroke-width="3.6"/><ellipse cx="173.2" cy="147.6" rx="11.5" ry="11.5" fill="url(#gn14)" stroke="#ff1414" stroke-width="3.6"/><ellipse cx="159.5" cy="162.3" rx="9.4" ry="8.3" fill="url(#gn11)" stroke="#ff1414" stroke-width="3.6"/><ellipse cx="175.3" cy="175.9" rx="11.5" ry="9.4" fill="url(#gn13)" stroke="#ff1414" stroke-width="3.6"/><ellipse cx="177.3" cy="195.8" rx="9.4" ry="9.0" fill="url(#gn11)" stroke="#ff1414" stroke-width="3.6"/><ellipse cx="160.6" cy="194.7" rx="9.4" ry="10.4" fill="url(#gn11)" stroke="#ff1414" stroke-width="3.6"/><ellipse cx="20.3" cy="195.8" rx="9.8" ry="10.4" fill="url(#gn15)" stroke="#ff1414" stroke-width="3.6"/><ellipse cx="98.8" cy="186.3" rx="10.4" ry="12.5" fill="url(#gn10)" stroke="#ff1414" stroke-width="3.6"/><ellipse cx="114.5" cy="195.8" rx="13.6" ry="14.6" fill="url(#gn12)" stroke="#ff1414" stroke-width="3.6"/><ellipse cx="86.3" cy="209.4" rx="11.5" ry="12.5" fill="url(#gn15)" stroke="#ff1414" stroke-width="3.6"/><ellipse cx="98.8" cy="229.3" rx="17.7" ry="17.7" fill="url(#gn14)" stroke="#ff1414" stroke-width="3.6"/><ellipse cx="129.2" cy="220.9" rx="12.5" ry="14.6" fill="url(#gn14)" stroke="#ff1414" stroke-width="3.6"/><ellipse cx="151.2" cy="214.6" rx="10.4" ry="10.4" fill="url(#gn10)" stroke="#ff1414" stroke-width="3.6"/><ellipse cx="51.7" cy="230.3" rx="12.5" ry="12.5" fill="url(#gn14)" stroke="#ff1414" stroke-width="3.6"/><ellipse cx="54.9" cy="257.5" rx="9.0" ry="9.4" fill="url(#gn12)" stroke="#ff1414" stroke-width="3.6"/><ellipse cx="8.8" cy="257.5" rx="9.4" ry="11.5" fill="url(#gn14)" stroke="#ff1414" stroke-width="3.6"/><ellipse cx="246.4" cy="148.7" rx="13.6" ry="19.8" fill="url(#gn02)" stroke="#ff1010" stroke-width="3.6"/><ellipse cx="277.8" cy="158.1" rx="15.7" ry="14.6" fill="url(#gn13)" stroke="#ff1414" stroke-width="3.6"/><ellipse cx="230.7" cy="170.6" rx="13.6" ry="10.4" fill="url(#gn12)" stroke="#ff1414" stroke-width="3.6"/><ellipse cx="221.3" cy="215.7" rx="10.4" ry="11.5" fill="url(#gn12)" stroke="#ff1414" stroke-width="3.6"/><ellipse cx="242.3" cy="211.5" rx="11.5" ry="11.0" fill="url(#gn11)" stroke="#ff1414" stroke-width="3.6"/><ellipse cx="268.4" cy="235.6" rx="11.5" ry="11.5" fill="url(#gn14)" stroke="#ff1414" stroke-width="3.6"/><ellipse cx="260.1" cy="267.0" rx="16.7" ry="15.7" fill="url(#gn15)" stroke="#ff1414" stroke-width="3.6"/><ellipse cx="300.9" cy="264.9" rx="8.3" ry="8.3" fill="url(#gn13)" stroke="#ff1414" stroke-width="3.6"/><ellipse cx="292.5" cy="290.0" rx="13.6" ry="13.6" fill="url(#gn10)" stroke="#ff1414" stroke-width="3.6"/><ellipse cx="247.5" cy="298.4" rx="10.4" ry="9.4" fill="url(#gn10)" stroke="#ff1414" stroke-width="3.6"/><ellipse cx="15.1" cy="304.6" rx="9.4" ry="5.2" fill="url(#gn10)" stroke="#ff1414" stroke-width="3.6"/>
</g>
<g filter="url(#fb4)" opacity="0.93"><ellipse cx="59.0" cy="55.5" rx="9.4" ry="9.4" fill="url(#gm)"/><ellipse cx="124.6" cy="54.4" rx="9.6" ry="9.0" fill="url(#gm)"/><ellipse cx="96.3" cy="69.7" rx="9.2" ry="8.5" fill="url(#gm)"/><ellipse cx="128.1" cy="83.8" rx="9.6" ry="11.7" fill="url(#gm)"/><ellipse cx="110.8" cy="90.0" rx="8.1" ry="8.1" fill="url(#gm)"/><ellipse cx="58.0" cy="106.2" rx="9.2" ry="8.5" fill="url(#gm)"/><ellipse cx="130.9" cy="109.9" rx="7.5" ry="7.5" fill="url(#gm)"/><ellipse cx="116.2" cy="113.1" rx="6.4" ry="6.8" fill="url(#gmd)"/><ellipse cx="3.6" cy="93.2" rx="5.3" ry="8.5" fill="url(#gm)"/><ellipse cx="261.7" cy="74.3" rx="9.8" ry="8.1" fill="url(#gm)"/><ellipse cx="20.3" cy="149.3" rx="10.0" ry="9.4" fill="url(#gm)"/><ellipse cx="152.2" cy="146.6" rx="8.5" ry="9.0" fill="url(#gm)"/><ellipse cx="174.6" cy="148.7" rx="7.0" ry="8.5" fill="url(#gm)"/><ellipse cx="158.5" cy="163.3" rx="7.7" ry="7.7" fill="url(#gm)"/><ellipse cx="171.5" cy="176.5" rx="8.5" ry="8.5" fill="url(#gm)"/><ellipse cx="163.1" cy="190.5" rx="7.5" ry="6.8" fill="url(#gm)"/><ellipse cx="182.0" cy="194.3" rx="6.8" ry="8.5" fill="url(#gm)"/><ellipse cx="253.8" cy="156.4" rx="9.0" ry="8.5" fill="url(#gm)"/><ellipse cx="271.1" cy="158.5" rx="7.7" ry="8.5" fill="url(#gm)"/><ellipse cx="286.9" cy="164.4" rx="8.1" ry="8.5" fill="url(#gm)"/><ellipse cx="226.1" cy="170.2" rx="7.3" ry="7.3" fill="url(#gm)"/><ellipse cx="20.3" cy="190.5" rx="7.7" ry="7.7" fill="url(#gm)"/><ellipse cx="100.9" cy="179.4" rx="8.5" ry="7.5" fill="url(#gm)"/><ellipse cx="113.1" cy="193.7" rx="11.1" ry="10.7" fill="url(#gm)"/><ellipse cx="90.5" cy="206.9" rx="7.7" ry="7.7" fill="url(#gmd)"/><ellipse cx="145.9" cy="211.1" rx="9.0" ry="8.5" fill="url(#gm)"/><ellipse cx="122.3" cy="217.8" rx="8.1" ry="8.1" fill="url(#gm)"/><ellipse cx="106.8" cy="229.3" rx="10.3" ry="9.6" fill="url(#gm)"/><ellipse cx="50.3" cy="226.8" rx="9.2" ry="9.0" fill="url(#gm)"/><ellipse cx="223.4" cy="213.6" rx="7.7" ry="7.7" fill="url(#gm)"/><ellipse cx="242.3" cy="207.9" rx="9.8" ry="9.0" fill="url(#gm)"/><ellipse cx="267.0" cy="232.4" rx="9.0" ry="8.1" fill="url(#gm)"/><ellipse cx="9.8" cy="259.0" rx="8.5" ry="9.6" fill="url(#gm)"/><ellipse cx="54.9" cy="261.7" rx="8.1" ry="7.3" fill="url(#gm)"/><ellipse cx="243.3" cy="272.2" rx="6.8" ry="8.1" fill="url(#gm)"/><ellipse cx="261.1" cy="274.3" rx="8.1" ry="7.7" fill="url(#gm)"/><ellipse cx="303.0" cy="265.3" rx="6.8" ry="7.5" fill="url(#gm)"/><ellipse cx="290.4" cy="289.6" rx="9.0" ry="9.8" fill="url(#gm)"/><ellipse cx="247.5" cy="294.2" rx="8.5" ry="6.8" fill="url(#gm)"/><ellipse cx="14.4" cy="305.7" rx="8.1" ry="5.3" fill="url(#gm)"/></g>
<rect x="244.8" y="281.5" width="34.6" height="3.0" fill="#fff"/>
</g>
<text x="76.5" y="1342.0" font-size="38.1" font-weight="normal" text-anchor="start" fill="#000">control</text>
<text x="389.5" y="1342.0" font-size="38.1" font-weight="normal" text-anchor="start" fill="#000">2.2 mM 2h</text>
<text x="709.0" y="1342.0" font-size="38.1" font-weight="normal" text-anchor="start" fill="#000">4.4 mM 2h</text>
<text x="1019.0" y="1342.0" font-size="38.1" font-weight="normal" text-anchor="start" fill="#000">2.2 mM 24h</text>
<text x="1333.5" y="1342.0" font-size="38.1" font-weight="normal" text-anchor="start" fill="#000">4.4 mM 24h</text>
<text x="29.6" y="1492.0" font-size="41.4" font-weight="normal" text-anchor="middle" fill="#f01818" transform="rotate(-90 29.6 1492.0)">Phalloidin</text>
<text x="30.0" y="1811.8" font-size="41.5" font-weight="normal" text-anchor="middle" fill="#1c78c8" transform="rotate(-90 30.0 1811.8)" letter-spacing="1.3">H33342</text>
<text x="32.0" y="2141.0" font-size="41.3" font-weight="normal" text-anchor="middle" fill="#000" transform="rotate(-90 32.0 2141.0)">Merged</text>
</svg></body></html>
